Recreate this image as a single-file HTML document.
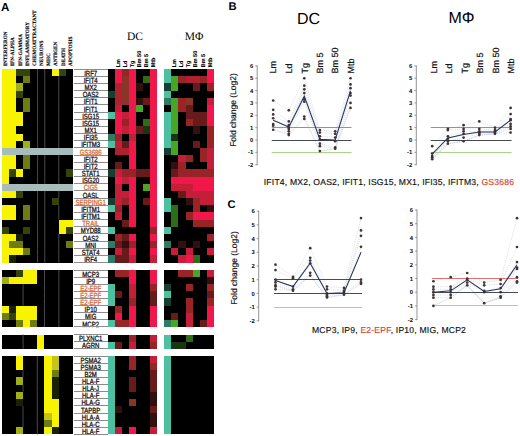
<!DOCTYPE html>
<html><head><meta charset="utf-8"><title>Figure</title>
<style>
html,body{margin:0;padding:0;background:#fff;}
body{width:520px;height:436px;overflow:hidden;font-family:"Liberation Sans",sans-serif;}
svg{display:block;}
</style></head>
<body>
<svg width="520" height="436" viewBox="0 0 520 436" text-rendering="geometricPrecision">
<rect x="0" y="0" width="520" height="436" fill="#fff"/>
<rect x="1.50" y="69.00" width="7.21" height="7.22" fill="#f8f300" shape-rendering="crispEdges"/>
<rect x="8.66" y="69.00" width="7.21" height="7.22" fill="#f8f300" shape-rendering="crispEdges"/>
<rect x="15.82" y="69.00" width="7.21" height="7.22" fill="#37430c" shape-rendering="crispEdges"/>
<rect x="22.98" y="69.00" width="7.21" height="7.22" fill="#37430c" shape-rendering="crispEdges"/>
<rect x="30.14" y="69.00" width="7.21" height="7.22" fill="#000000" shape-rendering="crispEdges"/>
<rect x="37.30" y="69.00" width="7.21" height="7.22" fill="#000000" shape-rendering="crispEdges"/>
<rect x="44.46" y="69.00" width="7.21" height="7.22" fill="#000000" shape-rendering="crispEdges"/>
<rect x="51.62" y="69.00" width="7.21" height="7.22" fill="#f8f300" shape-rendering="crispEdges"/>
<rect x="58.78" y="69.00" width="7.21" height="7.22" fill="#37430c" shape-rendering="crispEdges"/>
<rect x="65.94" y="69.00" width="7.21" height="7.22" fill="#000000" shape-rendering="crispEdges"/>
<rect x="108.00" y="69.00" width="6.85" height="7.22" fill="#000000" shape-rendering="crispEdges"/>
<rect x="114.80" y="69.00" width="7.15" height="7.22" fill="#f0184a" shape-rendering="crispEdges"/>
<rect x="121.90" y="69.00" width="7.15" height="7.22" fill="#982428" shape-rendering="crispEdges"/>
<rect x="129.00" y="69.00" width="7.15" height="7.22" fill="#f0184a" shape-rendering="crispEdges"/>
<rect x="136.10" y="69.00" width="7.15" height="7.22" fill="#000000" shape-rendering="crispEdges"/>
<rect x="143.20" y="69.00" width="7.15" height="7.22" fill="#000000" shape-rendering="crispEdges"/>
<rect x="150.30" y="69.00" width="7.15" height="7.22" fill="#f0184a" shape-rendering="crispEdges"/>
<rect x="164.20" y="69.00" width="7.25" height="7.22" fill="#4cc0a0" shape-rendering="crispEdges"/>
<rect x="171.40" y="69.00" width="7.10" height="7.22" fill="#000000" shape-rendering="crispEdges"/>
<rect x="178.45" y="69.00" width="7.10" height="7.22" fill="#000000" shape-rendering="crispEdges"/>
<rect x="185.50" y="69.00" width="7.10" height="7.22" fill="#000000" shape-rendering="crispEdges"/>
<rect x="192.55" y="69.00" width="7.10" height="7.22" fill="#000000" shape-rendering="crispEdges"/>
<rect x="199.60" y="69.00" width="7.10" height="7.22" fill="#000000" shape-rendering="crispEdges"/>
<rect x="206.65" y="69.00" width="7.10" height="7.22" fill="#f0184a" shape-rendering="crispEdges"/>
<rect x="1.50" y="76.17" width="7.21" height="7.22" fill="#f8f300" shape-rendering="crispEdges"/>
<rect x="8.66" y="76.17" width="7.21" height="7.22" fill="#f8f300" shape-rendering="crispEdges"/>
<rect x="15.82" y="76.17" width="7.21" height="7.22" fill="#000000" shape-rendering="crispEdges"/>
<rect x="22.98" y="76.17" width="7.21" height="7.22" fill="#6f7c12" shape-rendering="crispEdges"/>
<rect x="30.14" y="76.17" width="7.21" height="7.22" fill="#000000" shape-rendering="crispEdges"/>
<rect x="37.30" y="76.17" width="7.21" height="7.22" fill="#000000" shape-rendering="crispEdges"/>
<rect x="44.46" y="76.17" width="7.21" height="7.22" fill="#000000" shape-rendering="crispEdges"/>
<rect x="51.62" y="76.17" width="7.21" height="7.22" fill="#000000" shape-rendering="crispEdges"/>
<rect x="58.78" y="76.17" width="7.21" height="7.22" fill="#000000" shape-rendering="crispEdges"/>
<rect x="65.94" y="76.17" width="7.21" height="7.22" fill="#000000" shape-rendering="crispEdges"/>
<rect x="108.00" y="76.17" width="6.85" height="7.22" fill="#000000" shape-rendering="crispEdges"/>
<rect x="114.80" y="76.17" width="7.15" height="7.22" fill="#f0184a" shape-rendering="crispEdges"/>
<rect x="121.90" y="76.17" width="7.15" height="7.22" fill="#8a3527" shape-rendering="crispEdges"/>
<rect x="129.00" y="76.17" width="7.15" height="7.22" fill="#f0184a" shape-rendering="crispEdges"/>
<rect x="136.10" y="76.17" width="7.15" height="7.22" fill="#000000" shape-rendering="crispEdges"/>
<rect x="143.20" y="76.17" width="7.15" height="7.22" fill="#2d6c18" shape-rendering="crispEdges"/>
<rect x="150.30" y="76.17" width="7.15" height="7.22" fill="#f0184a" shape-rendering="crispEdges"/>
<rect x="164.20" y="76.17" width="7.25" height="7.22" fill="#4cc0a0" shape-rendering="crispEdges"/>
<rect x="171.40" y="76.17" width="7.10" height="7.22" fill="#46a626" shape-rendering="crispEdges"/>
<rect x="178.45" y="76.17" width="7.10" height="7.22" fill="#982428" shape-rendering="crispEdges"/>
<rect x="185.50" y="76.17" width="7.10" height="7.22" fill="#ae2230" shape-rendering="crispEdges"/>
<rect x="192.55" y="76.17" width="7.10" height="7.22" fill="#ae2230" shape-rendering="crispEdges"/>
<rect x="199.60" y="76.17" width="7.10" height="7.22" fill="#982428" shape-rendering="crispEdges"/>
<rect x="206.65" y="76.17" width="7.10" height="7.22" fill="#f0184a" shape-rendering="crispEdges"/>
<rect x="1.50" y="83.34" width="7.21" height="7.22" fill="#f8f300" shape-rendering="crispEdges"/>
<rect x="8.66" y="83.34" width="7.21" height="7.22" fill="#f8f300" shape-rendering="crispEdges"/>
<rect x="15.82" y="83.34" width="7.21" height="7.22" fill="#a2ae16" shape-rendering="crispEdges"/>
<rect x="22.98" y="83.34" width="7.21" height="7.22" fill="#000000" shape-rendering="crispEdges"/>
<rect x="30.14" y="83.34" width="7.21" height="7.22" fill="#000000" shape-rendering="crispEdges"/>
<rect x="37.30" y="83.34" width="7.21" height="7.22" fill="#000000" shape-rendering="crispEdges"/>
<rect x="44.46" y="83.34" width="7.21" height="7.22" fill="#000000" shape-rendering="crispEdges"/>
<rect x="51.62" y="83.34" width="7.21" height="7.22" fill="#000000" shape-rendering="crispEdges"/>
<rect x="58.78" y="83.34" width="7.21" height="7.22" fill="#000000" shape-rendering="crispEdges"/>
<rect x="65.94" y="83.34" width="7.21" height="7.22" fill="#000000" shape-rendering="crispEdges"/>
<rect x="108.00" y="83.34" width="6.85" height="7.22" fill="#000000" shape-rendering="crispEdges"/>
<rect x="114.80" y="83.34" width="7.15" height="7.22" fill="#ae2230" shape-rendering="crispEdges"/>
<rect x="121.90" y="83.34" width="7.15" height="7.22" fill="#8a3527" shape-rendering="crispEdges"/>
<rect x="129.00" y="83.34" width="7.15" height="7.22" fill="#f0184a" shape-rendering="crispEdges"/>
<rect x="136.10" y="83.34" width="7.15" height="7.22" fill="#331010" shape-rendering="crispEdges"/>
<rect x="143.20" y="83.34" width="7.15" height="7.22" fill="#000000" shape-rendering="crispEdges"/>
<rect x="150.30" y="83.34" width="7.15" height="7.22" fill="#f0184a" shape-rendering="crispEdges"/>
<rect x="164.20" y="83.34" width="7.25" height="7.22" fill="#173f30" shape-rendering="crispEdges"/>
<rect x="171.40" y="83.34" width="7.10" height="7.22" fill="#46a626" shape-rendering="crispEdges"/>
<rect x="178.45" y="83.34" width="7.10" height="7.22" fill="#000000" shape-rendering="crispEdges"/>
<rect x="185.50" y="83.34" width="7.10" height="7.22" fill="#000000" shape-rendering="crispEdges"/>
<rect x="192.55" y="83.34" width="7.10" height="7.22" fill="#671c1b" shape-rendering="crispEdges"/>
<rect x="199.60" y="83.34" width="7.10" height="7.22" fill="#000000" shape-rendering="crispEdges"/>
<rect x="206.65" y="83.34" width="7.10" height="7.22" fill="#982428" shape-rendering="crispEdges"/>
<rect x="1.50" y="90.51" width="7.21" height="7.22" fill="#f8f300" shape-rendering="crispEdges"/>
<rect x="8.66" y="90.51" width="7.21" height="7.22" fill="#f8f300" shape-rendering="crispEdges"/>
<rect x="15.82" y="90.51" width="7.21" height="7.22" fill="#37430c" shape-rendering="crispEdges"/>
<rect x="22.98" y="90.51" width="7.21" height="7.22" fill="#000000" shape-rendering="crispEdges"/>
<rect x="30.14" y="90.51" width="7.21" height="7.22" fill="#000000" shape-rendering="crispEdges"/>
<rect x="37.30" y="90.51" width="7.21" height="7.22" fill="#000000" shape-rendering="crispEdges"/>
<rect x="44.46" y="90.51" width="7.21" height="7.22" fill="#000000" shape-rendering="crispEdges"/>
<rect x="51.62" y="90.51" width="7.21" height="7.22" fill="#000000" shape-rendering="crispEdges"/>
<rect x="58.78" y="90.51" width="7.21" height="7.22" fill="#000000" shape-rendering="crispEdges"/>
<rect x="65.94" y="90.51" width="7.21" height="7.22" fill="#000000" shape-rendering="crispEdges"/>
<rect x="108.00" y="90.51" width="6.85" height="7.22" fill="#173f30" shape-rendering="crispEdges"/>
<rect x="114.80" y="90.51" width="7.15" height="7.22" fill="#ae2230" shape-rendering="crispEdges"/>
<rect x="121.90" y="90.51" width="7.15" height="7.22" fill="#8a3527" shape-rendering="crispEdges"/>
<rect x="129.00" y="90.51" width="7.15" height="7.22" fill="#f0184a" shape-rendering="crispEdges"/>
<rect x="136.10" y="90.51" width="7.15" height="7.22" fill="#000000" shape-rendering="crispEdges"/>
<rect x="143.20" y="90.51" width="7.15" height="7.22" fill="#000000" shape-rendering="crispEdges"/>
<rect x="150.30" y="90.51" width="7.15" height="7.22" fill="#f0184a" shape-rendering="crispEdges"/>
<rect x="164.20" y="90.51" width="7.25" height="7.22" fill="#4cc0a0" shape-rendering="crispEdges"/>
<rect x="171.40" y="90.51" width="7.10" height="7.22" fill="#000000" shape-rendering="crispEdges"/>
<rect x="178.45" y="90.51" width="7.10" height="7.22" fill="#000000" shape-rendering="crispEdges"/>
<rect x="185.50" y="90.51" width="7.10" height="7.22" fill="#000000" shape-rendering="crispEdges"/>
<rect x="192.55" y="90.51" width="7.10" height="7.22" fill="#000000" shape-rendering="crispEdges"/>
<rect x="199.60" y="90.51" width="7.10" height="7.22" fill="#000000" shape-rendering="crispEdges"/>
<rect x="206.65" y="90.51" width="7.10" height="7.22" fill="#000000" shape-rendering="crispEdges"/>
<rect x="1.50" y="97.68" width="7.21" height="7.22" fill="#f8f300" shape-rendering="crispEdges"/>
<rect x="8.66" y="97.68" width="7.21" height="7.22" fill="#f8f300" shape-rendering="crispEdges"/>
<rect x="15.82" y="97.68" width="7.21" height="7.22" fill="#000000" shape-rendering="crispEdges"/>
<rect x="22.98" y="97.68" width="7.21" height="7.22" fill="#6f7c12" shape-rendering="crispEdges"/>
<rect x="30.14" y="97.68" width="7.21" height="7.22" fill="#000000" shape-rendering="crispEdges"/>
<rect x="37.30" y="97.68" width="7.21" height="7.22" fill="#000000" shape-rendering="crispEdges"/>
<rect x="44.46" y="97.68" width="7.21" height="7.22" fill="#000000" shape-rendering="crispEdges"/>
<rect x="51.62" y="97.68" width="7.21" height="7.22" fill="#000000" shape-rendering="crispEdges"/>
<rect x="58.78" y="97.68" width="7.21" height="7.22" fill="#000000" shape-rendering="crispEdges"/>
<rect x="65.94" y="97.68" width="7.21" height="7.22" fill="#000000" shape-rendering="crispEdges"/>
<rect x="108.00" y="97.68" width="6.85" height="7.22" fill="#000000" shape-rendering="crispEdges"/>
<rect x="114.80" y="97.68" width="7.15" height="7.22" fill="#ae2230" shape-rendering="crispEdges"/>
<rect x="121.90" y="97.68" width="7.15" height="7.22" fill="#8a3527" shape-rendering="crispEdges"/>
<rect x="129.00" y="97.68" width="7.15" height="7.22" fill="#f0184a" shape-rendering="crispEdges"/>
<rect x="136.10" y="97.68" width="7.15" height="7.22" fill="#331010" shape-rendering="crispEdges"/>
<rect x="143.20" y="97.68" width="7.15" height="7.22" fill="#671c1b" shape-rendering="crispEdges"/>
<rect x="150.30" y="97.68" width="7.15" height="7.22" fill="#f0184a" shape-rendering="crispEdges"/>
<rect x="164.20" y="97.68" width="7.25" height="7.22" fill="#2e7a62" shape-rendering="crispEdges"/>
<rect x="171.40" y="97.68" width="7.10" height="7.22" fill="#46a626" shape-rendering="crispEdges"/>
<rect x="178.45" y="97.68" width="7.10" height="7.22" fill="#982428" shape-rendering="crispEdges"/>
<rect x="185.50" y="97.68" width="7.10" height="7.22" fill="#8a3527" shape-rendering="crispEdges"/>
<rect x="192.55" y="97.68" width="7.10" height="7.22" fill="#000000" shape-rendering="crispEdges"/>
<rect x="199.60" y="97.68" width="7.10" height="7.22" fill="#000000" shape-rendering="crispEdges"/>
<rect x="206.65" y="97.68" width="7.10" height="7.22" fill="#c41e39" shape-rendering="crispEdges"/>
<rect x="1.50" y="104.85" width="7.21" height="7.22" fill="#f8f300" shape-rendering="crispEdges"/>
<rect x="8.66" y="104.85" width="7.21" height="7.22" fill="#f8f300" shape-rendering="crispEdges"/>
<rect x="15.82" y="104.85" width="7.21" height="7.22" fill="#000000" shape-rendering="crispEdges"/>
<rect x="22.98" y="104.85" width="7.21" height="7.22" fill="#6f7c12" shape-rendering="crispEdges"/>
<rect x="30.14" y="104.85" width="7.21" height="7.22" fill="#000000" shape-rendering="crispEdges"/>
<rect x="37.30" y="104.85" width="7.21" height="7.22" fill="#000000" shape-rendering="crispEdges"/>
<rect x="44.46" y="104.85" width="7.21" height="7.22" fill="#000000" shape-rendering="crispEdges"/>
<rect x="51.62" y="104.85" width="7.21" height="7.22" fill="#000000" shape-rendering="crispEdges"/>
<rect x="58.78" y="104.85" width="7.21" height="7.22" fill="#000000" shape-rendering="crispEdges"/>
<rect x="65.94" y="104.85" width="7.21" height="7.22" fill="#000000" shape-rendering="crispEdges"/>
<rect x="108.00" y="104.85" width="6.85" height="7.22" fill="#000000" shape-rendering="crispEdges"/>
<rect x="114.80" y="104.85" width="7.15" height="7.22" fill="#c41e39" shape-rendering="crispEdges"/>
<rect x="121.90" y="104.85" width="7.15" height="7.22" fill="#000000" shape-rendering="crispEdges"/>
<rect x="129.00" y="104.85" width="7.15" height="7.22" fill="#f0184a" shape-rendering="crispEdges"/>
<rect x="136.10" y="104.85" width="7.15" height="7.22" fill="#46a626" shape-rendering="crispEdges"/>
<rect x="143.20" y="104.85" width="7.15" height="7.22" fill="#000000" shape-rendering="crispEdges"/>
<rect x="150.30" y="104.85" width="7.15" height="7.22" fill="#f0184a" shape-rendering="crispEdges"/>
<rect x="164.20" y="104.85" width="7.25" height="7.22" fill="#000000" shape-rendering="crispEdges"/>
<rect x="171.40" y="104.85" width="7.10" height="7.22" fill="#46a626" shape-rendering="crispEdges"/>
<rect x="178.45" y="104.85" width="7.10" height="7.22" fill="#982428" shape-rendering="crispEdges"/>
<rect x="185.50" y="104.85" width="7.10" height="7.22" fill="#671c1b" shape-rendering="crispEdges"/>
<rect x="192.55" y="104.85" width="7.10" height="7.22" fill="#000000" shape-rendering="crispEdges"/>
<rect x="199.60" y="104.85" width="7.10" height="7.22" fill="#000000" shape-rendering="crispEdges"/>
<rect x="206.65" y="104.85" width="7.10" height="7.22" fill="#f0184a" shape-rendering="crispEdges"/>
<rect x="1.50" y="112.02" width="7.21" height="7.22" fill="#f8f300" shape-rendering="crispEdges"/>
<rect x="8.66" y="112.02" width="7.21" height="7.22" fill="#f8f300" shape-rendering="crispEdges"/>
<rect x="15.82" y="112.02" width="7.21" height="7.22" fill="#f8f300" shape-rendering="crispEdges"/>
<rect x="22.98" y="112.02" width="7.21" height="7.22" fill="#000000" shape-rendering="crispEdges"/>
<rect x="30.14" y="112.02" width="7.21" height="7.22" fill="#000000" shape-rendering="crispEdges"/>
<rect x="37.30" y="112.02" width="7.21" height="7.22" fill="#000000" shape-rendering="crispEdges"/>
<rect x="44.46" y="112.02" width="7.21" height="7.22" fill="#000000" shape-rendering="crispEdges"/>
<rect x="51.62" y="112.02" width="7.21" height="7.22" fill="#000000" shape-rendering="crispEdges"/>
<rect x="58.78" y="112.02" width="7.21" height="7.22" fill="#000000" shape-rendering="crispEdges"/>
<rect x="65.94" y="112.02" width="7.21" height="7.22" fill="#000000" shape-rendering="crispEdges"/>
<rect x="108.00" y="112.02" width="6.85" height="7.22" fill="#4cc0a0" shape-rendering="crispEdges"/>
<rect x="114.80" y="112.02" width="7.15" height="7.22" fill="#f0184a" shape-rendering="crispEdges"/>
<rect x="121.90" y="112.02" width="7.15" height="7.22" fill="#c41e39" shape-rendering="crispEdges"/>
<rect x="129.00" y="112.02" width="7.15" height="7.22" fill="#f0184a" shape-rendering="crispEdges"/>
<rect x="136.10" y="112.02" width="7.15" height="7.22" fill="#000000" shape-rendering="crispEdges"/>
<rect x="143.20" y="112.02" width="7.15" height="7.22" fill="#000000" shape-rendering="crispEdges"/>
<rect x="150.30" y="112.02" width="7.15" height="7.22" fill="#f0184a" shape-rendering="crispEdges"/>
<rect x="164.20" y="112.02" width="7.25" height="7.22" fill="#4cc0a0" shape-rendering="crispEdges"/>
<rect x="171.40" y="112.02" width="7.10" height="7.22" fill="#46a626" shape-rendering="crispEdges"/>
<rect x="178.45" y="112.02" width="7.10" height="7.22" fill="#000000" shape-rendering="crispEdges"/>
<rect x="185.50" y="112.02" width="7.10" height="7.22" fill="#671c1b" shape-rendering="crispEdges"/>
<rect x="192.55" y="112.02" width="7.10" height="7.22" fill="#671c1b" shape-rendering="crispEdges"/>
<rect x="199.60" y="112.02" width="7.10" height="7.22" fill="#671c1b" shape-rendering="crispEdges"/>
<rect x="206.65" y="112.02" width="7.10" height="7.22" fill="#f0184a" shape-rendering="crispEdges"/>
<rect x="1.50" y="119.19" width="7.21" height="7.22" fill="#f8f300" shape-rendering="crispEdges"/>
<rect x="8.66" y="119.19" width="7.21" height="7.22" fill="#f8f300" shape-rendering="crispEdges"/>
<rect x="15.82" y="119.19" width="7.21" height="7.22" fill="#f8f300" shape-rendering="crispEdges"/>
<rect x="22.98" y="119.19" width="7.21" height="7.22" fill="#000000" shape-rendering="crispEdges"/>
<rect x="30.14" y="119.19" width="7.21" height="7.22" fill="#000000" shape-rendering="crispEdges"/>
<rect x="37.30" y="119.19" width="7.21" height="7.22" fill="#000000" shape-rendering="crispEdges"/>
<rect x="44.46" y="119.19" width="7.21" height="7.22" fill="#000000" shape-rendering="crispEdges"/>
<rect x="51.62" y="119.19" width="7.21" height="7.22" fill="#000000" shape-rendering="crispEdges"/>
<rect x="58.78" y="119.19" width="7.21" height="7.22" fill="#000000" shape-rendering="crispEdges"/>
<rect x="65.94" y="119.19" width="7.21" height="7.22" fill="#000000" shape-rendering="crispEdges"/>
<rect x="108.00" y="119.19" width="6.85" height="7.22" fill="#000000" shape-rendering="crispEdges"/>
<rect x="114.80" y="119.19" width="7.15" height="7.22" fill="#f0184a" shape-rendering="crispEdges"/>
<rect x="121.90" y="119.19" width="7.15" height="7.22" fill="#982428" shape-rendering="crispEdges"/>
<rect x="129.00" y="119.19" width="7.15" height="7.22" fill="#f0184a" shape-rendering="crispEdges"/>
<rect x="136.10" y="119.19" width="7.15" height="7.22" fill="#000000" shape-rendering="crispEdges"/>
<rect x="143.20" y="119.19" width="7.15" height="7.22" fill="#2d6c18" shape-rendering="crispEdges"/>
<rect x="150.30" y="119.19" width="7.15" height="7.22" fill="#f0184a" shape-rendering="crispEdges"/>
<rect x="164.20" y="119.19" width="7.25" height="7.22" fill="#4cc0a0" shape-rendering="crispEdges"/>
<rect x="171.40" y="119.19" width="7.10" height="7.22" fill="#46a626" shape-rendering="crispEdges"/>
<rect x="178.45" y="119.19" width="7.10" height="7.22" fill="#000000" shape-rendering="crispEdges"/>
<rect x="185.50" y="119.19" width="7.10" height="7.22" fill="#982428" shape-rendering="crispEdges"/>
<rect x="192.55" y="119.19" width="7.10" height="7.22" fill="#671c1b" shape-rendering="crispEdges"/>
<rect x="199.60" y="119.19" width="7.10" height="7.22" fill="#671c1b" shape-rendering="crispEdges"/>
<rect x="206.65" y="119.19" width="7.10" height="7.22" fill="#f0184a" shape-rendering="crispEdges"/>
<rect x="1.50" y="126.36" width="7.21" height="7.22" fill="#f8f300" shape-rendering="crispEdges"/>
<rect x="8.66" y="126.36" width="7.21" height="7.22" fill="#f8f300" shape-rendering="crispEdges"/>
<rect x="15.82" y="126.36" width="7.21" height="7.22" fill="#000000" shape-rendering="crispEdges"/>
<rect x="22.98" y="126.36" width="7.21" height="7.22" fill="#000000" shape-rendering="crispEdges"/>
<rect x="30.14" y="126.36" width="7.21" height="7.22" fill="#000000" shape-rendering="crispEdges"/>
<rect x="37.30" y="126.36" width="7.21" height="7.22" fill="#000000" shape-rendering="crispEdges"/>
<rect x="44.46" y="126.36" width="7.21" height="7.22" fill="#000000" shape-rendering="crispEdges"/>
<rect x="51.62" y="126.36" width="7.21" height="7.22" fill="#000000" shape-rendering="crispEdges"/>
<rect x="58.78" y="126.36" width="7.21" height="7.22" fill="#000000" shape-rendering="crispEdges"/>
<rect x="65.94" y="126.36" width="7.21" height="7.22" fill="#000000" shape-rendering="crispEdges"/>
<rect x="108.00" y="126.36" width="6.85" height="7.22" fill="#000000" shape-rendering="crispEdges"/>
<rect x="114.80" y="126.36" width="7.15" height="7.22" fill="#f0184a" shape-rendering="crispEdges"/>
<rect x="121.90" y="126.36" width="7.15" height="7.22" fill="#c41e39" shape-rendering="crispEdges"/>
<rect x="129.00" y="126.36" width="7.15" height="7.22" fill="#f0184a" shape-rendering="crispEdges"/>
<rect x="136.10" y="126.36" width="7.15" height="7.22" fill="#671c1b" shape-rendering="crispEdges"/>
<rect x="143.20" y="126.36" width="7.15" height="7.22" fill="#183610" shape-rendering="crispEdges"/>
<rect x="150.30" y="126.36" width="7.15" height="7.22" fill="#f0184a" shape-rendering="crispEdges"/>
<rect x="164.20" y="126.36" width="7.25" height="7.22" fill="#4cc0a0" shape-rendering="crispEdges"/>
<rect x="171.40" y="126.36" width="7.10" height="7.22" fill="#46a626" shape-rendering="crispEdges"/>
<rect x="178.45" y="126.36" width="7.10" height="7.22" fill="#000000" shape-rendering="crispEdges"/>
<rect x="185.50" y="126.36" width="7.10" height="7.22" fill="#000000" shape-rendering="crispEdges"/>
<rect x="192.55" y="126.36" width="7.10" height="7.22" fill="#331010" shape-rendering="crispEdges"/>
<rect x="199.60" y="126.36" width="7.10" height="7.22" fill="#000000" shape-rendering="crispEdges"/>
<rect x="206.65" y="126.36" width="7.10" height="7.22" fill="#982428" shape-rendering="crispEdges"/>
<rect x="1.50" y="133.53" width="7.21" height="7.22" fill="#f8f300" shape-rendering="crispEdges"/>
<rect x="8.66" y="133.53" width="7.21" height="7.22" fill="#f8f300" shape-rendering="crispEdges"/>
<rect x="15.82" y="133.53" width="7.21" height="7.22" fill="#f8f300" shape-rendering="crispEdges"/>
<rect x="22.98" y="133.53" width="7.21" height="7.22" fill="#000000" shape-rendering="crispEdges"/>
<rect x="30.14" y="133.53" width="7.21" height="7.22" fill="#000000" shape-rendering="crispEdges"/>
<rect x="37.30" y="133.53" width="7.21" height="7.22" fill="#000000" shape-rendering="crispEdges"/>
<rect x="44.46" y="133.53" width="7.21" height="7.22" fill="#000000" shape-rendering="crispEdges"/>
<rect x="51.62" y="133.53" width="7.21" height="7.22" fill="#000000" shape-rendering="crispEdges"/>
<rect x="58.78" y="133.53" width="7.21" height="7.22" fill="#000000" shape-rendering="crispEdges"/>
<rect x="65.94" y="133.53" width="7.21" height="7.22" fill="#000000" shape-rendering="crispEdges"/>
<rect x="108.00" y="133.53" width="6.85" height="7.22" fill="#2e7a62" shape-rendering="crispEdges"/>
<rect x="114.80" y="133.53" width="7.15" height="7.22" fill="#982428" shape-rendering="crispEdges"/>
<rect x="121.90" y="133.53" width="7.15" height="7.22" fill="#000000" shape-rendering="crispEdges"/>
<rect x="129.00" y="133.53" width="7.15" height="7.22" fill="#c41e39" shape-rendering="crispEdges"/>
<rect x="136.10" y="133.53" width="7.15" height="7.22" fill="#000000" shape-rendering="crispEdges"/>
<rect x="143.20" y="133.53" width="7.15" height="7.22" fill="#000000" shape-rendering="crispEdges"/>
<rect x="150.30" y="133.53" width="7.15" height="7.22" fill="#f0184a" shape-rendering="crispEdges"/>
<rect x="164.20" y="133.53" width="7.25" height="7.22" fill="#4cc0a0" shape-rendering="crispEdges"/>
<rect x="171.40" y="133.53" width="7.10" height="7.22" fill="#183610" shape-rendering="crispEdges"/>
<rect x="178.45" y="133.53" width="7.10" height="7.22" fill="#000000" shape-rendering="crispEdges"/>
<rect x="185.50" y="133.53" width="7.10" height="7.22" fill="#000000" shape-rendering="crispEdges"/>
<rect x="192.55" y="133.53" width="7.10" height="7.22" fill="#000000" shape-rendering="crispEdges"/>
<rect x="199.60" y="133.53" width="7.10" height="7.22" fill="#000000" shape-rendering="crispEdges"/>
<rect x="206.65" y="133.53" width="7.10" height="7.22" fill="#982428" shape-rendering="crispEdges"/>
<rect x="1.50" y="140.70" width="7.21" height="7.22" fill="#f8f300" shape-rendering="crispEdges"/>
<rect x="8.66" y="140.70" width="7.21" height="7.22" fill="#f8f300" shape-rendering="crispEdges"/>
<rect x="15.82" y="140.70" width="7.21" height="7.22" fill="#000000" shape-rendering="crispEdges"/>
<rect x="22.98" y="140.70" width="7.21" height="7.22" fill="#a2ae16" shape-rendering="crispEdges"/>
<rect x="30.14" y="140.70" width="7.21" height="7.22" fill="#000000" shape-rendering="crispEdges"/>
<rect x="37.30" y="140.70" width="7.21" height="7.22" fill="#000000" shape-rendering="crispEdges"/>
<rect x="44.46" y="140.70" width="7.21" height="7.22" fill="#000000" shape-rendering="crispEdges"/>
<rect x="51.62" y="140.70" width="7.21" height="7.22" fill="#000000" shape-rendering="crispEdges"/>
<rect x="58.78" y="140.70" width="7.21" height="7.22" fill="#000000" shape-rendering="crispEdges"/>
<rect x="65.94" y="140.70" width="7.21" height="7.22" fill="#000000" shape-rendering="crispEdges"/>
<rect x="108.00" y="140.70" width="6.85" height="7.22" fill="#4cc0a0" shape-rendering="crispEdges"/>
<rect x="114.80" y="140.70" width="7.15" height="7.22" fill="#c41e39" shape-rendering="crispEdges"/>
<rect x="121.90" y="140.70" width="7.15" height="7.22" fill="#671c1b" shape-rendering="crispEdges"/>
<rect x="129.00" y="140.70" width="7.15" height="7.22" fill="#f0184a" shape-rendering="crispEdges"/>
<rect x="136.10" y="140.70" width="7.15" height="7.22" fill="#000000" shape-rendering="crispEdges"/>
<rect x="143.20" y="140.70" width="7.15" height="7.22" fill="#000000" shape-rendering="crispEdges"/>
<rect x="150.30" y="140.70" width="7.15" height="7.22" fill="#f0184a" shape-rendering="crispEdges"/>
<rect x="164.20" y="140.70" width="7.25" height="7.22" fill="#4cc0a0" shape-rendering="crispEdges"/>
<rect x="171.40" y="140.70" width="7.10" height="7.22" fill="#46a626" shape-rendering="crispEdges"/>
<rect x="178.45" y="140.70" width="7.10" height="7.22" fill="#000000" shape-rendering="crispEdges"/>
<rect x="185.50" y="140.70" width="7.10" height="7.22" fill="#000000" shape-rendering="crispEdges"/>
<rect x="192.55" y="140.70" width="7.10" height="7.22" fill="#671c1b" shape-rendering="crispEdges"/>
<rect x="199.60" y="140.70" width="7.10" height="7.22" fill="#000000" shape-rendering="crispEdges"/>
<rect x="206.65" y="140.70" width="7.10" height="7.22" fill="#982428" shape-rendering="crispEdges"/>
<rect x="1.50" y="147.87" width="7.21" height="7.22" fill="#a9bcbc" shape-rendering="crispEdges"/>
<rect x="8.66" y="147.87" width="7.21" height="7.22" fill="#a9bcbc" shape-rendering="crispEdges"/>
<rect x="15.82" y="147.87" width="7.21" height="7.22" fill="#a9bcbc" shape-rendering="crispEdges"/>
<rect x="22.98" y="147.87" width="7.21" height="7.22" fill="#a9bcbc" shape-rendering="crispEdges"/>
<rect x="30.14" y="147.87" width="7.21" height="7.22" fill="#a9bcbc" shape-rendering="crispEdges"/>
<rect x="37.30" y="147.87" width="7.21" height="7.22" fill="#a9bcbc" shape-rendering="crispEdges"/>
<rect x="44.46" y="147.87" width="7.21" height="7.22" fill="#a9bcbc" shape-rendering="crispEdges"/>
<rect x="51.62" y="147.87" width="7.21" height="7.22" fill="#a9bcbc" shape-rendering="crispEdges"/>
<rect x="58.78" y="147.87" width="7.21" height="7.22" fill="#a9bcbc" shape-rendering="crispEdges"/>
<rect x="65.94" y="147.87" width="7.21" height="7.22" fill="#a9bcbc" shape-rendering="crispEdges"/>
<rect x="108.00" y="147.87" width="6.85" height="7.22" fill="#000000" shape-rendering="crispEdges"/>
<rect x="114.80" y="147.87" width="7.15" height="7.22" fill="#ae2230" shape-rendering="crispEdges"/>
<rect x="121.90" y="147.87" width="7.15" height="7.22" fill="#ae2230" shape-rendering="crispEdges"/>
<rect x="129.00" y="147.87" width="7.15" height="7.22" fill="#f0184a" shape-rendering="crispEdges"/>
<rect x="136.10" y="147.87" width="7.15" height="7.22" fill="#000000" shape-rendering="crispEdges"/>
<rect x="143.20" y="147.87" width="7.15" height="7.22" fill="#000000" shape-rendering="crispEdges"/>
<rect x="150.30" y="147.87" width="7.15" height="7.22" fill="#f0184a" shape-rendering="crispEdges"/>
<rect x="164.20" y="147.87" width="7.25" height="7.22" fill="#173f30" shape-rendering="crispEdges"/>
<rect x="171.40" y="147.87" width="7.10" height="7.22" fill="#46a626" shape-rendering="crispEdges"/>
<rect x="178.45" y="147.87" width="7.10" height="7.22" fill="#000000" shape-rendering="crispEdges"/>
<rect x="185.50" y="147.87" width="7.10" height="7.22" fill="#000000" shape-rendering="crispEdges"/>
<rect x="192.55" y="147.87" width="7.10" height="7.22" fill="#000000" shape-rendering="crispEdges"/>
<rect x="199.60" y="147.87" width="7.10" height="7.22" fill="#982428" shape-rendering="crispEdges"/>
<rect x="206.65" y="147.87" width="7.10" height="7.22" fill="#c41e39" shape-rendering="crispEdges"/>
<rect x="1.50" y="155.04" width="7.21" height="7.22" fill="#f8f300" shape-rendering="crispEdges"/>
<rect x="8.66" y="155.04" width="7.21" height="7.22" fill="#f8f300" shape-rendering="crispEdges"/>
<rect x="15.82" y="155.04" width="7.21" height="7.22" fill="#000000" shape-rendering="crispEdges"/>
<rect x="22.98" y="155.04" width="7.21" height="7.22" fill="#6f7c12" shape-rendering="crispEdges"/>
<rect x="30.14" y="155.04" width="7.21" height="7.22" fill="#000000" shape-rendering="crispEdges"/>
<rect x="37.30" y="155.04" width="7.21" height="7.22" fill="#000000" shape-rendering="crispEdges"/>
<rect x="44.46" y="155.04" width="7.21" height="7.22" fill="#000000" shape-rendering="crispEdges"/>
<rect x="51.62" y="155.04" width="7.21" height="7.22" fill="#000000" shape-rendering="crispEdges"/>
<rect x="58.78" y="155.04" width="7.21" height="7.22" fill="#000000" shape-rendering="crispEdges"/>
<rect x="65.94" y="155.04" width="7.21" height="7.22" fill="#000000" shape-rendering="crispEdges"/>
<rect x="108.00" y="155.04" width="6.85" height="7.22" fill="#000000" shape-rendering="crispEdges"/>
<rect x="114.80" y="155.04" width="7.15" height="7.22" fill="#000000" shape-rendering="crispEdges"/>
<rect x="121.90" y="155.04" width="7.15" height="7.22" fill="#000000" shape-rendering="crispEdges"/>
<rect x="129.00" y="155.04" width="7.15" height="7.22" fill="#f0184a" shape-rendering="crispEdges"/>
<rect x="136.10" y="155.04" width="7.15" height="7.22" fill="#000000" shape-rendering="crispEdges"/>
<rect x="143.20" y="155.04" width="7.15" height="7.22" fill="#000000" shape-rendering="crispEdges"/>
<rect x="150.30" y="155.04" width="7.15" height="7.22" fill="#f0184a" shape-rendering="crispEdges"/>
<rect x="164.20" y="155.04" width="7.25" height="7.22" fill="#000000" shape-rendering="crispEdges"/>
<rect x="171.40" y="155.04" width="7.10" height="7.22" fill="#000000" shape-rendering="crispEdges"/>
<rect x="178.45" y="155.04" width="7.10" height="7.22" fill="#c41e39" shape-rendering="crispEdges"/>
<rect x="185.50" y="155.04" width="7.10" height="7.22" fill="#982428" shape-rendering="crispEdges"/>
<rect x="192.55" y="155.04" width="7.10" height="7.22" fill="#000000" shape-rendering="crispEdges"/>
<rect x="199.60" y="155.04" width="7.10" height="7.22" fill="#982428" shape-rendering="crispEdges"/>
<rect x="206.65" y="155.04" width="7.10" height="7.22" fill="#c41e39" shape-rendering="crispEdges"/>
<rect x="1.50" y="162.21" width="7.21" height="7.22" fill="#f8f300" shape-rendering="crispEdges"/>
<rect x="8.66" y="162.21" width="7.21" height="7.22" fill="#f8f300" shape-rendering="crispEdges"/>
<rect x="15.82" y="162.21" width="7.21" height="7.22" fill="#000000" shape-rendering="crispEdges"/>
<rect x="22.98" y="162.21" width="7.21" height="7.22" fill="#6f7c12" shape-rendering="crispEdges"/>
<rect x="30.14" y="162.21" width="7.21" height="7.22" fill="#000000" shape-rendering="crispEdges"/>
<rect x="37.30" y="162.21" width="7.21" height="7.22" fill="#000000" shape-rendering="crispEdges"/>
<rect x="44.46" y="162.21" width="7.21" height="7.22" fill="#000000" shape-rendering="crispEdges"/>
<rect x="51.62" y="162.21" width="7.21" height="7.22" fill="#000000" shape-rendering="crispEdges"/>
<rect x="58.78" y="162.21" width="7.21" height="7.22" fill="#000000" shape-rendering="crispEdges"/>
<rect x="65.94" y="162.21" width="7.21" height="7.22" fill="#000000" shape-rendering="crispEdges"/>
<rect x="108.00" y="162.21" width="6.85" height="7.22" fill="#000000" shape-rendering="crispEdges"/>
<rect x="114.80" y="162.21" width="7.15" height="7.22" fill="#671c1b" shape-rendering="crispEdges"/>
<rect x="121.90" y="162.21" width="7.15" height="7.22" fill="#000000" shape-rendering="crispEdges"/>
<rect x="129.00" y="162.21" width="7.15" height="7.22" fill="#f0184a" shape-rendering="crispEdges"/>
<rect x="136.10" y="162.21" width="7.15" height="7.22" fill="#000000" shape-rendering="crispEdges"/>
<rect x="143.20" y="162.21" width="7.15" height="7.22" fill="#000000" shape-rendering="crispEdges"/>
<rect x="150.30" y="162.21" width="7.15" height="7.22" fill="#f0184a" shape-rendering="crispEdges"/>
<rect x="164.20" y="162.21" width="7.25" height="7.22" fill="#000000" shape-rendering="crispEdges"/>
<rect x="171.40" y="162.21" width="7.10" height="7.22" fill="#331010" shape-rendering="crispEdges"/>
<rect x="178.45" y="162.21" width="7.10" height="7.22" fill="#982428" shape-rendering="crispEdges"/>
<rect x="185.50" y="162.21" width="7.10" height="7.22" fill="#000000" shape-rendering="crispEdges"/>
<rect x="192.55" y="162.21" width="7.10" height="7.22" fill="#000000" shape-rendering="crispEdges"/>
<rect x="199.60" y="162.21" width="7.10" height="7.22" fill="#000000" shape-rendering="crispEdges"/>
<rect x="206.65" y="162.21" width="7.10" height="7.22" fill="#c41e39" shape-rendering="crispEdges"/>
<rect x="1.50" y="169.38" width="7.21" height="7.22" fill="#f8f300" shape-rendering="crispEdges"/>
<rect x="8.66" y="169.38" width="7.21" height="7.22" fill="#37430c" shape-rendering="crispEdges"/>
<rect x="15.82" y="169.38" width="7.21" height="7.22" fill="#f8f300" shape-rendering="crispEdges"/>
<rect x="22.98" y="169.38" width="7.21" height="7.22" fill="#000000" shape-rendering="crispEdges"/>
<rect x="30.14" y="169.38" width="7.21" height="7.22" fill="#000000" shape-rendering="crispEdges"/>
<rect x="37.30" y="169.38" width="7.21" height="7.22" fill="#000000" shape-rendering="crispEdges"/>
<rect x="44.46" y="169.38" width="7.21" height="7.22" fill="#000000" shape-rendering="crispEdges"/>
<rect x="51.62" y="169.38" width="7.21" height="7.22" fill="#000000" shape-rendering="crispEdges"/>
<rect x="58.78" y="169.38" width="7.21" height="7.22" fill="#000000" shape-rendering="crispEdges"/>
<rect x="65.94" y="169.38" width="7.21" height="7.22" fill="#37430c" shape-rendering="crispEdges"/>
<rect x="108.00" y="169.38" width="6.85" height="7.22" fill="#173f30" shape-rendering="crispEdges"/>
<rect x="114.80" y="169.38" width="7.15" height="7.22" fill="#c41e39" shape-rendering="crispEdges"/>
<rect x="121.90" y="169.38" width="7.15" height="7.22" fill="#982428" shape-rendering="crispEdges"/>
<rect x="129.00" y="169.38" width="7.15" height="7.22" fill="#982428" shape-rendering="crispEdges"/>
<rect x="136.10" y="169.38" width="7.15" height="7.22" fill="#671c1b" shape-rendering="crispEdges"/>
<rect x="143.20" y="169.38" width="7.15" height="7.22" fill="#671c1b" shape-rendering="crispEdges"/>
<rect x="150.30" y="169.38" width="7.15" height="7.22" fill="#f0184a" shape-rendering="crispEdges"/>
<rect x="164.20" y="169.38" width="7.25" height="7.22" fill="#000000" shape-rendering="crispEdges"/>
<rect x="171.40" y="169.38" width="7.10" height="7.22" fill="#671c1b" shape-rendering="crispEdges"/>
<rect x="178.45" y="169.38" width="7.10" height="7.22" fill="#982428" shape-rendering="crispEdges"/>
<rect x="185.50" y="169.38" width="7.10" height="7.22" fill="#982428" shape-rendering="crispEdges"/>
<rect x="192.55" y="169.38" width="7.10" height="7.22" fill="#982428" shape-rendering="crispEdges"/>
<rect x="199.60" y="169.38" width="7.10" height="7.22" fill="#982428" shape-rendering="crispEdges"/>
<rect x="206.65" y="169.38" width="7.10" height="7.22" fill="#982428" shape-rendering="crispEdges"/>
<rect x="1.50" y="176.55" width="7.21" height="7.22" fill="#f8f300" shape-rendering="crispEdges"/>
<rect x="8.66" y="176.55" width="7.21" height="7.22" fill="#000000" shape-rendering="crispEdges"/>
<rect x="15.82" y="176.55" width="7.21" height="7.22" fill="#000000" shape-rendering="crispEdges"/>
<rect x="22.98" y="176.55" width="7.21" height="7.22" fill="#000000" shape-rendering="crispEdges"/>
<rect x="30.14" y="176.55" width="7.21" height="7.22" fill="#000000" shape-rendering="crispEdges"/>
<rect x="37.30" y="176.55" width="7.21" height="7.22" fill="#000000" shape-rendering="crispEdges"/>
<rect x="44.46" y="176.55" width="7.21" height="7.22" fill="#000000" shape-rendering="crispEdges"/>
<rect x="51.62" y="176.55" width="7.21" height="7.22" fill="#000000" shape-rendering="crispEdges"/>
<rect x="58.78" y="176.55" width="7.21" height="7.22" fill="#000000" shape-rendering="crispEdges"/>
<rect x="65.94" y="176.55" width="7.21" height="7.22" fill="#000000" shape-rendering="crispEdges"/>
<rect x="108.00" y="176.55" width="6.85" height="7.22" fill="#000000" shape-rendering="crispEdges"/>
<rect x="114.80" y="176.55" width="7.15" height="7.22" fill="#f0184a" shape-rendering="crispEdges"/>
<rect x="121.90" y="176.55" width="7.15" height="7.22" fill="#c41e39" shape-rendering="crispEdges"/>
<rect x="129.00" y="176.55" width="7.15" height="7.22" fill="#f0184a" shape-rendering="crispEdges"/>
<rect x="136.10" y="176.55" width="7.15" height="7.22" fill="#000000" shape-rendering="crispEdges"/>
<rect x="143.20" y="176.55" width="7.15" height="7.22" fill="#000000" shape-rendering="crispEdges"/>
<rect x="150.30" y="176.55" width="7.15" height="7.22" fill="#f0184a" shape-rendering="crispEdges"/>
<rect x="164.20" y="176.55" width="7.25" height="7.22" fill="#000000" shape-rendering="crispEdges"/>
<rect x="171.40" y="176.55" width="7.10" height="7.22" fill="#f0184a" shape-rendering="crispEdges"/>
<rect x="178.45" y="176.55" width="7.10" height="7.22" fill="#f0184a" shape-rendering="crispEdges"/>
<rect x="185.50" y="176.55" width="7.10" height="7.22" fill="#f0184a" shape-rendering="crispEdges"/>
<rect x="192.55" y="176.55" width="7.10" height="7.22" fill="#f0184a" shape-rendering="crispEdges"/>
<rect x="199.60" y="176.55" width="7.10" height="7.22" fill="#f0184a" shape-rendering="crispEdges"/>
<rect x="206.65" y="176.55" width="7.10" height="7.22" fill="#f0184a" shape-rendering="crispEdges"/>
<rect x="1.50" y="183.72" width="7.21" height="7.22" fill="#a9bcbc" shape-rendering="crispEdges"/>
<rect x="8.66" y="183.72" width="7.21" height="7.22" fill="#a9bcbc" shape-rendering="crispEdges"/>
<rect x="15.82" y="183.72" width="7.21" height="7.22" fill="#a9bcbc" shape-rendering="crispEdges"/>
<rect x="22.98" y="183.72" width="7.21" height="7.22" fill="#a9bcbc" shape-rendering="crispEdges"/>
<rect x="30.14" y="183.72" width="7.21" height="7.22" fill="#a9bcbc" shape-rendering="crispEdges"/>
<rect x="37.30" y="183.72" width="7.21" height="7.22" fill="#a9bcbc" shape-rendering="crispEdges"/>
<rect x="44.46" y="183.72" width="7.21" height="7.22" fill="#a9bcbc" shape-rendering="crispEdges"/>
<rect x="51.62" y="183.72" width="7.21" height="7.22" fill="#a9bcbc" shape-rendering="crispEdges"/>
<rect x="58.78" y="183.72" width="7.21" height="7.22" fill="#a9bcbc" shape-rendering="crispEdges"/>
<rect x="65.94" y="183.72" width="7.21" height="7.22" fill="#a9bcbc" shape-rendering="crispEdges"/>
<rect x="108.00" y="183.72" width="6.85" height="7.22" fill="#000000" shape-rendering="crispEdges"/>
<rect x="114.80" y="183.72" width="7.15" height="7.22" fill="#c41e39" shape-rendering="crispEdges"/>
<rect x="121.90" y="183.72" width="7.15" height="7.22" fill="#000000" shape-rendering="crispEdges"/>
<rect x="129.00" y="183.72" width="7.15" height="7.22" fill="#f0184a" shape-rendering="crispEdges"/>
<rect x="136.10" y="183.72" width="7.15" height="7.22" fill="#000000" shape-rendering="crispEdges"/>
<rect x="143.20" y="183.72" width="7.15" height="7.22" fill="#46a626" shape-rendering="crispEdges"/>
<rect x="150.30" y="183.72" width="7.15" height="7.22" fill="#f0184a" shape-rendering="crispEdges"/>
<rect x="164.20" y="183.72" width="7.25" height="7.22" fill="#000000" shape-rendering="crispEdges"/>
<rect x="171.40" y="183.72" width="7.10" height="7.22" fill="#c41e39" shape-rendering="crispEdges"/>
<rect x="178.45" y="183.72" width="7.10" height="7.22" fill="#c41e39" shape-rendering="crispEdges"/>
<rect x="185.50" y="183.72" width="7.10" height="7.22" fill="#c41e39" shape-rendering="crispEdges"/>
<rect x="192.55" y="183.72" width="7.10" height="7.22" fill="#f0184a" shape-rendering="crispEdges"/>
<rect x="199.60" y="183.72" width="7.10" height="7.22" fill="#f0184a" shape-rendering="crispEdges"/>
<rect x="206.65" y="183.72" width="7.10" height="7.22" fill="#f0184a" shape-rendering="crispEdges"/>
<rect x="1.50" y="190.89" width="7.21" height="7.22" fill="#f8f300" shape-rendering="crispEdges"/>
<rect x="8.66" y="190.89" width="7.21" height="7.22" fill="#f8f300" shape-rendering="crispEdges"/>
<rect x="15.82" y="190.89" width="7.21" height="7.22" fill="#37430c" shape-rendering="crispEdges"/>
<rect x="22.98" y="190.89" width="7.21" height="7.22" fill="#000000" shape-rendering="crispEdges"/>
<rect x="30.14" y="190.89" width="7.21" height="7.22" fill="#000000" shape-rendering="crispEdges"/>
<rect x="37.30" y="190.89" width="7.21" height="7.22" fill="#000000" shape-rendering="crispEdges"/>
<rect x="44.46" y="190.89" width="7.21" height="7.22" fill="#000000" shape-rendering="crispEdges"/>
<rect x="51.62" y="190.89" width="7.21" height="7.22" fill="#000000" shape-rendering="crispEdges"/>
<rect x="58.78" y="190.89" width="7.21" height="7.22" fill="#000000" shape-rendering="crispEdges"/>
<rect x="65.94" y="190.89" width="7.21" height="7.22" fill="#000000" shape-rendering="crispEdges"/>
<rect x="108.00" y="190.89" width="6.85" height="7.22" fill="#000000" shape-rendering="crispEdges"/>
<rect x="114.80" y="190.89" width="7.15" height="7.22" fill="#c41e39" shape-rendering="crispEdges"/>
<rect x="121.90" y="190.89" width="7.15" height="7.22" fill="#c41e39" shape-rendering="crispEdges"/>
<rect x="129.00" y="190.89" width="7.15" height="7.22" fill="#f0184a" shape-rendering="crispEdges"/>
<rect x="136.10" y="190.89" width="7.15" height="7.22" fill="#000000" shape-rendering="crispEdges"/>
<rect x="143.20" y="190.89" width="7.15" height="7.22" fill="#000000" shape-rendering="crispEdges"/>
<rect x="150.30" y="190.89" width="7.15" height="7.22" fill="#f0184a" shape-rendering="crispEdges"/>
<rect x="164.20" y="190.89" width="7.25" height="7.22" fill="#000000" shape-rendering="crispEdges"/>
<rect x="171.40" y="190.89" width="7.10" height="7.22" fill="#000000" shape-rendering="crispEdges"/>
<rect x="178.45" y="190.89" width="7.10" height="7.22" fill="#671c1b" shape-rendering="crispEdges"/>
<rect x="185.50" y="190.89" width="7.10" height="7.22" fill="#c41e39" shape-rendering="crispEdges"/>
<rect x="192.55" y="190.89" width="7.10" height="7.22" fill="#c41e39" shape-rendering="crispEdges"/>
<rect x="199.60" y="190.89" width="7.10" height="7.22" fill="#c41e39" shape-rendering="crispEdges"/>
<rect x="206.65" y="190.89" width="7.10" height="7.22" fill="#c41e39" shape-rendering="crispEdges"/>
<rect x="1.50" y="198.06" width="7.21" height="7.22" fill="#000000" shape-rendering="crispEdges"/>
<rect x="8.66" y="198.06" width="7.21" height="7.22" fill="#000000" shape-rendering="crispEdges"/>
<rect x="15.82" y="198.06" width="7.21" height="7.22" fill="#000000" shape-rendering="crispEdges"/>
<rect x="22.98" y="198.06" width="7.21" height="7.22" fill="#000000" shape-rendering="crispEdges"/>
<rect x="30.14" y="198.06" width="7.21" height="7.22" fill="#000000" shape-rendering="crispEdges"/>
<rect x="37.30" y="198.06" width="7.21" height="7.22" fill="#000000" shape-rendering="crispEdges"/>
<rect x="44.46" y="198.06" width="7.21" height="7.22" fill="#000000" shape-rendering="crispEdges"/>
<rect x="51.62" y="198.06" width="7.21" height="7.22" fill="#37430c" shape-rendering="crispEdges"/>
<rect x="58.78" y="198.06" width="7.21" height="7.22" fill="#000000" shape-rendering="crispEdges"/>
<rect x="65.94" y="198.06" width="7.21" height="7.22" fill="#000000" shape-rendering="crispEdges"/>
<rect x="108.00" y="198.06" width="6.85" height="7.22" fill="#173f30" shape-rendering="crispEdges"/>
<rect x="114.80" y="198.06" width="7.15" height="7.22" fill="#c41e39" shape-rendering="crispEdges"/>
<rect x="121.90" y="198.06" width="7.15" height="7.22" fill="#982428" shape-rendering="crispEdges"/>
<rect x="129.00" y="198.06" width="7.15" height="7.22" fill="#f0184a" shape-rendering="crispEdges"/>
<rect x="136.10" y="198.06" width="7.15" height="7.22" fill="#000000" shape-rendering="crispEdges"/>
<rect x="143.20" y="198.06" width="7.15" height="7.22" fill="#671c1b" shape-rendering="crispEdges"/>
<rect x="150.30" y="198.06" width="7.15" height="7.22" fill="#f0184a" shape-rendering="crispEdges"/>
<rect x="164.20" y="198.06" width="7.25" height="7.22" fill="#4cc0a0" shape-rendering="crispEdges"/>
<rect x="171.40" y="198.06" width="7.10" height="7.22" fill="#000000" shape-rendering="crispEdges"/>
<rect x="178.45" y="198.06" width="7.10" height="7.22" fill="#000000" shape-rendering="crispEdges"/>
<rect x="185.50" y="198.06" width="7.10" height="7.22" fill="#331010" shape-rendering="crispEdges"/>
<rect x="192.55" y="198.06" width="7.10" height="7.22" fill="#982428" shape-rendering="crispEdges"/>
<rect x="199.60" y="198.06" width="7.10" height="7.22" fill="#c41e39" shape-rendering="crispEdges"/>
<rect x="206.65" y="198.06" width="7.10" height="7.22" fill="#c41e39" shape-rendering="crispEdges"/>
<rect x="1.50" y="205.23" width="7.21" height="7.22" fill="#f8f300" shape-rendering="crispEdges"/>
<rect x="8.66" y="205.23" width="7.21" height="7.22" fill="#f8f300" shape-rendering="crispEdges"/>
<rect x="15.82" y="205.23" width="7.21" height="7.22" fill="#000000" shape-rendering="crispEdges"/>
<rect x="22.98" y="205.23" width="7.21" height="7.22" fill="#6f7c12" shape-rendering="crispEdges"/>
<rect x="30.14" y="205.23" width="7.21" height="7.22" fill="#000000" shape-rendering="crispEdges"/>
<rect x="37.30" y="205.23" width="7.21" height="7.22" fill="#000000" shape-rendering="crispEdges"/>
<rect x="44.46" y="205.23" width="7.21" height="7.22" fill="#000000" shape-rendering="crispEdges"/>
<rect x="51.62" y="205.23" width="7.21" height="7.22" fill="#000000" shape-rendering="crispEdges"/>
<rect x="58.78" y="205.23" width="7.21" height="7.22" fill="#000000" shape-rendering="crispEdges"/>
<rect x="65.94" y="205.23" width="7.21" height="7.22" fill="#000000" shape-rendering="crispEdges"/>
<rect x="108.00" y="205.23" width="6.85" height="7.22" fill="#4cc0a0" shape-rendering="crispEdges"/>
<rect x="114.80" y="205.23" width="7.15" height="7.22" fill="#982428" shape-rendering="crispEdges"/>
<rect x="121.90" y="205.23" width="7.15" height="7.22" fill="#000000" shape-rendering="crispEdges"/>
<rect x="129.00" y="205.23" width="7.15" height="7.22" fill="#f0184a" shape-rendering="crispEdges"/>
<rect x="136.10" y="205.23" width="7.15" height="7.22" fill="#000000" shape-rendering="crispEdges"/>
<rect x="143.20" y="205.23" width="7.15" height="7.22" fill="#000000" shape-rendering="crispEdges"/>
<rect x="150.30" y="205.23" width="7.15" height="7.22" fill="#f0184a" shape-rendering="crispEdges"/>
<rect x="164.20" y="205.23" width="7.25" height="7.22" fill="#4cc0a0" shape-rendering="crispEdges"/>
<rect x="171.40" y="205.23" width="7.10" height="7.22" fill="#2d6c18" shape-rendering="crispEdges"/>
<rect x="178.45" y="205.23" width="7.10" height="7.22" fill="#000000" shape-rendering="crispEdges"/>
<rect x="185.50" y="205.23" width="7.10" height="7.22" fill="#000000" shape-rendering="crispEdges"/>
<rect x="192.55" y="205.23" width="7.10" height="7.22" fill="#982428" shape-rendering="crispEdges"/>
<rect x="199.60" y="205.23" width="7.10" height="7.22" fill="#000000" shape-rendering="crispEdges"/>
<rect x="206.65" y="205.23" width="7.10" height="7.22" fill="#331010" shape-rendering="crispEdges"/>
<rect x="1.50" y="212.40" width="7.21" height="7.22" fill="#f8f300" shape-rendering="crispEdges"/>
<rect x="8.66" y="212.40" width="7.21" height="7.22" fill="#f8f300" shape-rendering="crispEdges"/>
<rect x="15.82" y="212.40" width="7.21" height="7.22" fill="#000000" shape-rendering="crispEdges"/>
<rect x="22.98" y="212.40" width="7.21" height="7.22" fill="#6f7c12" shape-rendering="crispEdges"/>
<rect x="30.14" y="212.40" width="7.21" height="7.22" fill="#000000" shape-rendering="crispEdges"/>
<rect x="37.30" y="212.40" width="7.21" height="7.22" fill="#000000" shape-rendering="crispEdges"/>
<rect x="44.46" y="212.40" width="7.21" height="7.22" fill="#000000" shape-rendering="crispEdges"/>
<rect x="51.62" y="212.40" width="7.21" height="7.22" fill="#000000" shape-rendering="crispEdges"/>
<rect x="58.78" y="212.40" width="7.21" height="7.22" fill="#000000" shape-rendering="crispEdges"/>
<rect x="65.94" y="212.40" width="7.21" height="7.22" fill="#000000" shape-rendering="crispEdges"/>
<rect x="108.00" y="212.40" width="6.85" height="7.22" fill="#000000" shape-rendering="crispEdges"/>
<rect x="114.80" y="212.40" width="7.15" height="7.22" fill="#c41e39" shape-rendering="crispEdges"/>
<rect x="121.90" y="212.40" width="7.15" height="7.22" fill="#000000" shape-rendering="crispEdges"/>
<rect x="129.00" y="212.40" width="7.15" height="7.22" fill="#f0184a" shape-rendering="crispEdges"/>
<rect x="136.10" y="212.40" width="7.15" height="7.22" fill="#000000" shape-rendering="crispEdges"/>
<rect x="143.20" y="212.40" width="7.15" height="7.22" fill="#000000" shape-rendering="crispEdges"/>
<rect x="150.30" y="212.40" width="7.15" height="7.22" fill="#f0184a" shape-rendering="crispEdges"/>
<rect x="164.20" y="212.40" width="7.25" height="7.22" fill="#000000" shape-rendering="crispEdges"/>
<rect x="171.40" y="212.40" width="7.10" height="7.22" fill="#2d6c18" shape-rendering="crispEdges"/>
<rect x="178.45" y="212.40" width="7.10" height="7.22" fill="#000000" shape-rendering="crispEdges"/>
<rect x="185.50" y="212.40" width="7.10" height="7.22" fill="#982428" shape-rendering="crispEdges"/>
<rect x="192.55" y="212.40" width="7.10" height="7.22" fill="#f0184a" shape-rendering="crispEdges"/>
<rect x="199.60" y="212.40" width="7.10" height="7.22" fill="#f0184a" shape-rendering="crispEdges"/>
<rect x="206.65" y="212.40" width="7.10" height="7.22" fill="#f0184a" shape-rendering="crispEdges"/>
<rect x="1.50" y="219.57" width="7.21" height="7.22" fill="#000000" shape-rendering="crispEdges"/>
<rect x="8.66" y="219.57" width="7.21" height="7.22" fill="#000000" shape-rendering="crispEdges"/>
<rect x="15.82" y="219.57" width="7.21" height="7.22" fill="#000000" shape-rendering="crispEdges"/>
<rect x="22.98" y="219.57" width="7.21" height="7.22" fill="#000000" shape-rendering="crispEdges"/>
<rect x="30.14" y="219.57" width="7.21" height="7.22" fill="#000000" shape-rendering="crispEdges"/>
<rect x="37.30" y="219.57" width="7.21" height="7.22" fill="#000000" shape-rendering="crispEdges"/>
<rect x="44.46" y="219.57" width="7.21" height="7.22" fill="#000000" shape-rendering="crispEdges"/>
<rect x="51.62" y="219.57" width="7.21" height="7.22" fill="#000000" shape-rendering="crispEdges"/>
<rect x="58.78" y="219.57" width="7.21" height="7.22" fill="#f8f300" shape-rendering="crispEdges"/>
<rect x="65.94" y="219.57" width="7.21" height="7.22" fill="#f8f300" shape-rendering="crispEdges"/>
<rect x="108.00" y="219.57" width="6.85" height="7.22" fill="#000000" shape-rendering="crispEdges"/>
<rect x="114.80" y="219.57" width="7.15" height="7.22" fill="#000000" shape-rendering="crispEdges"/>
<rect x="121.90" y="219.57" width="7.15" height="7.22" fill="#671c1b" shape-rendering="crispEdges"/>
<rect x="129.00" y="219.57" width="7.15" height="7.22" fill="#f0184a" shape-rendering="crispEdges"/>
<rect x="136.10" y="219.57" width="7.15" height="7.22" fill="#000000" shape-rendering="crispEdges"/>
<rect x="143.20" y="219.57" width="7.15" height="7.22" fill="#000000" shape-rendering="crispEdges"/>
<rect x="150.30" y="219.57" width="7.15" height="7.22" fill="#f0184a" shape-rendering="crispEdges"/>
<rect x="164.20" y="219.57" width="7.25" height="7.22" fill="#000000" shape-rendering="crispEdges"/>
<rect x="171.40" y="219.57" width="7.10" height="7.22" fill="#2d6c18" shape-rendering="crispEdges"/>
<rect x="178.45" y="219.57" width="7.10" height="7.22" fill="#000000" shape-rendering="crispEdges"/>
<rect x="185.50" y="219.57" width="7.10" height="7.22" fill="#000000" shape-rendering="crispEdges"/>
<rect x="192.55" y="219.57" width="7.10" height="7.22" fill="#982428" shape-rendering="crispEdges"/>
<rect x="199.60" y="219.57" width="7.10" height="7.22" fill="#982428" shape-rendering="crispEdges"/>
<rect x="206.65" y="219.57" width="7.10" height="7.22" fill="#982428" shape-rendering="crispEdges"/>
<rect x="1.50" y="226.74" width="7.21" height="7.22" fill="#37430c" shape-rendering="crispEdges"/>
<rect x="8.66" y="226.74" width="7.21" height="7.22" fill="#000000" shape-rendering="crispEdges"/>
<rect x="15.82" y="226.74" width="7.21" height="7.22" fill="#000000" shape-rendering="crispEdges"/>
<rect x="22.98" y="226.74" width="7.21" height="7.22" fill="#37430c" shape-rendering="crispEdges"/>
<rect x="30.14" y="226.74" width="7.21" height="7.22" fill="#000000" shape-rendering="crispEdges"/>
<rect x="37.30" y="226.74" width="7.21" height="7.22" fill="#000000" shape-rendering="crispEdges"/>
<rect x="44.46" y="226.74" width="7.21" height="7.22" fill="#000000" shape-rendering="crispEdges"/>
<rect x="51.62" y="226.74" width="7.21" height="7.22" fill="#000000" shape-rendering="crispEdges"/>
<rect x="58.78" y="226.74" width="7.21" height="7.22" fill="#f8f300" shape-rendering="crispEdges"/>
<rect x="65.94" y="226.74" width="7.21" height="7.22" fill="#37430c" shape-rendering="crispEdges"/>
<rect x="108.00" y="226.74" width="6.85" height="7.22" fill="#4cc0a0" shape-rendering="crispEdges"/>
<rect x="114.80" y="226.74" width="7.15" height="7.22" fill="#000000" shape-rendering="crispEdges"/>
<rect x="121.90" y="226.74" width="7.15" height="7.22" fill="#000000" shape-rendering="crispEdges"/>
<rect x="129.00" y="226.74" width="7.15" height="7.22" fill="#000000" shape-rendering="crispEdges"/>
<rect x="136.10" y="226.74" width="7.15" height="7.22" fill="#000000" shape-rendering="crispEdges"/>
<rect x="143.20" y="226.74" width="7.15" height="7.22" fill="#000000" shape-rendering="crispEdges"/>
<rect x="150.30" y="226.74" width="7.15" height="7.22" fill="#982428" shape-rendering="crispEdges"/>
<rect x="164.20" y="226.74" width="7.25" height="7.22" fill="#4cc0a0" shape-rendering="crispEdges"/>
<rect x="171.40" y="226.74" width="7.10" height="7.22" fill="#000000" shape-rendering="crispEdges"/>
<rect x="178.45" y="226.74" width="7.10" height="7.22" fill="#000000" shape-rendering="crispEdges"/>
<rect x="185.50" y="226.74" width="7.10" height="7.22" fill="#000000" shape-rendering="crispEdges"/>
<rect x="192.55" y="226.74" width="7.10" height="7.22" fill="#000000" shape-rendering="crispEdges"/>
<rect x="199.60" y="226.74" width="7.10" height="7.22" fill="#000000" shape-rendering="crispEdges"/>
<rect x="206.65" y="226.74" width="7.10" height="7.22" fill="#000000" shape-rendering="crispEdges"/>
<rect x="1.50" y="233.91" width="7.21" height="7.22" fill="#f8f300" shape-rendering="crispEdges"/>
<rect x="8.66" y="233.91" width="7.21" height="7.22" fill="#f8f300" shape-rendering="crispEdges"/>
<rect x="15.82" y="233.91" width="7.21" height="7.22" fill="#1a2206" shape-rendering="crispEdges"/>
<rect x="22.98" y="233.91" width="7.21" height="7.22" fill="#000000" shape-rendering="crispEdges"/>
<rect x="30.14" y="233.91" width="7.21" height="7.22" fill="#000000" shape-rendering="crispEdges"/>
<rect x="37.30" y="233.91" width="7.21" height="7.22" fill="#000000" shape-rendering="crispEdges"/>
<rect x="44.46" y="233.91" width="7.21" height="7.22" fill="#000000" shape-rendering="crispEdges"/>
<rect x="51.62" y="233.91" width="7.21" height="7.22" fill="#000000" shape-rendering="crispEdges"/>
<rect x="58.78" y="233.91" width="7.21" height="7.22" fill="#000000" shape-rendering="crispEdges"/>
<rect x="65.94" y="233.91" width="7.21" height="7.22" fill="#000000" shape-rendering="crispEdges"/>
<rect x="108.00" y="233.91" width="6.85" height="7.22" fill="#000000" shape-rendering="crispEdges"/>
<rect x="114.80" y="233.91" width="7.15" height="7.22" fill="#982428" shape-rendering="crispEdges"/>
<rect x="121.90" y="233.91" width="7.15" height="7.22" fill="#671c1b" shape-rendering="crispEdges"/>
<rect x="129.00" y="233.91" width="7.15" height="7.22" fill="#f0184a" shape-rendering="crispEdges"/>
<rect x="136.10" y="233.91" width="7.15" height="7.22" fill="#000000" shape-rendering="crispEdges"/>
<rect x="143.20" y="233.91" width="7.15" height="7.22" fill="#000000" shape-rendering="crispEdges"/>
<rect x="150.30" y="233.91" width="7.15" height="7.22" fill="#f0184a" shape-rendering="crispEdges"/>
<rect x="164.20" y="233.91" width="7.25" height="7.22" fill="#000000" shape-rendering="crispEdges"/>
<rect x="171.40" y="233.91" width="7.10" height="7.22" fill="#000000" shape-rendering="crispEdges"/>
<rect x="178.45" y="233.91" width="7.10" height="7.22" fill="#000000" shape-rendering="crispEdges"/>
<rect x="185.50" y="233.91" width="7.10" height="7.22" fill="#000000" shape-rendering="crispEdges"/>
<rect x="192.55" y="233.91" width="7.10" height="7.22" fill="#000000" shape-rendering="crispEdges"/>
<rect x="199.60" y="233.91" width="7.10" height="7.22" fill="#000000" shape-rendering="crispEdges"/>
<rect x="206.65" y="233.91" width="7.10" height="7.22" fill="#982428" shape-rendering="crispEdges"/>
<rect x="1.50" y="241.08" width="7.21" height="7.22" fill="#f8f300" shape-rendering="crispEdges"/>
<rect x="8.66" y="241.08" width="7.21" height="7.22" fill="#6f7c12" shape-rendering="crispEdges"/>
<rect x="15.82" y="241.08" width="7.21" height="7.22" fill="#6f7c12" shape-rendering="crispEdges"/>
<rect x="22.98" y="241.08" width="7.21" height="7.22" fill="#000000" shape-rendering="crispEdges"/>
<rect x="30.14" y="241.08" width="7.21" height="7.22" fill="#000000" shape-rendering="crispEdges"/>
<rect x="37.30" y="241.08" width="7.21" height="7.22" fill="#000000" shape-rendering="crispEdges"/>
<rect x="44.46" y="241.08" width="7.21" height="7.22" fill="#000000" shape-rendering="crispEdges"/>
<rect x="51.62" y="241.08" width="7.21" height="7.22" fill="#000000" shape-rendering="crispEdges"/>
<rect x="58.78" y="241.08" width="7.21" height="7.22" fill="#000000" shape-rendering="crispEdges"/>
<rect x="65.94" y="241.08" width="7.21" height="7.22" fill="#6f7c12" shape-rendering="crispEdges"/>
<rect x="108.00" y="241.08" width="6.85" height="7.22" fill="#2e7a62" shape-rendering="crispEdges"/>
<rect x="114.80" y="241.08" width="7.15" height="7.22" fill="#671c1b" shape-rendering="crispEdges"/>
<rect x="121.90" y="241.08" width="7.15" height="7.22" fill="#331010" shape-rendering="crispEdges"/>
<rect x="129.00" y="241.08" width="7.15" height="7.22" fill="#982428" shape-rendering="crispEdges"/>
<rect x="136.10" y="241.08" width="7.15" height="7.22" fill="#000000" shape-rendering="crispEdges"/>
<rect x="143.20" y="241.08" width="7.15" height="7.22" fill="#000000" shape-rendering="crispEdges"/>
<rect x="150.30" y="241.08" width="7.15" height="7.22" fill="#982428" shape-rendering="crispEdges"/>
<rect x="164.20" y="241.08" width="7.25" height="7.22" fill="#2e7a62" shape-rendering="crispEdges"/>
<rect x="171.40" y="241.08" width="7.10" height="7.22" fill="#000000" shape-rendering="crispEdges"/>
<rect x="178.45" y="241.08" width="7.10" height="7.22" fill="#331010" shape-rendering="crispEdges"/>
<rect x="185.50" y="241.08" width="7.10" height="7.22" fill="#000000" shape-rendering="crispEdges"/>
<rect x="192.55" y="241.08" width="7.10" height="7.22" fill="#331010" shape-rendering="crispEdges"/>
<rect x="199.60" y="241.08" width="7.10" height="7.22" fill="#000000" shape-rendering="crispEdges"/>
<rect x="206.65" y="241.08" width="7.10" height="7.22" fill="#000000" shape-rendering="crispEdges"/>
<rect x="1.50" y="248.25" width="7.21" height="7.22" fill="#f8f300" shape-rendering="crispEdges"/>
<rect x="8.66" y="248.25" width="7.21" height="7.22" fill="#f8f300" shape-rendering="crispEdges"/>
<rect x="15.82" y="248.25" width="7.21" height="7.22" fill="#f8f300" shape-rendering="crispEdges"/>
<rect x="22.98" y="248.25" width="7.21" height="7.22" fill="#6f7c12" shape-rendering="crispEdges"/>
<rect x="30.14" y="248.25" width="7.21" height="7.22" fill="#000000" shape-rendering="crispEdges"/>
<rect x="37.30" y="248.25" width="7.21" height="7.22" fill="#000000" shape-rendering="crispEdges"/>
<rect x="44.46" y="248.25" width="7.21" height="7.22" fill="#000000" shape-rendering="crispEdges"/>
<rect x="51.62" y="248.25" width="7.21" height="7.22" fill="#000000" shape-rendering="crispEdges"/>
<rect x="58.78" y="248.25" width="7.21" height="7.22" fill="#000000" shape-rendering="crispEdges"/>
<rect x="65.94" y="248.25" width="7.21" height="7.22" fill="#000000" shape-rendering="crispEdges"/>
<rect x="108.00" y="248.25" width="6.85" height="7.22" fill="#000000" shape-rendering="crispEdges"/>
<rect x="114.80" y="248.25" width="7.15" height="7.22" fill="#c41e39" shape-rendering="crispEdges"/>
<rect x="121.90" y="248.25" width="7.15" height="7.22" fill="#671c1b" shape-rendering="crispEdges"/>
<rect x="129.00" y="248.25" width="7.15" height="7.22" fill="#f0184a" shape-rendering="crispEdges"/>
<rect x="136.10" y="248.25" width="7.15" height="7.22" fill="#000000" shape-rendering="crispEdges"/>
<rect x="143.20" y="248.25" width="7.15" height="7.22" fill="#000000" shape-rendering="crispEdges"/>
<rect x="150.30" y="248.25" width="7.15" height="7.22" fill="#f0184a" shape-rendering="crispEdges"/>
<rect x="164.20" y="248.25" width="7.25" height="7.22" fill="#000000" shape-rendering="crispEdges"/>
<rect x="171.40" y="248.25" width="7.10" height="7.22" fill="#c41e39" shape-rendering="crispEdges"/>
<rect x="178.45" y="248.25" width="7.10" height="7.22" fill="#000000" shape-rendering="crispEdges"/>
<rect x="185.50" y="248.25" width="7.10" height="7.22" fill="#c41e39" shape-rendering="crispEdges"/>
<rect x="192.55" y="248.25" width="7.10" height="7.22" fill="#000000" shape-rendering="crispEdges"/>
<rect x="199.60" y="248.25" width="7.10" height="7.22" fill="#000000" shape-rendering="crispEdges"/>
<rect x="206.65" y="248.25" width="7.10" height="7.22" fill="#c41e39" shape-rendering="crispEdges"/>
<rect x="1.50" y="255.42" width="7.21" height="7.22" fill="#f8f300" shape-rendering="crispEdges"/>
<rect x="8.66" y="255.42" width="7.21" height="7.22" fill="#1a2206" shape-rendering="crispEdges"/>
<rect x="15.82" y="255.42" width="7.21" height="7.22" fill="#000000" shape-rendering="crispEdges"/>
<rect x="22.98" y="255.42" width="7.21" height="7.22" fill="#000000" shape-rendering="crispEdges"/>
<rect x="30.14" y="255.42" width="7.21" height="7.22" fill="#000000" shape-rendering="crispEdges"/>
<rect x="37.30" y="255.42" width="7.21" height="7.22" fill="#000000" shape-rendering="crispEdges"/>
<rect x="44.46" y="255.42" width="7.21" height="7.22" fill="#000000" shape-rendering="crispEdges"/>
<rect x="51.62" y="255.42" width="7.21" height="7.22" fill="#000000" shape-rendering="crispEdges"/>
<rect x="58.78" y="255.42" width="7.21" height="7.22" fill="#000000" shape-rendering="crispEdges"/>
<rect x="65.94" y="255.42" width="7.21" height="7.22" fill="#000000" shape-rendering="crispEdges"/>
<rect x="108.00" y="255.42" width="6.85" height="7.22" fill="#2e7a62" shape-rendering="crispEdges"/>
<rect x="114.80" y="255.42" width="7.15" height="7.22" fill="#671c1b" shape-rendering="crispEdges"/>
<rect x="121.90" y="255.42" width="7.15" height="7.22" fill="#671c1b" shape-rendering="crispEdges"/>
<rect x="129.00" y="255.42" width="7.15" height="7.22" fill="#c41e39" shape-rendering="crispEdges"/>
<rect x="136.10" y="255.42" width="7.15" height="7.22" fill="#000000" shape-rendering="crispEdges"/>
<rect x="143.20" y="255.42" width="7.15" height="7.22" fill="#000000" shape-rendering="crispEdges"/>
<rect x="150.30" y="255.42" width="7.15" height="7.22" fill="#c41e39" shape-rendering="crispEdges"/>
<rect x="164.20" y="255.42" width="7.25" height="7.22" fill="#000000" shape-rendering="crispEdges"/>
<rect x="171.40" y="255.42" width="7.10" height="7.22" fill="#000000" shape-rendering="crispEdges"/>
<rect x="178.45" y="255.42" width="7.10" height="7.22" fill="#c41e39" shape-rendering="crispEdges"/>
<rect x="185.50" y="255.42" width="7.10" height="7.22" fill="#f0184a" shape-rendering="crispEdges"/>
<rect x="192.55" y="255.42" width="7.10" height="7.22" fill="#2d6c18" shape-rendering="crispEdges"/>
<rect x="199.60" y="255.42" width="7.10" height="7.22" fill="#000000" shape-rendering="crispEdges"/>
<rect x="206.65" y="255.42" width="7.10" height="7.22" fill="#000000" shape-rendering="crispEdges"/>
<rect x="37.10" y="69.00" width="1" height="7.22" fill="#4a4a4a"/>
<rect x="44.26" y="69.00" width="1" height="7.22" fill="#4a4a4a"/>
<rect x="37.10" y="76.17" width="1" height="7.22" fill="#4a4a4a"/>
<rect x="44.26" y="76.17" width="1" height="7.22" fill="#4a4a4a"/>
<rect x="58.28" y="76.17" width="1" height="7.22" fill="#4a4a4a"/>
<rect x="37.10" y="83.34" width="1" height="7.22" fill="#4a4a4a"/>
<rect x="44.26" y="83.34" width="1" height="7.22" fill="#4a4a4a"/>
<rect x="58.28" y="83.34" width="1" height="7.22" fill="#4a4a4a"/>
<rect x="37.10" y="90.51" width="1" height="7.22" fill="#4a4a4a"/>
<rect x="44.26" y="90.51" width="1" height="7.22" fill="#4a4a4a"/>
<rect x="58.28" y="90.51" width="1" height="7.22" fill="#4a4a4a"/>
<rect x="37.10" y="97.68" width="1" height="7.22" fill="#4a4a4a"/>
<rect x="44.26" y="97.68" width="1" height="7.22" fill="#4a4a4a"/>
<rect x="58.28" y="97.68" width="1" height="7.22" fill="#4a4a4a"/>
<rect x="37.10" y="104.85" width="1" height="7.22" fill="#4a4a4a"/>
<rect x="44.26" y="104.85" width="1" height="7.22" fill="#4a4a4a"/>
<rect x="58.28" y="104.85" width="1" height="7.22" fill="#4a4a4a"/>
<rect x="37.10" y="112.02" width="1" height="7.22" fill="#4a4a4a"/>
<rect x="44.26" y="112.02" width="1" height="7.22" fill="#4a4a4a"/>
<rect x="58.28" y="112.02" width="1" height="7.22" fill="#4a4a4a"/>
<rect x="37.10" y="119.19" width="1" height="7.22" fill="#4a4a4a"/>
<rect x="44.26" y="119.19" width="1" height="7.22" fill="#4a4a4a"/>
<rect x="58.28" y="119.19" width="1" height="7.22" fill="#4a4a4a"/>
<rect x="37.10" y="126.36" width="1" height="7.22" fill="#4a4a4a"/>
<rect x="44.26" y="126.36" width="1" height="7.22" fill="#4a4a4a"/>
<rect x="58.28" y="126.36" width="1" height="7.22" fill="#4a4a4a"/>
<rect x="37.10" y="133.53" width="1" height="7.22" fill="#4a4a4a"/>
<rect x="44.26" y="133.53" width="1" height="7.22" fill="#4a4a4a"/>
<rect x="58.28" y="133.53" width="1" height="7.22" fill="#4a4a4a"/>
<rect x="37.10" y="140.70" width="1" height="7.22" fill="#4a4a4a"/>
<rect x="44.26" y="140.70" width="1" height="7.22" fill="#4a4a4a"/>
<rect x="58.28" y="140.70" width="1" height="7.22" fill="#4a4a4a"/>
<rect x="37.10" y="155.04" width="1" height="7.22" fill="#4a4a4a"/>
<rect x="44.26" y="155.04" width="1" height="7.22" fill="#4a4a4a"/>
<rect x="58.28" y="155.04" width="1" height="7.22" fill="#4a4a4a"/>
<rect x="37.10" y="162.21" width="1" height="7.22" fill="#4a4a4a"/>
<rect x="44.26" y="162.21" width="1" height="7.22" fill="#4a4a4a"/>
<rect x="58.28" y="162.21" width="1" height="7.22" fill="#4a4a4a"/>
<rect x="37.10" y="169.38" width="1" height="7.22" fill="#4a4a4a"/>
<rect x="44.26" y="169.38" width="1" height="7.22" fill="#4a4a4a"/>
<rect x="58.28" y="169.38" width="1" height="7.22" fill="#4a4a4a"/>
<rect x="37.10" y="176.55" width="1" height="7.22" fill="#4a4a4a"/>
<rect x="44.26" y="176.55" width="1" height="7.22" fill="#4a4a4a"/>
<rect x="58.28" y="176.55" width="1" height="7.22" fill="#4a4a4a"/>
<rect x="37.10" y="190.89" width="1" height="7.22" fill="#4a4a4a"/>
<rect x="44.26" y="190.89" width="1" height="7.22" fill="#4a4a4a"/>
<rect x="58.28" y="190.89" width="1" height="7.22" fill="#4a4a4a"/>
<rect x="37.10" y="198.06" width="1" height="7.22" fill="#4a4a4a"/>
<rect x="44.26" y="198.06" width="1" height="7.22" fill="#4a4a4a"/>
<rect x="37.10" y="205.23" width="1" height="7.22" fill="#4a4a4a"/>
<rect x="44.26" y="205.23" width="1" height="7.22" fill="#4a4a4a"/>
<rect x="58.28" y="205.23" width="1" height="7.22" fill="#4a4a4a"/>
<rect x="37.10" y="212.40" width="1" height="7.22" fill="#4a4a4a"/>
<rect x="44.26" y="212.40" width="1" height="7.22" fill="#4a4a4a"/>
<rect x="58.28" y="212.40" width="1" height="7.22" fill="#4a4a4a"/>
<rect x="37.10" y="219.57" width="1" height="7.22" fill="#4a4a4a"/>
<rect x="44.26" y="219.57" width="1" height="7.22" fill="#4a4a4a"/>
<rect x="37.10" y="226.74" width="1" height="7.22" fill="#4a4a4a"/>
<rect x="44.26" y="226.74" width="1" height="7.22" fill="#4a4a4a"/>
<rect x="37.10" y="233.91" width="1" height="7.22" fill="#4a4a4a"/>
<rect x="44.26" y="233.91" width="1" height="7.22" fill="#4a4a4a"/>
<rect x="58.28" y="233.91" width="1" height="7.22" fill="#4a4a4a"/>
<rect x="37.10" y="241.08" width="1" height="7.22" fill="#4a4a4a"/>
<rect x="44.26" y="241.08" width="1" height="7.22" fill="#4a4a4a"/>
<rect x="58.28" y="241.08" width="1" height="7.22" fill="#4a4a4a"/>
<rect x="37.10" y="248.25" width="1" height="7.22" fill="#4a4a4a"/>
<rect x="44.26" y="248.25" width="1" height="7.22" fill="#4a4a4a"/>
<rect x="58.28" y="248.25" width="1" height="7.22" fill="#4a4a4a"/>
<rect x="37.10" y="255.42" width="1" height="7.22" fill="#4a4a4a"/>
<rect x="44.26" y="255.42" width="1" height="7.22" fill="#4a4a4a"/>
<rect x="58.28" y="255.42" width="1" height="7.22" fill="#4a4a4a"/>
<rect x="73.60" y="69.00" width="34.10" height="7.17" fill="#ffffff" shape-rendering="crispEdges"/>
<text transform="translate(90.65,75.72) scale(0.8,1)" font-family="Liberation Sans" font-size="7.5" fill="#111" text-anchor="middle" stroke="#111" stroke-width="0.3">IRF7</text>
<rect x="73.60" y="76.17" width="34.10" height="7.17" fill="#ffffff" shape-rendering="crispEdges"/>
<text transform="translate(90.65,82.89) scale(0.8,1)" font-family="Liberation Sans" font-size="7.5" fill="#111" text-anchor="middle" stroke="#111" stroke-width="0.3">IFIT4</text>
<rect x="73.60" y="83.34" width="34.10" height="7.17" fill="#ffffff" shape-rendering="crispEdges"/>
<text transform="translate(90.65,90.06) scale(0.8,1)" font-family="Liberation Sans" font-size="7.5" fill="#111" text-anchor="middle" stroke="#111" stroke-width="0.3">MX2</text>
<rect x="73.60" y="90.51" width="34.10" height="7.17" fill="#ffffff" shape-rendering="crispEdges"/>
<text transform="translate(90.65,97.23) scale(0.8,1)" font-family="Liberation Sans" font-size="7.5" fill="#111" text-anchor="middle" stroke="#111" stroke-width="0.3">OAS2</text>
<rect x="73.60" y="97.68" width="34.10" height="7.17" fill="#ffffff" shape-rendering="crispEdges"/>
<text transform="translate(90.65,104.40) scale(0.8,1)" font-family="Liberation Sans" font-size="7.5" fill="#111" text-anchor="middle" stroke="#111" stroke-width="0.3">IFIT1</text>
<rect x="73.60" y="104.85" width="34.10" height="7.17" fill="#ffffff" shape-rendering="crispEdges"/>
<text transform="translate(90.65,111.57) scale(0.8,1)" font-family="Liberation Sans" font-size="7.5" fill="#111" text-anchor="middle" stroke="#111" stroke-width="0.3">IFIT1</text>
<rect x="73.60" y="112.02" width="34.10" height="7.17" fill="#ffffff" shape-rendering="crispEdges"/>
<text transform="translate(90.65,118.74) scale(0.8,1)" font-family="Liberation Sans" font-size="7.5" fill="#111" text-anchor="middle" stroke="#111" stroke-width="0.3">ISG15</text>
<rect x="73.60" y="119.19" width="34.10" height="7.17" fill="#ffffff" shape-rendering="crispEdges"/>
<text transform="translate(90.65,125.91) scale(0.8,1)" font-family="Liberation Sans" font-size="7.5" fill="#111" text-anchor="middle" stroke="#111" stroke-width="0.3">ISG15</text>
<rect x="73.60" y="126.36" width="34.10" height="7.17" fill="#ffffff" shape-rendering="crispEdges"/>
<text transform="translate(90.65,133.08) scale(0.8,1)" font-family="Liberation Sans" font-size="7.5" fill="#111" text-anchor="middle" stroke="#111" stroke-width="0.3">MX1</text>
<rect x="73.60" y="133.53" width="34.10" height="7.17" fill="#ffffff" shape-rendering="crispEdges"/>
<text transform="translate(90.65,140.25) scale(0.8,1)" font-family="Liberation Sans" font-size="7.5" fill="#111" text-anchor="middle" stroke="#111" stroke-width="0.3">IFI35</text>
<rect x="73.60" y="140.70" width="34.10" height="7.17" fill="#ffffff" shape-rendering="crispEdges"/>
<text transform="translate(90.65,147.42) scale(0.8,1)" font-family="Liberation Sans" font-size="7.5" fill="#111" text-anchor="middle" stroke="#111" stroke-width="0.3">IFITM3</text>
<rect x="73.60" y="147.87" width="34.10" height="7.17" fill="#ffffff" shape-rendering="crispEdges"/>
<text transform="translate(90.65,154.59) scale(0.8,1)" font-family="Liberation Sans" font-size="7.5" fill="#d8683a" text-anchor="middle" stroke="#d8683a" stroke-width="0.3">GS3686</text>
<rect x="73.60" y="155.04" width="34.10" height="7.17" fill="#ffffff" shape-rendering="crispEdges"/>
<text transform="translate(90.65,161.76) scale(0.8,1)" font-family="Liberation Sans" font-size="7.5" fill="#111" text-anchor="middle" stroke="#111" stroke-width="0.3">IFIT2</text>
<rect x="73.60" y="162.21" width="34.10" height="7.17" fill="#ffffff" shape-rendering="crispEdges"/>
<text transform="translate(90.65,168.93) scale(0.8,1)" font-family="Liberation Sans" font-size="7.5" fill="#111" text-anchor="middle" stroke="#111" stroke-width="0.3">IFIT2</text>
<rect x="73.60" y="169.38" width="34.10" height="7.17" fill="#ffffff" shape-rendering="crispEdges"/>
<text transform="translate(90.65,176.10) scale(0.8,1)" font-family="Liberation Sans" font-size="7.5" fill="#111" text-anchor="middle" stroke="#111" stroke-width="0.3">STAT1</text>
<rect x="73.60" y="176.55" width="34.10" height="7.17" fill="#ffffff" shape-rendering="crispEdges"/>
<text transform="translate(90.65,183.27) scale(0.8,1)" font-family="Liberation Sans" font-size="7.5" fill="#111" text-anchor="middle" stroke="#111" stroke-width="0.3">ISG20</text>
<rect x="73.60" y="183.72" width="34.10" height="7.17" fill="#ffffff" shape-rendering="crispEdges"/>
<text transform="translate(90.65,190.44) scale(0.8,1)" font-family="Liberation Sans" font-size="7.5" fill="#d8683a" text-anchor="middle" stroke="#d8683a" stroke-width="0.3">CIG5</text>
<rect x="73.60" y="190.89" width="34.10" height="7.17" fill="#ffffff" shape-rendering="crispEdges"/>
<text transform="translate(90.65,197.61) scale(0.8,1)" font-family="Liberation Sans" font-size="7.5" fill="#111" text-anchor="middle" stroke="#111" stroke-width="0.3">OASL</text>
<rect x="73.60" y="198.06" width="34.10" height="7.17" fill="#ffffff" shape-rendering="crispEdges"/>
<text transform="translate(90.65,204.78) scale(0.8,1)" font-family="Liberation Sans" font-size="7.5" fill="#d8683a" text-anchor="middle" stroke="#d8683a" stroke-width="0.3">SERPING1</text>
<rect x="73.60" y="205.23" width="34.10" height="7.17" fill="#ffffff" shape-rendering="crispEdges"/>
<text transform="translate(90.65,211.95) scale(0.8,1)" font-family="Liberation Sans" font-size="7.5" fill="#111" text-anchor="middle" stroke="#111" stroke-width="0.3">IFITM1</text>
<rect x="73.60" y="212.40" width="34.10" height="7.17" fill="#ffffff" shape-rendering="crispEdges"/>
<text transform="translate(90.65,219.12) scale(0.8,1)" font-family="Liberation Sans" font-size="7.5" fill="#111" text-anchor="middle" stroke="#111" stroke-width="0.3">IFITM1</text>
<rect x="73.60" y="219.57" width="34.10" height="7.17" fill="#ffffff" shape-rendering="crispEdges"/>
<text transform="translate(90.65,226.29) scale(0.8,1)" font-family="Liberation Sans" font-size="7.5" fill="#d8683a" text-anchor="middle" stroke="#d8683a" stroke-width="0.3">TRAIL</text>
<rect x="73.60" y="226.74" width="34.10" height="7.17" fill="#ffffff" shape-rendering="crispEdges"/>
<text transform="translate(90.65,233.46) scale(0.8,1)" font-family="Liberation Sans" font-size="7.5" fill="#111" text-anchor="middle" stroke="#111" stroke-width="0.3">MYD88</text>
<rect x="73.60" y="233.91" width="34.10" height="7.17" fill="#ffffff" shape-rendering="crispEdges"/>
<text transform="translate(90.65,240.63) scale(0.8,1)" font-family="Liberation Sans" font-size="7.5" fill="#111" text-anchor="middle" stroke="#111" stroke-width="0.3">OAS2</text>
<rect x="73.60" y="241.08" width="34.10" height="7.17" fill="#ffffff" shape-rendering="crispEdges"/>
<text transform="translate(90.65,247.80) scale(0.8,1)" font-family="Liberation Sans" font-size="7.5" fill="#111" text-anchor="middle" stroke="#111" stroke-width="0.3">MNI</text>
<rect x="73.60" y="248.25" width="34.10" height="7.17" fill="#ffffff" shape-rendering="crispEdges"/>
<text transform="translate(90.65,254.97) scale(0.8,1)" font-family="Liberation Sans" font-size="7.5" fill="#111" text-anchor="middle" stroke="#111" stroke-width="0.3">STAT4</text>
<rect x="73.60" y="255.42" width="34.10" height="7.17" fill="#ffffff" shape-rendering="crispEdges"/>
<text transform="translate(90.65,262.14) scale(0.8,1)" font-family="Liberation Sans" font-size="7.5" fill="#111" text-anchor="middle" stroke="#111" stroke-width="0.3">IRF4</text>
<rect x="73.60" y="68.50" width="34.10" height="1.00" fill="#8c8c8c" shape-rendering="crispEdges"/>
<rect x="73.60" y="75.67" width="34.10" height="1.00" fill="#8c8c8c" shape-rendering="crispEdges"/>
<rect x="73.60" y="82.84" width="34.10" height="1.00" fill="#8c8c8c" shape-rendering="crispEdges"/>
<rect x="73.60" y="90.01" width="34.10" height="1.00" fill="#8c8c8c" shape-rendering="crispEdges"/>
<rect x="73.60" y="97.18" width="34.10" height="1.00" fill="#8c8c8c" shape-rendering="crispEdges"/>
<rect x="73.60" y="104.35" width="34.10" height="1.00" fill="#8c8c8c" shape-rendering="crispEdges"/>
<rect x="73.60" y="111.52" width="34.10" height="1.00" fill="#8c8c8c" shape-rendering="crispEdges"/>
<rect x="73.60" y="118.69" width="34.10" height="1.00" fill="#8c8c8c" shape-rendering="crispEdges"/>
<rect x="73.60" y="125.86" width="34.10" height="1.00" fill="#8c8c8c" shape-rendering="crispEdges"/>
<rect x="73.60" y="133.03" width="34.10" height="1.00" fill="#8c8c8c" shape-rendering="crispEdges"/>
<rect x="73.60" y="140.20" width="34.10" height="1.00" fill="#8c8c8c" shape-rendering="crispEdges"/>
<rect x="73.60" y="147.37" width="34.10" height="1.00" fill="#8c8c8c" shape-rendering="crispEdges"/>
<rect x="73.60" y="154.54" width="34.10" height="1.00" fill="#8c8c8c" shape-rendering="crispEdges"/>
<rect x="73.60" y="161.71" width="34.10" height="1.00" fill="#8c8c8c" shape-rendering="crispEdges"/>
<rect x="73.60" y="168.88" width="34.10" height="1.00" fill="#8c8c8c" shape-rendering="crispEdges"/>
<rect x="73.60" y="176.05" width="34.10" height="1.00" fill="#8c8c8c" shape-rendering="crispEdges"/>
<rect x="73.60" y="183.22" width="34.10" height="1.00" fill="#8c8c8c" shape-rendering="crispEdges"/>
<rect x="73.60" y="190.39" width="34.10" height="1.00" fill="#8c8c8c" shape-rendering="crispEdges"/>
<rect x="73.60" y="197.56" width="34.10" height="1.00" fill="#8c8c8c" shape-rendering="crispEdges"/>
<rect x="73.60" y="204.73" width="34.10" height="1.00" fill="#8c8c8c" shape-rendering="crispEdges"/>
<rect x="73.60" y="211.90" width="34.10" height="1.00" fill="#8c8c8c" shape-rendering="crispEdges"/>
<rect x="73.60" y="219.07" width="34.10" height="1.00" fill="#8c8c8c" shape-rendering="crispEdges"/>
<rect x="73.60" y="226.24" width="34.10" height="1.00" fill="#8c8c8c" shape-rendering="crispEdges"/>
<rect x="73.60" y="233.41" width="34.10" height="1.00" fill="#8c8c8c" shape-rendering="crispEdges"/>
<rect x="73.60" y="240.58" width="34.10" height="1.00" fill="#8c8c8c" shape-rendering="crispEdges"/>
<rect x="73.60" y="247.75" width="34.10" height="1.00" fill="#8c8c8c" shape-rendering="crispEdges"/>
<rect x="73.60" y="254.92" width="34.10" height="1.00" fill="#8c8c8c" shape-rendering="crispEdges"/>
<rect x="73.60" y="262.09" width="34.10" height="1.00" fill="#8c8c8c" shape-rendering="crispEdges"/>
<rect x="1.50" y="270.00" width="7.21" height="7.17" fill="#000000" shape-rendering="crispEdges"/>
<rect x="8.66" y="270.00" width="7.21" height="7.17" fill="#000000" shape-rendering="crispEdges"/>
<rect x="15.82" y="270.00" width="7.21" height="7.17" fill="#37430c" shape-rendering="crispEdges"/>
<rect x="22.98" y="270.00" width="7.21" height="7.17" fill="#f8f300" shape-rendering="crispEdges"/>
<rect x="30.14" y="270.00" width="7.21" height="7.17" fill="#f8f300" shape-rendering="crispEdges"/>
<rect x="37.30" y="270.00" width="7.21" height="7.17" fill="#000000" shape-rendering="crispEdges"/>
<rect x="44.46" y="270.00" width="7.21" height="7.17" fill="#000000" shape-rendering="crispEdges"/>
<rect x="51.62" y="270.00" width="7.21" height="7.17" fill="#000000" shape-rendering="crispEdges"/>
<rect x="58.78" y="270.00" width="7.21" height="7.17" fill="#000000" shape-rendering="crispEdges"/>
<rect x="65.94" y="270.00" width="7.21" height="7.17" fill="#000000" shape-rendering="crispEdges"/>
<rect x="108.00" y="270.00" width="6.85" height="7.17" fill="#000000" shape-rendering="crispEdges"/>
<rect x="114.80" y="270.00" width="7.15" height="7.17" fill="#982428" shape-rendering="crispEdges"/>
<rect x="121.90" y="270.00" width="7.15" height="7.17" fill="#982428" shape-rendering="crispEdges"/>
<rect x="129.00" y="270.00" width="7.15" height="7.17" fill="#f0184a" shape-rendering="crispEdges"/>
<rect x="136.10" y="270.00" width="7.15" height="7.17" fill="#000000" shape-rendering="crispEdges"/>
<rect x="143.20" y="270.00" width="7.15" height="7.17" fill="#000000" shape-rendering="crispEdges"/>
<rect x="150.30" y="270.00" width="7.15" height="7.17" fill="#f0184a" shape-rendering="crispEdges"/>
<rect x="164.20" y="270.00" width="7.25" height="7.17" fill="#000000" shape-rendering="crispEdges"/>
<rect x="171.40" y="270.00" width="7.10" height="7.17" fill="#000000" shape-rendering="crispEdges"/>
<rect x="178.45" y="270.00" width="7.10" height="7.17" fill="#982428" shape-rendering="crispEdges"/>
<rect x="185.50" y="270.00" width="7.10" height="7.17" fill="#982428" shape-rendering="crispEdges"/>
<rect x="192.55" y="270.00" width="7.10" height="7.17" fill="#46a626" shape-rendering="crispEdges"/>
<rect x="199.60" y="270.00" width="7.10" height="7.17" fill="#000000" shape-rendering="crispEdges"/>
<rect x="206.65" y="270.00" width="7.10" height="7.17" fill="#c41e39" shape-rendering="crispEdges"/>
<rect x="1.50" y="277.12" width="7.21" height="7.17" fill="#a2ae16" shape-rendering="crispEdges"/>
<rect x="8.66" y="277.12" width="7.21" height="7.17" fill="#f8f300" shape-rendering="crispEdges"/>
<rect x="15.82" y="277.12" width="7.21" height="7.17" fill="#f8f300" shape-rendering="crispEdges"/>
<rect x="22.98" y="277.12" width="7.21" height="7.17" fill="#f8f300" shape-rendering="crispEdges"/>
<rect x="30.14" y="277.12" width="7.21" height="7.17" fill="#f8f300" shape-rendering="crispEdges"/>
<rect x="37.30" y="277.12" width="7.21" height="7.17" fill="#000000" shape-rendering="crispEdges"/>
<rect x="44.46" y="277.12" width="7.21" height="7.17" fill="#000000" shape-rendering="crispEdges"/>
<rect x="51.62" y="277.12" width="7.21" height="7.17" fill="#000000" shape-rendering="crispEdges"/>
<rect x="58.78" y="277.12" width="7.21" height="7.17" fill="#000000" shape-rendering="crispEdges"/>
<rect x="65.94" y="277.12" width="7.21" height="7.17" fill="#000000" shape-rendering="crispEdges"/>
<rect x="108.00" y="277.12" width="6.85" height="7.17" fill="#000000" shape-rendering="crispEdges"/>
<rect x="114.80" y="277.12" width="7.15" height="7.17" fill="#000000" shape-rendering="crispEdges"/>
<rect x="121.90" y="277.12" width="7.15" height="7.17" fill="#000000" shape-rendering="crispEdges"/>
<rect x="129.00" y="277.12" width="7.15" height="7.17" fill="#f0184a" shape-rendering="crispEdges"/>
<rect x="136.10" y="277.12" width="7.15" height="7.17" fill="#000000" shape-rendering="crispEdges"/>
<rect x="143.20" y="277.12" width="7.15" height="7.17" fill="#000000" shape-rendering="crispEdges"/>
<rect x="150.30" y="277.12" width="7.15" height="7.17" fill="#f0184a" shape-rendering="crispEdges"/>
<rect x="164.20" y="277.12" width="7.25" height="7.17" fill="#000000" shape-rendering="crispEdges"/>
<rect x="171.40" y="277.12" width="7.10" height="7.17" fill="#000000" shape-rendering="crispEdges"/>
<rect x="178.45" y="277.12" width="7.10" height="7.17" fill="#000000" shape-rendering="crispEdges"/>
<rect x="185.50" y="277.12" width="7.10" height="7.17" fill="#000000" shape-rendering="crispEdges"/>
<rect x="192.55" y="277.12" width="7.10" height="7.17" fill="#000000" shape-rendering="crispEdges"/>
<rect x="199.60" y="277.12" width="7.10" height="7.17" fill="#000000" shape-rendering="crispEdges"/>
<rect x="206.65" y="277.12" width="7.10" height="7.17" fill="#331010" shape-rendering="crispEdges"/>
<rect x="1.50" y="284.24" width="7.21" height="7.17" fill="#000000" shape-rendering="crispEdges"/>
<rect x="8.66" y="284.24" width="7.21" height="7.17" fill="#000000" shape-rendering="crispEdges"/>
<rect x="15.82" y="284.24" width="7.21" height="7.17" fill="#000000" shape-rendering="crispEdges"/>
<rect x="22.98" y="284.24" width="7.21" height="7.17" fill="#000000" shape-rendering="crispEdges"/>
<rect x="30.14" y="284.24" width="7.21" height="7.17" fill="#000000" shape-rendering="crispEdges"/>
<rect x="37.30" y="284.24" width="7.21" height="7.17" fill="#000000" shape-rendering="crispEdges"/>
<rect x="44.46" y="284.24" width="7.21" height="7.17" fill="#000000" shape-rendering="crispEdges"/>
<rect x="51.62" y="284.24" width="7.21" height="7.17" fill="#000000" shape-rendering="crispEdges"/>
<rect x="58.78" y="284.24" width="7.21" height="7.17" fill="#000000" shape-rendering="crispEdges"/>
<rect x="65.94" y="284.24" width="7.21" height="7.17" fill="#000000" shape-rendering="crispEdges"/>
<rect x="108.00" y="284.24" width="6.85" height="7.17" fill="#4cc0a0" shape-rendering="crispEdges"/>
<rect x="114.80" y="284.24" width="7.15" height="7.17" fill="#000000" shape-rendering="crispEdges"/>
<rect x="121.90" y="284.24" width="7.15" height="7.17" fill="#000000" shape-rendering="crispEdges"/>
<rect x="129.00" y="284.24" width="7.15" height="7.17" fill="#c41e39" shape-rendering="crispEdges"/>
<rect x="136.10" y="284.24" width="7.15" height="7.17" fill="#000000" shape-rendering="crispEdges"/>
<rect x="143.20" y="284.24" width="7.15" height="7.17" fill="#000000" shape-rendering="crispEdges"/>
<rect x="150.30" y="284.24" width="7.15" height="7.17" fill="#982428" shape-rendering="crispEdges"/>
<rect x="164.20" y="284.24" width="7.25" height="7.17" fill="#173f30" shape-rendering="crispEdges"/>
<rect x="171.40" y="284.24" width="7.10" height="7.17" fill="#000000" shape-rendering="crispEdges"/>
<rect x="178.45" y="284.24" width="7.10" height="7.17" fill="#000000" shape-rendering="crispEdges"/>
<rect x="185.50" y="284.24" width="7.10" height="7.17" fill="#982428" shape-rendering="crispEdges"/>
<rect x="192.55" y="284.24" width="7.10" height="7.17" fill="#000000" shape-rendering="crispEdges"/>
<rect x="199.60" y="284.24" width="7.10" height="7.17" fill="#000000" shape-rendering="crispEdges"/>
<rect x="206.65" y="284.24" width="7.10" height="7.17" fill="#982428" shape-rendering="crispEdges"/>
<rect x="1.50" y="291.36" width="7.21" height="7.17" fill="#000000" shape-rendering="crispEdges"/>
<rect x="8.66" y="291.36" width="7.21" height="7.17" fill="#000000" shape-rendering="crispEdges"/>
<rect x="15.82" y="291.36" width="7.21" height="7.17" fill="#000000" shape-rendering="crispEdges"/>
<rect x="22.98" y="291.36" width="7.21" height="7.17" fill="#000000" shape-rendering="crispEdges"/>
<rect x="30.14" y="291.36" width="7.21" height="7.17" fill="#000000" shape-rendering="crispEdges"/>
<rect x="37.30" y="291.36" width="7.21" height="7.17" fill="#000000" shape-rendering="crispEdges"/>
<rect x="44.46" y="291.36" width="7.21" height="7.17" fill="#000000" shape-rendering="crispEdges"/>
<rect x="51.62" y="291.36" width="7.21" height="7.17" fill="#000000" shape-rendering="crispEdges"/>
<rect x="58.78" y="291.36" width="7.21" height="7.17" fill="#000000" shape-rendering="crispEdges"/>
<rect x="65.94" y="291.36" width="7.21" height="7.17" fill="#000000" shape-rendering="crispEdges"/>
<rect x="108.00" y="291.36" width="6.85" height="7.17" fill="#4cc0a0" shape-rendering="crispEdges"/>
<rect x="114.80" y="291.36" width="7.15" height="7.17" fill="#671c1b" shape-rendering="crispEdges"/>
<rect x="121.90" y="291.36" width="7.15" height="7.17" fill="#000000" shape-rendering="crispEdges"/>
<rect x="129.00" y="291.36" width="7.15" height="7.17" fill="#c41e39" shape-rendering="crispEdges"/>
<rect x="136.10" y="291.36" width="7.15" height="7.17" fill="#000000" shape-rendering="crispEdges"/>
<rect x="143.20" y="291.36" width="7.15" height="7.17" fill="#000000" shape-rendering="crispEdges"/>
<rect x="150.30" y="291.36" width="7.15" height="7.17" fill="#671c1b" shape-rendering="crispEdges"/>
<rect x="164.20" y="291.36" width="7.25" height="7.17" fill="#4cc0a0" shape-rendering="crispEdges"/>
<rect x="171.40" y="291.36" width="7.10" height="7.17" fill="#000000" shape-rendering="crispEdges"/>
<rect x="178.45" y="291.36" width="7.10" height="7.17" fill="#000000" shape-rendering="crispEdges"/>
<rect x="185.50" y="291.36" width="7.10" height="7.17" fill="#000000" shape-rendering="crispEdges"/>
<rect x="192.55" y="291.36" width="7.10" height="7.17" fill="#000000" shape-rendering="crispEdges"/>
<rect x="199.60" y="291.36" width="7.10" height="7.17" fill="#000000" shape-rendering="crispEdges"/>
<rect x="206.65" y="291.36" width="7.10" height="7.17" fill="#671c1b" shape-rendering="crispEdges"/>
<rect x="1.50" y="298.48" width="7.21" height="7.17" fill="#000000" shape-rendering="crispEdges"/>
<rect x="8.66" y="298.48" width="7.21" height="7.17" fill="#000000" shape-rendering="crispEdges"/>
<rect x="15.82" y="298.48" width="7.21" height="7.17" fill="#000000" shape-rendering="crispEdges"/>
<rect x="22.98" y="298.48" width="7.21" height="7.17" fill="#000000" shape-rendering="crispEdges"/>
<rect x="30.14" y="298.48" width="7.21" height="7.17" fill="#000000" shape-rendering="crispEdges"/>
<rect x="37.30" y="298.48" width="7.21" height="7.17" fill="#000000" shape-rendering="crispEdges"/>
<rect x="44.46" y="298.48" width="7.21" height="7.17" fill="#000000" shape-rendering="crispEdges"/>
<rect x="51.62" y="298.48" width="7.21" height="7.17" fill="#000000" shape-rendering="crispEdges"/>
<rect x="58.78" y="298.48" width="7.21" height="7.17" fill="#000000" shape-rendering="crispEdges"/>
<rect x="65.94" y="298.48" width="7.21" height="7.17" fill="#000000" shape-rendering="crispEdges"/>
<rect x="108.00" y="298.48" width="6.85" height="7.17" fill="#4cc0a0" shape-rendering="crispEdges"/>
<rect x="114.80" y="298.48" width="7.15" height="7.17" fill="#000000" shape-rendering="crispEdges"/>
<rect x="121.90" y="298.48" width="7.15" height="7.17" fill="#000000" shape-rendering="crispEdges"/>
<rect x="129.00" y="298.48" width="7.15" height="7.17" fill="#982428" shape-rendering="crispEdges"/>
<rect x="136.10" y="298.48" width="7.15" height="7.17" fill="#000000" shape-rendering="crispEdges"/>
<rect x="143.20" y="298.48" width="7.15" height="7.17" fill="#000000" shape-rendering="crispEdges"/>
<rect x="150.30" y="298.48" width="7.15" height="7.17" fill="#671c1b" shape-rendering="crispEdges"/>
<rect x="164.20" y="298.48" width="7.25" height="7.17" fill="#173f30" shape-rendering="crispEdges"/>
<rect x="171.40" y="298.48" width="7.10" height="7.17" fill="#000000" shape-rendering="crispEdges"/>
<rect x="178.45" y="298.48" width="7.10" height="7.17" fill="#000000" shape-rendering="crispEdges"/>
<rect x="185.50" y="298.48" width="7.10" height="7.17" fill="#982428" shape-rendering="crispEdges"/>
<rect x="192.55" y="298.48" width="7.10" height="7.17" fill="#000000" shape-rendering="crispEdges"/>
<rect x="199.60" y="298.48" width="7.10" height="7.17" fill="#000000" shape-rendering="crispEdges"/>
<rect x="206.65" y="298.48" width="7.10" height="7.17" fill="#982428" shape-rendering="crispEdges"/>
<rect x="1.50" y="305.60" width="7.21" height="7.17" fill="#f8f300" shape-rendering="crispEdges"/>
<rect x="8.66" y="305.60" width="7.21" height="7.17" fill="#1a2206" shape-rendering="crispEdges"/>
<rect x="15.82" y="305.60" width="7.21" height="7.17" fill="#f8f300" shape-rendering="crispEdges"/>
<rect x="22.98" y="305.60" width="7.21" height="7.17" fill="#f8f300" shape-rendering="crispEdges"/>
<rect x="30.14" y="305.60" width="7.21" height="7.17" fill="#f8f300" shape-rendering="crispEdges"/>
<rect x="37.30" y="305.60" width="7.21" height="7.17" fill="#000000" shape-rendering="crispEdges"/>
<rect x="44.46" y="305.60" width="7.21" height="7.17" fill="#000000" shape-rendering="crispEdges"/>
<rect x="51.62" y="305.60" width="7.21" height="7.17" fill="#000000" shape-rendering="crispEdges"/>
<rect x="58.78" y="305.60" width="7.21" height="7.17" fill="#000000" shape-rendering="crispEdges"/>
<rect x="65.94" y="305.60" width="7.21" height="7.17" fill="#000000" shape-rendering="crispEdges"/>
<rect x="108.00" y="305.60" width="6.85" height="7.17" fill="#000000" shape-rendering="crispEdges"/>
<rect x="114.80" y="305.60" width="7.15" height="7.17" fill="#982428" shape-rendering="crispEdges"/>
<rect x="121.90" y="305.60" width="7.15" height="7.17" fill="#000000" shape-rendering="crispEdges"/>
<rect x="129.00" y="305.60" width="7.15" height="7.17" fill="#f0184a" shape-rendering="crispEdges"/>
<rect x="136.10" y="305.60" width="7.15" height="7.17" fill="#000000" shape-rendering="crispEdges"/>
<rect x="143.20" y="305.60" width="7.15" height="7.17" fill="#000000" shape-rendering="crispEdges"/>
<rect x="150.30" y="305.60" width="7.15" height="7.17" fill="#f0184a" shape-rendering="crispEdges"/>
<rect x="164.20" y="305.60" width="7.25" height="7.17" fill="#000000" shape-rendering="crispEdges"/>
<rect x="171.40" y="305.60" width="7.10" height="7.17" fill="#000000" shape-rendering="crispEdges"/>
<rect x="178.45" y="305.60" width="7.10" height="7.17" fill="#000000" shape-rendering="crispEdges"/>
<rect x="185.50" y="305.60" width="7.10" height="7.17" fill="#982428" shape-rendering="crispEdges"/>
<rect x="192.55" y="305.60" width="7.10" height="7.17" fill="#000000" shape-rendering="crispEdges"/>
<rect x="199.60" y="305.60" width="7.10" height="7.17" fill="#000000" shape-rendering="crispEdges"/>
<rect x="206.65" y="305.60" width="7.10" height="7.17" fill="#f0184a" shape-rendering="crispEdges"/>
<rect x="1.50" y="312.72" width="7.21" height="7.17" fill="#6f7c12" shape-rendering="crispEdges"/>
<rect x="8.66" y="312.72" width="7.21" height="7.17" fill="#37430c" shape-rendering="crispEdges"/>
<rect x="15.82" y="312.72" width="7.21" height="7.17" fill="#f8f300" shape-rendering="crispEdges"/>
<rect x="22.98" y="312.72" width="7.21" height="7.17" fill="#f8f300" shape-rendering="crispEdges"/>
<rect x="30.14" y="312.72" width="7.21" height="7.17" fill="#f8f300" shape-rendering="crispEdges"/>
<rect x="37.30" y="312.72" width="7.21" height="7.17" fill="#000000" shape-rendering="crispEdges"/>
<rect x="44.46" y="312.72" width="7.21" height="7.17" fill="#000000" shape-rendering="crispEdges"/>
<rect x="51.62" y="312.72" width="7.21" height="7.17" fill="#000000" shape-rendering="crispEdges"/>
<rect x="58.78" y="312.72" width="7.21" height="7.17" fill="#000000" shape-rendering="crispEdges"/>
<rect x="65.94" y="312.72" width="7.21" height="7.17" fill="#000000" shape-rendering="crispEdges"/>
<rect x="108.00" y="312.72" width="6.85" height="7.17" fill="#000000" shape-rendering="crispEdges"/>
<rect x="114.80" y="312.72" width="7.15" height="7.17" fill="#f0184a" shape-rendering="crispEdges"/>
<rect x="121.90" y="312.72" width="7.15" height="7.17" fill="#000000" shape-rendering="crispEdges"/>
<rect x="129.00" y="312.72" width="7.15" height="7.17" fill="#f0184a" shape-rendering="crispEdges"/>
<rect x="136.10" y="312.72" width="7.15" height="7.17" fill="#000000" shape-rendering="crispEdges"/>
<rect x="143.20" y="312.72" width="7.15" height="7.17" fill="#000000" shape-rendering="crispEdges"/>
<rect x="150.30" y="312.72" width="7.15" height="7.17" fill="#f0184a" shape-rendering="crispEdges"/>
<rect x="164.20" y="312.72" width="7.25" height="7.17" fill="#000000" shape-rendering="crispEdges"/>
<rect x="171.40" y="312.72" width="7.10" height="7.17" fill="#671c1b" shape-rendering="crispEdges"/>
<rect x="178.45" y="312.72" width="7.10" height="7.17" fill="#000000" shape-rendering="crispEdges"/>
<rect x="185.50" y="312.72" width="7.10" height="7.17" fill="#c41e39" shape-rendering="crispEdges"/>
<rect x="192.55" y="312.72" width="7.10" height="7.17" fill="#000000" shape-rendering="crispEdges"/>
<rect x="199.60" y="312.72" width="7.10" height="7.17" fill="#000000" shape-rendering="crispEdges"/>
<rect x="206.65" y="312.72" width="7.10" height="7.17" fill="#f0184a" shape-rendering="crispEdges"/>
<rect x="1.50" y="319.84" width="7.21" height="7.17" fill="#000000" shape-rendering="crispEdges"/>
<rect x="8.66" y="319.84" width="7.21" height="7.17" fill="#000000" shape-rendering="crispEdges"/>
<rect x="15.82" y="319.84" width="7.21" height="7.17" fill="#6f7c12" shape-rendering="crispEdges"/>
<rect x="22.98" y="319.84" width="7.21" height="7.17" fill="#f8f300" shape-rendering="crispEdges"/>
<rect x="30.14" y="319.84" width="7.21" height="7.17" fill="#6f7c12" shape-rendering="crispEdges"/>
<rect x="37.30" y="319.84" width="7.21" height="7.17" fill="#000000" shape-rendering="crispEdges"/>
<rect x="44.46" y="319.84" width="7.21" height="7.17" fill="#000000" shape-rendering="crispEdges"/>
<rect x="51.62" y="319.84" width="7.21" height="7.17" fill="#000000" shape-rendering="crispEdges"/>
<rect x="58.78" y="319.84" width="7.21" height="7.17" fill="#000000" shape-rendering="crispEdges"/>
<rect x="65.94" y="319.84" width="7.21" height="7.17" fill="#000000" shape-rendering="crispEdges"/>
<rect x="108.00" y="319.84" width="6.85" height="7.17" fill="#4cc0a0" shape-rendering="crispEdges"/>
<rect x="114.80" y="319.84" width="7.15" height="7.17" fill="#982428" shape-rendering="crispEdges"/>
<rect x="121.90" y="319.84" width="7.15" height="7.17" fill="#982428" shape-rendering="crispEdges"/>
<rect x="129.00" y="319.84" width="7.15" height="7.17" fill="#f0184a" shape-rendering="crispEdges"/>
<rect x="136.10" y="319.84" width="7.15" height="7.17" fill="#000000" shape-rendering="crispEdges"/>
<rect x="143.20" y="319.84" width="7.15" height="7.17" fill="#000000" shape-rendering="crispEdges"/>
<rect x="150.30" y="319.84" width="7.15" height="7.17" fill="#f0184a" shape-rendering="crispEdges"/>
<rect x="164.20" y="319.84" width="7.25" height="7.17" fill="#2e7a62" shape-rendering="crispEdges"/>
<rect x="171.40" y="319.84" width="7.10" height="7.17" fill="#46a626" shape-rendering="crispEdges"/>
<rect x="178.45" y="319.84" width="7.10" height="7.17" fill="#000000" shape-rendering="crispEdges"/>
<rect x="185.50" y="319.84" width="7.10" height="7.17" fill="#c41e39" shape-rendering="crispEdges"/>
<rect x="192.55" y="319.84" width="7.10" height="7.17" fill="#000000" shape-rendering="crispEdges"/>
<rect x="199.60" y="319.84" width="7.10" height="7.17" fill="#671c1b" shape-rendering="crispEdges"/>
<rect x="206.65" y="319.84" width="7.10" height="7.17" fill="#f0184a" shape-rendering="crispEdges"/>
<rect x="43.96" y="270.00" width="1" height="7.17" fill="#4a4a4a"/>
<rect x="58.38" y="270.00" width="1" height="7.17" fill="#4a4a4a"/>
<rect x="43.96" y="277.12" width="1" height="7.17" fill="#4a4a4a"/>
<rect x="58.38" y="277.12" width="1" height="7.17" fill="#4a4a4a"/>
<rect x="22.58" y="284.24" width="1" height="7.17" fill="#4a4a4a"/>
<rect x="43.96" y="284.24" width="1" height="7.17" fill="#4a4a4a"/>
<rect x="58.38" y="284.24" width="1" height="7.17" fill="#4a4a4a"/>
<rect x="22.58" y="291.36" width="1" height="7.17" fill="#4a4a4a"/>
<rect x="43.96" y="291.36" width="1" height="7.17" fill="#4a4a4a"/>
<rect x="58.38" y="291.36" width="1" height="7.17" fill="#4a4a4a"/>
<rect x="22.58" y="298.48" width="1" height="7.17" fill="#4a4a4a"/>
<rect x="43.96" y="298.48" width="1" height="7.17" fill="#4a4a4a"/>
<rect x="58.38" y="298.48" width="1" height="7.17" fill="#4a4a4a"/>
<rect x="43.96" y="305.60" width="1" height="7.17" fill="#4a4a4a"/>
<rect x="58.38" y="305.60" width="1" height="7.17" fill="#4a4a4a"/>
<rect x="43.96" y="312.72" width="1" height="7.17" fill="#4a4a4a"/>
<rect x="58.38" y="312.72" width="1" height="7.17" fill="#4a4a4a"/>
<rect x="43.96" y="319.84" width="1" height="7.17" fill="#4a4a4a"/>
<rect x="58.38" y="319.84" width="1" height="7.17" fill="#4a4a4a"/>
<rect x="73.60" y="270.00" width="34.10" height="7.12" fill="#ffffff" shape-rendering="crispEdges"/>
<text transform="translate(90.65,276.67) scale(0.8,1)" font-family="Liberation Sans" font-size="7.5" fill="#111" text-anchor="middle" stroke="#111" stroke-width="0.3">MCP3</text>
<rect x="73.60" y="277.12" width="34.10" height="7.12" fill="#ffffff" shape-rendering="crispEdges"/>
<text transform="translate(90.65,283.79) scale(0.8,1)" font-family="Liberation Sans" font-size="7.5" fill="#111" text-anchor="middle" stroke="#111" stroke-width="0.3">IP9</text>
<rect x="73.60" y="284.24" width="34.10" height="7.12" fill="#ffffff" shape-rendering="crispEdges"/>
<text transform="translate(90.65,290.91) scale(0.8,1)" font-family="Liberation Sans" font-size="7.5" fill="#d8683a" text-anchor="middle" stroke="#d8683a" stroke-width="0.3">E2-EPF</text>
<rect x="73.60" y="291.36" width="34.10" height="7.12" fill="#ffffff" shape-rendering="crispEdges"/>
<text transform="translate(90.65,298.03) scale(0.8,1)" font-family="Liberation Sans" font-size="7.5" fill="#d8683a" text-anchor="middle" stroke="#d8683a" stroke-width="0.3">E2-EPF</text>
<rect x="73.60" y="298.48" width="34.10" height="7.12" fill="#ffffff" shape-rendering="crispEdges"/>
<text transform="translate(90.65,305.15) scale(0.8,1)" font-family="Liberation Sans" font-size="7.5" fill="#d8683a" text-anchor="middle" stroke="#d8683a" stroke-width="0.3">E2-EPF</text>
<rect x="73.60" y="305.60" width="34.10" height="7.12" fill="#ffffff" shape-rendering="crispEdges"/>
<text transform="translate(90.65,312.27) scale(0.8,1)" font-family="Liberation Sans" font-size="7.5" fill="#111" text-anchor="middle" stroke="#111" stroke-width="0.3">IP10</text>
<rect x="73.60" y="312.72" width="34.10" height="7.12" fill="#ffffff" shape-rendering="crispEdges"/>
<text transform="translate(90.65,319.39) scale(0.8,1)" font-family="Liberation Sans" font-size="7.5" fill="#111" text-anchor="middle" stroke="#111" stroke-width="0.3">MIG</text>
<rect x="73.60" y="319.84" width="34.10" height="7.12" fill="#ffffff" shape-rendering="crispEdges"/>
<text transform="translate(90.65,326.51) scale(0.8,1)" font-family="Liberation Sans" font-size="7.5" fill="#111" text-anchor="middle" stroke="#111" stroke-width="0.3">MCP2</text>
<rect x="73.60" y="269.50" width="34.10" height="1.00" fill="#8c8c8c" shape-rendering="crispEdges"/>
<rect x="73.60" y="276.62" width="34.10" height="1.00" fill="#8c8c8c" shape-rendering="crispEdges"/>
<rect x="73.60" y="283.74" width="34.10" height="1.00" fill="#8c8c8c" shape-rendering="crispEdges"/>
<rect x="73.60" y="290.86" width="34.10" height="1.00" fill="#8c8c8c" shape-rendering="crispEdges"/>
<rect x="73.60" y="297.98" width="34.10" height="1.00" fill="#8c8c8c" shape-rendering="crispEdges"/>
<rect x="73.60" y="305.10" width="34.10" height="1.00" fill="#8c8c8c" shape-rendering="crispEdges"/>
<rect x="73.60" y="312.22" width="34.10" height="1.00" fill="#8c8c8c" shape-rendering="crispEdges"/>
<rect x="73.60" y="319.34" width="34.10" height="1.00" fill="#8c8c8c" shape-rendering="crispEdges"/>
<rect x="73.60" y="326.46" width="34.10" height="1.00" fill="#8c8c8c" shape-rendering="crispEdges"/>
<rect x="1.50" y="334.50" width="7.21" height="7.10" fill="#000000" shape-rendering="crispEdges"/>
<rect x="8.66" y="334.50" width="7.21" height="7.10" fill="#000000" shape-rendering="crispEdges"/>
<rect x="15.82" y="334.50" width="7.21" height="7.10" fill="#000000" shape-rendering="crispEdges"/>
<rect x="22.98" y="334.50" width="7.21" height="7.10" fill="#000000" shape-rendering="crispEdges"/>
<rect x="30.14" y="334.50" width="7.21" height="7.10" fill="#000000" shape-rendering="crispEdges"/>
<rect x="37.30" y="334.50" width="7.21" height="7.10" fill="#f8f300" shape-rendering="crispEdges"/>
<rect x="44.46" y="334.50" width="7.21" height="7.10" fill="#000000" shape-rendering="crispEdges"/>
<rect x="51.62" y="334.50" width="7.21" height="7.10" fill="#000000" shape-rendering="crispEdges"/>
<rect x="58.78" y="334.50" width="7.21" height="7.10" fill="#000000" shape-rendering="crispEdges"/>
<rect x="65.94" y="334.50" width="7.21" height="7.10" fill="#000000" shape-rendering="crispEdges"/>
<rect x="108.00" y="334.50" width="6.85" height="7.10" fill="#000000" shape-rendering="crispEdges"/>
<rect x="114.80" y="334.50" width="7.15" height="7.10" fill="#000000" shape-rendering="crispEdges"/>
<rect x="121.90" y="334.50" width="7.15" height="7.10" fill="#000000" shape-rendering="crispEdges"/>
<rect x="129.00" y="334.50" width="7.15" height="7.10" fill="#982428" shape-rendering="crispEdges"/>
<rect x="136.10" y="334.50" width="7.15" height="7.10" fill="#000000" shape-rendering="crispEdges"/>
<rect x="143.20" y="334.50" width="7.15" height="7.10" fill="#000000" shape-rendering="crispEdges"/>
<rect x="150.30" y="334.50" width="7.15" height="7.10" fill="#c41e39" shape-rendering="crispEdges"/>
<rect x="164.20" y="334.50" width="7.25" height="7.10" fill="#4cc0a0" shape-rendering="crispEdges"/>
<rect x="171.40" y="334.50" width="7.10" height="7.10" fill="#000000" shape-rendering="crispEdges"/>
<rect x="178.45" y="334.50" width="7.10" height="7.10" fill="#000000" shape-rendering="crispEdges"/>
<rect x="185.50" y="334.50" width="7.10" height="7.10" fill="#2d6c18" shape-rendering="crispEdges"/>
<rect x="192.55" y="334.50" width="7.10" height="7.10" fill="#000000" shape-rendering="crispEdges"/>
<rect x="199.60" y="334.50" width="7.10" height="7.10" fill="#000000" shape-rendering="crispEdges"/>
<rect x="206.65" y="334.50" width="7.10" height="7.10" fill="#000000" shape-rendering="crispEdges"/>
<rect x="1.50" y="341.55" width="7.21" height="7.10" fill="#000000" shape-rendering="crispEdges"/>
<rect x="8.66" y="341.55" width="7.21" height="7.10" fill="#000000" shape-rendering="crispEdges"/>
<rect x="15.82" y="341.55" width="7.21" height="7.10" fill="#000000" shape-rendering="crispEdges"/>
<rect x="22.98" y="341.55" width="7.21" height="7.10" fill="#000000" shape-rendering="crispEdges"/>
<rect x="30.14" y="341.55" width="7.21" height="7.10" fill="#000000" shape-rendering="crispEdges"/>
<rect x="37.30" y="341.55" width="7.21" height="7.10" fill="#f8f300" shape-rendering="crispEdges"/>
<rect x="44.46" y="341.55" width="7.21" height="7.10" fill="#000000" shape-rendering="crispEdges"/>
<rect x="51.62" y="341.55" width="7.21" height="7.10" fill="#000000" shape-rendering="crispEdges"/>
<rect x="58.78" y="341.55" width="7.21" height="7.10" fill="#000000" shape-rendering="crispEdges"/>
<rect x="65.94" y="341.55" width="7.21" height="7.10" fill="#000000" shape-rendering="crispEdges"/>
<rect x="108.00" y="341.55" width="6.85" height="7.10" fill="#4cc0a0" shape-rendering="crispEdges"/>
<rect x="114.80" y="341.55" width="7.15" height="7.10" fill="#671c1b" shape-rendering="crispEdges"/>
<rect x="121.90" y="341.55" width="7.15" height="7.10" fill="#000000" shape-rendering="crispEdges"/>
<rect x="129.00" y="341.55" width="7.15" height="7.10" fill="#c41e39" shape-rendering="crispEdges"/>
<rect x="136.10" y="341.55" width="7.15" height="7.10" fill="#000000" shape-rendering="crispEdges"/>
<rect x="143.20" y="341.55" width="7.15" height="7.10" fill="#000000" shape-rendering="crispEdges"/>
<rect x="150.30" y="341.55" width="7.15" height="7.10" fill="#982428" shape-rendering="crispEdges"/>
<rect x="164.20" y="341.55" width="7.25" height="7.10" fill="#4cc0a0" shape-rendering="crispEdges"/>
<rect x="171.40" y="341.55" width="7.10" height="7.10" fill="#183610" shape-rendering="crispEdges"/>
<rect x="178.45" y="341.55" width="7.10" height="7.10" fill="#183610" shape-rendering="crispEdges"/>
<rect x="185.50" y="341.55" width="7.10" height="7.10" fill="#000000" shape-rendering="crispEdges"/>
<rect x="192.55" y="341.55" width="7.10" height="7.10" fill="#000000" shape-rendering="crispEdges"/>
<rect x="199.60" y="341.55" width="7.10" height="7.10" fill="#000000" shape-rendering="crispEdges"/>
<rect x="206.65" y="341.55" width="7.10" height="7.10" fill="#000000" shape-rendering="crispEdges"/>
<rect x="22.58" y="334.50" width="1" height="7.10" fill="#4a4a4a"/>
<rect x="22.58" y="341.55" width="1" height="7.10" fill="#4a4a4a"/>
<rect x="73.60" y="334.50" width="34.10" height="7.05" fill="#ffffff" shape-rendering="crispEdges"/>
<text transform="translate(90.65,341.10) scale(0.8,1)" font-family="Liberation Sans" font-size="7.5" fill="#111" text-anchor="middle" stroke="#111" stroke-width="0.3">PLXNC1</text>
<rect x="73.60" y="341.55" width="34.10" height="7.05" fill="#ffffff" shape-rendering="crispEdges"/>
<text transform="translate(90.65,348.15) scale(0.8,1)" font-family="Liberation Sans" font-size="7.5" fill="#111" text-anchor="middle" stroke="#111" stroke-width="0.3">AGRN</text>
<rect x="73.60" y="334.00" width="34.10" height="1.00" fill="#8c8c8c" shape-rendering="crispEdges"/>
<rect x="73.60" y="341.05" width="34.10" height="1.00" fill="#8c8c8c" shape-rendering="crispEdges"/>
<rect x="73.60" y="348.10" width="34.10" height="1.00" fill="#8c8c8c" shape-rendering="crispEdges"/>
<rect x="1.50" y="356.00" width="7.21" height="7.18" fill="#000000" shape-rendering="crispEdges"/>
<rect x="8.66" y="356.00" width="7.21" height="7.18" fill="#000000" shape-rendering="crispEdges"/>
<rect x="15.82" y="356.00" width="7.21" height="7.18" fill="#f8f300" shape-rendering="crispEdges"/>
<rect x="22.98" y="356.00" width="7.21" height="7.18" fill="#000000" shape-rendering="crispEdges"/>
<rect x="30.14" y="356.00" width="7.21" height="7.18" fill="#000000" shape-rendering="crispEdges"/>
<rect x="37.30" y="356.00" width="7.21" height="7.18" fill="#000000" shape-rendering="crispEdges"/>
<rect x="44.46" y="356.00" width="7.21" height="7.18" fill="#f8f300" shape-rendering="crispEdges"/>
<rect x="51.62" y="356.00" width="7.21" height="7.18" fill="#c6c41c" shape-rendering="crispEdges"/>
<rect x="58.78" y="356.00" width="7.21" height="7.18" fill="#000000" shape-rendering="crispEdges"/>
<rect x="65.94" y="356.00" width="7.21" height="7.18" fill="#000000" shape-rendering="crispEdges"/>
<rect x="108.00" y="356.00" width="6.85" height="7.18" fill="#4cc0a0" shape-rendering="crispEdges"/>
<rect x="114.80" y="356.00" width="7.15" height="7.18" fill="#000000" shape-rendering="crispEdges"/>
<rect x="121.90" y="356.00" width="7.15" height="7.18" fill="#000000" shape-rendering="crispEdges"/>
<rect x="129.00" y="356.00" width="7.15" height="7.18" fill="#982428" shape-rendering="crispEdges"/>
<rect x="136.10" y="356.00" width="7.15" height="7.18" fill="#000000" shape-rendering="crispEdges"/>
<rect x="143.20" y="356.00" width="7.15" height="7.18" fill="#000000" shape-rendering="crispEdges"/>
<rect x="150.30" y="356.00" width="7.15" height="7.18" fill="#c41e39" shape-rendering="crispEdges"/>
<rect x="164.20" y="356.00" width="7.25" height="7.18" fill="#4cc0a0" shape-rendering="crispEdges"/>
<rect x="171.40" y="356.00" width="7.10" height="7.18" fill="#000000" shape-rendering="crispEdges"/>
<rect x="178.45" y="356.00" width="7.10" height="7.18" fill="#000000" shape-rendering="crispEdges"/>
<rect x="185.50" y="356.00" width="7.10" height="7.18" fill="#000000" shape-rendering="crispEdges"/>
<rect x="192.55" y="356.00" width="7.10" height="7.18" fill="#000000" shape-rendering="crispEdges"/>
<rect x="199.60" y="356.00" width="7.10" height="7.18" fill="#000000" shape-rendering="crispEdges"/>
<rect x="206.65" y="356.00" width="7.10" height="7.18" fill="#000000" shape-rendering="crispEdges"/>
<rect x="1.50" y="363.13" width="7.21" height="7.18" fill="#000000" shape-rendering="crispEdges"/>
<rect x="8.66" y="363.13" width="7.21" height="7.18" fill="#000000" shape-rendering="crispEdges"/>
<rect x="15.82" y="363.13" width="7.21" height="7.18" fill="#f8f300" shape-rendering="crispEdges"/>
<rect x="22.98" y="363.13" width="7.21" height="7.18" fill="#000000" shape-rendering="crispEdges"/>
<rect x="30.14" y="363.13" width="7.21" height="7.18" fill="#000000" shape-rendering="crispEdges"/>
<rect x="37.30" y="363.13" width="7.21" height="7.18" fill="#000000" shape-rendering="crispEdges"/>
<rect x="44.46" y="363.13" width="7.21" height="7.18" fill="#f8f300" shape-rendering="crispEdges"/>
<rect x="51.62" y="363.13" width="7.21" height="7.18" fill="#c6c41c" shape-rendering="crispEdges"/>
<rect x="58.78" y="363.13" width="7.21" height="7.18" fill="#000000" shape-rendering="crispEdges"/>
<rect x="65.94" y="363.13" width="7.21" height="7.18" fill="#000000" shape-rendering="crispEdges"/>
<rect x="108.00" y="363.13" width="6.85" height="7.18" fill="#4cc0a0" shape-rendering="crispEdges"/>
<rect x="114.80" y="363.13" width="7.15" height="7.18" fill="#000000" shape-rendering="crispEdges"/>
<rect x="121.90" y="363.13" width="7.15" height="7.18" fill="#000000" shape-rendering="crispEdges"/>
<rect x="129.00" y="363.13" width="7.15" height="7.18" fill="#982428" shape-rendering="crispEdges"/>
<rect x="136.10" y="363.13" width="7.15" height="7.18" fill="#000000" shape-rendering="crispEdges"/>
<rect x="143.20" y="363.13" width="7.15" height="7.18" fill="#000000" shape-rendering="crispEdges"/>
<rect x="150.30" y="363.13" width="7.15" height="7.18" fill="#982428" shape-rendering="crispEdges"/>
<rect x="164.20" y="363.13" width="7.25" height="7.18" fill="#4cc0a0" shape-rendering="crispEdges"/>
<rect x="171.40" y="363.13" width="7.10" height="7.18" fill="#000000" shape-rendering="crispEdges"/>
<rect x="178.45" y="363.13" width="7.10" height="7.18" fill="#000000" shape-rendering="crispEdges"/>
<rect x="185.50" y="363.13" width="7.10" height="7.18" fill="#000000" shape-rendering="crispEdges"/>
<rect x="192.55" y="363.13" width="7.10" height="7.18" fill="#000000" shape-rendering="crispEdges"/>
<rect x="199.60" y="363.13" width="7.10" height="7.18" fill="#000000" shape-rendering="crispEdges"/>
<rect x="206.65" y="363.13" width="7.10" height="7.18" fill="#000000" shape-rendering="crispEdges"/>
<rect x="1.50" y="370.26" width="7.21" height="7.18" fill="#000000" shape-rendering="crispEdges"/>
<rect x="8.66" y="370.26" width="7.21" height="7.18" fill="#000000" shape-rendering="crispEdges"/>
<rect x="15.82" y="370.26" width="7.21" height="7.18" fill="#000000" shape-rendering="crispEdges"/>
<rect x="22.98" y="370.26" width="7.21" height="7.18" fill="#000000" shape-rendering="crispEdges"/>
<rect x="30.14" y="370.26" width="7.21" height="7.18" fill="#000000" shape-rendering="crispEdges"/>
<rect x="37.30" y="370.26" width="7.21" height="7.18" fill="#000000" shape-rendering="crispEdges"/>
<rect x="44.46" y="370.26" width="7.21" height="7.18" fill="#f8f300" shape-rendering="crispEdges"/>
<rect x="51.62" y="370.26" width="7.21" height="7.18" fill="#6f7c12" shape-rendering="crispEdges"/>
<rect x="58.78" y="370.26" width="7.21" height="7.18" fill="#000000" shape-rendering="crispEdges"/>
<rect x="65.94" y="370.26" width="7.21" height="7.18" fill="#000000" shape-rendering="crispEdges"/>
<rect x="108.00" y="370.26" width="6.85" height="7.18" fill="#4cc0a0" shape-rendering="crispEdges"/>
<rect x="114.80" y="370.26" width="7.15" height="7.18" fill="#000000" shape-rendering="crispEdges"/>
<rect x="121.90" y="370.26" width="7.15" height="7.18" fill="#000000" shape-rendering="crispEdges"/>
<rect x="129.00" y="370.26" width="7.15" height="7.18" fill="#000000" shape-rendering="crispEdges"/>
<rect x="136.10" y="370.26" width="7.15" height="7.18" fill="#000000" shape-rendering="crispEdges"/>
<rect x="143.20" y="370.26" width="7.15" height="7.18" fill="#000000" shape-rendering="crispEdges"/>
<rect x="150.30" y="370.26" width="7.15" height="7.18" fill="#671c1b" shape-rendering="crispEdges"/>
<rect x="164.20" y="370.26" width="7.25" height="7.18" fill="#4cc0a0" shape-rendering="crispEdges"/>
<rect x="171.40" y="370.26" width="7.10" height="7.18" fill="#000000" shape-rendering="crispEdges"/>
<rect x="178.45" y="370.26" width="7.10" height="7.18" fill="#000000" shape-rendering="crispEdges"/>
<rect x="185.50" y="370.26" width="7.10" height="7.18" fill="#000000" shape-rendering="crispEdges"/>
<rect x="192.55" y="370.26" width="7.10" height="7.18" fill="#000000" shape-rendering="crispEdges"/>
<rect x="199.60" y="370.26" width="7.10" height="7.18" fill="#000000" shape-rendering="crispEdges"/>
<rect x="206.65" y="370.26" width="7.10" height="7.18" fill="#000000" shape-rendering="crispEdges"/>
<rect x="1.50" y="377.39" width="7.21" height="7.18" fill="#000000" shape-rendering="crispEdges"/>
<rect x="8.66" y="377.39" width="7.21" height="7.18" fill="#000000" shape-rendering="crispEdges"/>
<rect x="15.82" y="377.39" width="7.21" height="7.18" fill="#a2ae16" shape-rendering="crispEdges"/>
<rect x="22.98" y="377.39" width="7.21" height="7.18" fill="#000000" shape-rendering="crispEdges"/>
<rect x="30.14" y="377.39" width="7.21" height="7.18" fill="#000000" shape-rendering="crispEdges"/>
<rect x="37.30" y="377.39" width="7.21" height="7.18" fill="#000000" shape-rendering="crispEdges"/>
<rect x="44.46" y="377.39" width="7.21" height="7.18" fill="#f8f300" shape-rendering="crispEdges"/>
<rect x="51.62" y="377.39" width="7.21" height="7.18" fill="#1a2206" shape-rendering="crispEdges"/>
<rect x="58.78" y="377.39" width="7.21" height="7.18" fill="#000000" shape-rendering="crispEdges"/>
<rect x="65.94" y="377.39" width="7.21" height="7.18" fill="#000000" shape-rendering="crispEdges"/>
<rect x="108.00" y="377.39" width="6.85" height="7.18" fill="#4cc0a0" shape-rendering="crispEdges"/>
<rect x="114.80" y="377.39" width="7.15" height="7.18" fill="#000000" shape-rendering="crispEdges"/>
<rect x="121.90" y="377.39" width="7.15" height="7.18" fill="#000000" shape-rendering="crispEdges"/>
<rect x="129.00" y="377.39" width="7.15" height="7.18" fill="#671c1b" shape-rendering="crispEdges"/>
<rect x="136.10" y="377.39" width="7.15" height="7.18" fill="#000000" shape-rendering="crispEdges"/>
<rect x="143.20" y="377.39" width="7.15" height="7.18" fill="#000000" shape-rendering="crispEdges"/>
<rect x="150.30" y="377.39" width="7.15" height="7.18" fill="#671c1b" shape-rendering="crispEdges"/>
<rect x="164.20" y="377.39" width="7.25" height="7.18" fill="#4cc0a0" shape-rendering="crispEdges"/>
<rect x="171.40" y="377.39" width="7.10" height="7.18" fill="#000000" shape-rendering="crispEdges"/>
<rect x="178.45" y="377.39" width="7.10" height="7.18" fill="#000000" shape-rendering="crispEdges"/>
<rect x="185.50" y="377.39" width="7.10" height="7.18" fill="#000000" shape-rendering="crispEdges"/>
<rect x="192.55" y="377.39" width="7.10" height="7.18" fill="#000000" shape-rendering="crispEdges"/>
<rect x="199.60" y="377.39" width="7.10" height="7.18" fill="#000000" shape-rendering="crispEdges"/>
<rect x="206.65" y="377.39" width="7.10" height="7.18" fill="#000000" shape-rendering="crispEdges"/>
<rect x="1.50" y="384.52" width="7.21" height="7.18" fill="#000000" shape-rendering="crispEdges"/>
<rect x="8.66" y="384.52" width="7.21" height="7.18" fill="#000000" shape-rendering="crispEdges"/>
<rect x="15.82" y="384.52" width="7.21" height="7.18" fill="#000000" shape-rendering="crispEdges"/>
<rect x="22.98" y="384.52" width="7.21" height="7.18" fill="#000000" shape-rendering="crispEdges"/>
<rect x="30.14" y="384.52" width="7.21" height="7.18" fill="#000000" shape-rendering="crispEdges"/>
<rect x="37.30" y="384.52" width="7.21" height="7.18" fill="#000000" shape-rendering="crispEdges"/>
<rect x="44.46" y="384.52" width="7.21" height="7.18" fill="#f8f300" shape-rendering="crispEdges"/>
<rect x="51.62" y="384.52" width="7.21" height="7.18" fill="#1a2206" shape-rendering="crispEdges"/>
<rect x="58.78" y="384.52" width="7.21" height="7.18" fill="#000000" shape-rendering="crispEdges"/>
<rect x="65.94" y="384.52" width="7.21" height="7.18" fill="#000000" shape-rendering="crispEdges"/>
<rect x="108.00" y="384.52" width="6.85" height="7.18" fill="#4cc0a0" shape-rendering="crispEdges"/>
<rect x="114.80" y="384.52" width="7.15" height="7.18" fill="#000000" shape-rendering="crispEdges"/>
<rect x="121.90" y="384.52" width="7.15" height="7.18" fill="#000000" shape-rendering="crispEdges"/>
<rect x="129.00" y="384.52" width="7.15" height="7.18" fill="#671c1b" shape-rendering="crispEdges"/>
<rect x="136.10" y="384.52" width="7.15" height="7.18" fill="#000000" shape-rendering="crispEdges"/>
<rect x="143.20" y="384.52" width="7.15" height="7.18" fill="#000000" shape-rendering="crispEdges"/>
<rect x="150.30" y="384.52" width="7.15" height="7.18" fill="#671c1b" shape-rendering="crispEdges"/>
<rect x="164.20" y="384.52" width="7.25" height="7.18" fill="#4cc0a0" shape-rendering="crispEdges"/>
<rect x="171.40" y="384.52" width="7.10" height="7.18" fill="#000000" shape-rendering="crispEdges"/>
<rect x="178.45" y="384.52" width="7.10" height="7.18" fill="#000000" shape-rendering="crispEdges"/>
<rect x="185.50" y="384.52" width="7.10" height="7.18" fill="#000000" shape-rendering="crispEdges"/>
<rect x="192.55" y="384.52" width="7.10" height="7.18" fill="#000000" shape-rendering="crispEdges"/>
<rect x="199.60" y="384.52" width="7.10" height="7.18" fill="#000000" shape-rendering="crispEdges"/>
<rect x="206.65" y="384.52" width="7.10" height="7.18" fill="#000000" shape-rendering="crispEdges"/>
<rect x="1.50" y="391.65" width="7.21" height="7.18" fill="#000000" shape-rendering="crispEdges"/>
<rect x="8.66" y="391.65" width="7.21" height="7.18" fill="#000000" shape-rendering="crispEdges"/>
<rect x="15.82" y="391.65" width="7.21" height="7.18" fill="#a2ae16" shape-rendering="crispEdges"/>
<rect x="22.98" y="391.65" width="7.21" height="7.18" fill="#000000" shape-rendering="crispEdges"/>
<rect x="30.14" y="391.65" width="7.21" height="7.18" fill="#000000" shape-rendering="crispEdges"/>
<rect x="37.30" y="391.65" width="7.21" height="7.18" fill="#000000" shape-rendering="crispEdges"/>
<rect x="44.46" y="391.65" width="7.21" height="7.18" fill="#f8f300" shape-rendering="crispEdges"/>
<rect x="51.62" y="391.65" width="7.21" height="7.18" fill="#1a2206" shape-rendering="crispEdges"/>
<rect x="58.78" y="391.65" width="7.21" height="7.18" fill="#000000" shape-rendering="crispEdges"/>
<rect x="65.94" y="391.65" width="7.21" height="7.18" fill="#000000" shape-rendering="crispEdges"/>
<rect x="108.00" y="391.65" width="6.85" height="7.18" fill="#4cc0a0" shape-rendering="crispEdges"/>
<rect x="114.80" y="391.65" width="7.15" height="7.18" fill="#000000" shape-rendering="crispEdges"/>
<rect x="121.90" y="391.65" width="7.15" height="7.18" fill="#000000" shape-rendering="crispEdges"/>
<rect x="129.00" y="391.65" width="7.15" height="7.18" fill="#000000" shape-rendering="crispEdges"/>
<rect x="136.10" y="391.65" width="7.15" height="7.18" fill="#000000" shape-rendering="crispEdges"/>
<rect x="143.20" y="391.65" width="7.15" height="7.18" fill="#000000" shape-rendering="crispEdges"/>
<rect x="150.30" y="391.65" width="7.15" height="7.18" fill="#331010" shape-rendering="crispEdges"/>
<rect x="164.20" y="391.65" width="7.25" height="7.18" fill="#4cc0a0" shape-rendering="crispEdges"/>
<rect x="171.40" y="391.65" width="7.10" height="7.18" fill="#000000" shape-rendering="crispEdges"/>
<rect x="178.45" y="391.65" width="7.10" height="7.18" fill="#000000" shape-rendering="crispEdges"/>
<rect x="185.50" y="391.65" width="7.10" height="7.18" fill="#000000" shape-rendering="crispEdges"/>
<rect x="192.55" y="391.65" width="7.10" height="7.18" fill="#000000" shape-rendering="crispEdges"/>
<rect x="199.60" y="391.65" width="7.10" height="7.18" fill="#000000" shape-rendering="crispEdges"/>
<rect x="206.65" y="391.65" width="7.10" height="7.18" fill="#000000" shape-rendering="crispEdges"/>
<rect x="1.50" y="398.78" width="7.21" height="7.18" fill="#000000" shape-rendering="crispEdges"/>
<rect x="8.66" y="398.78" width="7.21" height="7.18" fill="#000000" shape-rendering="crispEdges"/>
<rect x="15.82" y="398.78" width="7.21" height="7.18" fill="#1a2206" shape-rendering="crispEdges"/>
<rect x="22.98" y="398.78" width="7.21" height="7.18" fill="#000000" shape-rendering="crispEdges"/>
<rect x="30.14" y="398.78" width="7.21" height="7.18" fill="#000000" shape-rendering="crispEdges"/>
<rect x="37.30" y="398.78" width="7.21" height="7.18" fill="#000000" shape-rendering="crispEdges"/>
<rect x="44.46" y="398.78" width="7.21" height="7.18" fill="#f8f300" shape-rendering="crispEdges"/>
<rect x="51.62" y="398.78" width="7.21" height="7.18" fill="#f8f300" shape-rendering="crispEdges"/>
<rect x="58.78" y="398.78" width="7.21" height="7.18" fill="#000000" shape-rendering="crispEdges"/>
<rect x="65.94" y="398.78" width="7.21" height="7.18" fill="#000000" shape-rendering="crispEdges"/>
<rect x="108.00" y="398.78" width="6.85" height="7.18" fill="#4cc0a0" shape-rendering="crispEdges"/>
<rect x="114.80" y="398.78" width="7.15" height="7.18" fill="#000000" shape-rendering="crispEdges"/>
<rect x="121.90" y="398.78" width="7.15" height="7.18" fill="#000000" shape-rendering="crispEdges"/>
<rect x="129.00" y="398.78" width="7.15" height="7.18" fill="#8a3527" shape-rendering="crispEdges"/>
<rect x="136.10" y="398.78" width="7.15" height="7.18" fill="#000000" shape-rendering="crispEdges"/>
<rect x="143.20" y="398.78" width="7.15" height="7.18" fill="#000000" shape-rendering="crispEdges"/>
<rect x="150.30" y="398.78" width="7.15" height="7.18" fill="#331010" shape-rendering="crispEdges"/>
<rect x="164.20" y="398.78" width="7.25" height="7.18" fill="#4cc0a0" shape-rendering="crispEdges"/>
<rect x="171.40" y="398.78" width="7.10" height="7.18" fill="#000000" shape-rendering="crispEdges"/>
<rect x="178.45" y="398.78" width="7.10" height="7.18" fill="#000000" shape-rendering="crispEdges"/>
<rect x="185.50" y="398.78" width="7.10" height="7.18" fill="#000000" shape-rendering="crispEdges"/>
<rect x="192.55" y="398.78" width="7.10" height="7.18" fill="#000000" shape-rendering="crispEdges"/>
<rect x="199.60" y="398.78" width="7.10" height="7.18" fill="#000000" shape-rendering="crispEdges"/>
<rect x="206.65" y="398.78" width="7.10" height="7.18" fill="#000000" shape-rendering="crispEdges"/>
<rect x="1.50" y="405.91" width="7.21" height="7.18" fill="#000000" shape-rendering="crispEdges"/>
<rect x="8.66" y="405.91" width="7.21" height="7.18" fill="#000000" shape-rendering="crispEdges"/>
<rect x="15.82" y="405.91" width="7.21" height="7.18" fill="#000000" shape-rendering="crispEdges"/>
<rect x="22.98" y="405.91" width="7.21" height="7.18" fill="#000000" shape-rendering="crispEdges"/>
<rect x="30.14" y="405.91" width="7.21" height="7.18" fill="#000000" shape-rendering="crispEdges"/>
<rect x="37.30" y="405.91" width="7.21" height="7.18" fill="#000000" shape-rendering="crispEdges"/>
<rect x="44.46" y="405.91" width="7.21" height="7.18" fill="#f8f300" shape-rendering="crispEdges"/>
<rect x="51.62" y="405.91" width="7.21" height="7.18" fill="#f8f300" shape-rendering="crispEdges"/>
<rect x="58.78" y="405.91" width="7.21" height="7.18" fill="#000000" shape-rendering="crispEdges"/>
<rect x="65.94" y="405.91" width="7.21" height="7.18" fill="#000000" shape-rendering="crispEdges"/>
<rect x="108.00" y="405.91" width="6.85" height="7.18" fill="#4cc0a0" shape-rendering="crispEdges"/>
<rect x="114.80" y="405.91" width="7.15" height="7.18" fill="#331010" shape-rendering="crispEdges"/>
<rect x="121.90" y="405.91" width="7.15" height="7.18" fill="#000000" shape-rendering="crispEdges"/>
<rect x="129.00" y="405.91" width="7.15" height="7.18" fill="#000000" shape-rendering="crispEdges"/>
<rect x="136.10" y="405.91" width="7.15" height="7.18" fill="#000000" shape-rendering="crispEdges"/>
<rect x="143.20" y="405.91" width="7.15" height="7.18" fill="#000000" shape-rendering="crispEdges"/>
<rect x="150.30" y="405.91" width="7.15" height="7.18" fill="#671c1b" shape-rendering="crispEdges"/>
<rect x="164.20" y="405.91" width="7.25" height="7.18" fill="#4cc0a0" shape-rendering="crispEdges"/>
<rect x="171.40" y="405.91" width="7.10" height="7.18" fill="#000000" shape-rendering="crispEdges"/>
<rect x="178.45" y="405.91" width="7.10" height="7.18" fill="#000000" shape-rendering="crispEdges"/>
<rect x="185.50" y="405.91" width="7.10" height="7.18" fill="#000000" shape-rendering="crispEdges"/>
<rect x="192.55" y="405.91" width="7.10" height="7.18" fill="#000000" shape-rendering="crispEdges"/>
<rect x="199.60" y="405.91" width="7.10" height="7.18" fill="#000000" shape-rendering="crispEdges"/>
<rect x="206.65" y="405.91" width="7.10" height="7.18" fill="#000000" shape-rendering="crispEdges"/>
<rect x="1.50" y="413.04" width="7.21" height="7.18" fill="#000000" shape-rendering="crispEdges"/>
<rect x="8.66" y="413.04" width="7.21" height="7.18" fill="#000000" shape-rendering="crispEdges"/>
<rect x="15.82" y="413.04" width="7.21" height="7.18" fill="#000000" shape-rendering="crispEdges"/>
<rect x="22.98" y="413.04" width="7.21" height="7.18" fill="#000000" shape-rendering="crispEdges"/>
<rect x="30.14" y="413.04" width="7.21" height="7.18" fill="#000000" shape-rendering="crispEdges"/>
<rect x="37.30" y="413.04" width="7.21" height="7.18" fill="#000000" shape-rendering="crispEdges"/>
<rect x="44.46" y="413.04" width="7.21" height="7.18" fill="#c6c41c" shape-rendering="crispEdges"/>
<rect x="51.62" y="413.04" width="7.21" height="7.18" fill="#f8f300" shape-rendering="crispEdges"/>
<rect x="58.78" y="413.04" width="7.21" height="7.18" fill="#000000" shape-rendering="crispEdges"/>
<rect x="65.94" y="413.04" width="7.21" height="7.18" fill="#000000" shape-rendering="crispEdges"/>
<rect x="108.00" y="413.04" width="6.85" height="7.18" fill="#4cc0a0" shape-rendering="crispEdges"/>
<rect x="114.80" y="413.04" width="7.15" height="7.18" fill="#000000" shape-rendering="crispEdges"/>
<rect x="121.90" y="413.04" width="7.15" height="7.18" fill="#000000" shape-rendering="crispEdges"/>
<rect x="129.00" y="413.04" width="7.15" height="7.18" fill="#000000" shape-rendering="crispEdges"/>
<rect x="136.10" y="413.04" width="7.15" height="7.18" fill="#000000" shape-rendering="crispEdges"/>
<rect x="143.20" y="413.04" width="7.15" height="7.18" fill="#000000" shape-rendering="crispEdges"/>
<rect x="150.30" y="413.04" width="7.15" height="7.18" fill="#331010" shape-rendering="crispEdges"/>
<rect x="164.20" y="413.04" width="7.25" height="7.18" fill="#4cc0a0" shape-rendering="crispEdges"/>
<rect x="171.40" y="413.04" width="7.10" height="7.18" fill="#000000" shape-rendering="crispEdges"/>
<rect x="178.45" y="413.04" width="7.10" height="7.18" fill="#000000" shape-rendering="crispEdges"/>
<rect x="185.50" y="413.04" width="7.10" height="7.18" fill="#000000" shape-rendering="crispEdges"/>
<rect x="192.55" y="413.04" width="7.10" height="7.18" fill="#000000" shape-rendering="crispEdges"/>
<rect x="199.60" y="413.04" width="7.10" height="7.18" fill="#000000" shape-rendering="crispEdges"/>
<rect x="206.65" y="413.04" width="7.10" height="7.18" fill="#000000" shape-rendering="crispEdges"/>
<rect x="1.50" y="420.17" width="7.21" height="7.18" fill="#000000" shape-rendering="crispEdges"/>
<rect x="8.66" y="420.17" width="7.21" height="7.18" fill="#000000" shape-rendering="crispEdges"/>
<rect x="15.82" y="420.17" width="7.21" height="7.18" fill="#000000" shape-rendering="crispEdges"/>
<rect x="22.98" y="420.17" width="7.21" height="7.18" fill="#000000" shape-rendering="crispEdges"/>
<rect x="30.14" y="420.17" width="7.21" height="7.18" fill="#000000" shape-rendering="crispEdges"/>
<rect x="37.30" y="420.17" width="7.21" height="7.18" fill="#000000" shape-rendering="crispEdges"/>
<rect x="44.46" y="420.17" width="7.21" height="7.18" fill="#6f7c12" shape-rendering="crispEdges"/>
<rect x="51.62" y="420.17" width="7.21" height="7.18" fill="#f8f300" shape-rendering="crispEdges"/>
<rect x="58.78" y="420.17" width="7.21" height="7.18" fill="#000000" shape-rendering="crispEdges"/>
<rect x="65.94" y="420.17" width="7.21" height="7.18" fill="#000000" shape-rendering="crispEdges"/>
<rect x="108.00" y="420.17" width="6.85" height="7.18" fill="#4cc0a0" shape-rendering="crispEdges"/>
<rect x="114.80" y="420.17" width="7.15" height="7.18" fill="#000000" shape-rendering="crispEdges"/>
<rect x="121.90" y="420.17" width="7.15" height="7.18" fill="#000000" shape-rendering="crispEdges"/>
<rect x="129.00" y="420.17" width="7.15" height="7.18" fill="#000000" shape-rendering="crispEdges"/>
<rect x="136.10" y="420.17" width="7.15" height="7.18" fill="#000000" shape-rendering="crispEdges"/>
<rect x="143.20" y="420.17" width="7.15" height="7.18" fill="#000000" shape-rendering="crispEdges"/>
<rect x="150.30" y="420.17" width="7.15" height="7.18" fill="#331010" shape-rendering="crispEdges"/>
<rect x="164.20" y="420.17" width="7.25" height="7.18" fill="#4cc0a0" shape-rendering="crispEdges"/>
<rect x="171.40" y="420.17" width="7.10" height="7.18" fill="#000000" shape-rendering="crispEdges"/>
<rect x="178.45" y="420.17" width="7.10" height="7.18" fill="#000000" shape-rendering="crispEdges"/>
<rect x="185.50" y="420.17" width="7.10" height="7.18" fill="#000000" shape-rendering="crispEdges"/>
<rect x="192.55" y="420.17" width="7.10" height="7.18" fill="#000000" shape-rendering="crispEdges"/>
<rect x="199.60" y="420.17" width="7.10" height="7.18" fill="#000000" shape-rendering="crispEdges"/>
<rect x="206.65" y="420.17" width="7.10" height="7.18" fill="#000000" shape-rendering="crispEdges"/>
<rect x="1.50" y="427.30" width="7.21" height="7.18" fill="#000000" shape-rendering="crispEdges"/>
<rect x="8.66" y="427.30" width="7.21" height="7.18" fill="#000000" shape-rendering="crispEdges"/>
<rect x="15.82" y="427.30" width="7.21" height="7.18" fill="#a2ae16" shape-rendering="crispEdges"/>
<rect x="22.98" y="427.30" width="7.21" height="7.18" fill="#000000" shape-rendering="crispEdges"/>
<rect x="30.14" y="427.30" width="7.21" height="7.18" fill="#000000" shape-rendering="crispEdges"/>
<rect x="37.30" y="427.30" width="7.21" height="7.18" fill="#000000" shape-rendering="crispEdges"/>
<rect x="44.46" y="427.30" width="7.21" height="7.18" fill="#f8f300" shape-rendering="crispEdges"/>
<rect x="51.62" y="427.30" width="7.21" height="7.18" fill="#1a2206" shape-rendering="crispEdges"/>
<rect x="58.78" y="427.30" width="7.21" height="7.18" fill="#000000" shape-rendering="crispEdges"/>
<rect x="65.94" y="427.30" width="7.21" height="7.18" fill="#000000" shape-rendering="crispEdges"/>
<rect x="108.00" y="427.30" width="6.85" height="7.18" fill="#4cc0a0" shape-rendering="crispEdges"/>
<rect x="114.80" y="427.30" width="7.15" height="7.18" fill="#c41e39" shape-rendering="crispEdges"/>
<rect x="121.90" y="427.30" width="7.15" height="7.18" fill="#000000" shape-rendering="crispEdges"/>
<rect x="129.00" y="427.30" width="7.15" height="7.18" fill="#f0184a" shape-rendering="crispEdges"/>
<rect x="136.10" y="427.30" width="7.15" height="7.18" fill="#000000" shape-rendering="crispEdges"/>
<rect x="143.20" y="427.30" width="7.15" height="7.18" fill="#000000" shape-rendering="crispEdges"/>
<rect x="150.30" y="427.30" width="7.15" height="7.18" fill="#c41e39" shape-rendering="crispEdges"/>
<rect x="164.20" y="427.30" width="7.25" height="7.18" fill="#4cc0a0" shape-rendering="crispEdges"/>
<rect x="171.40" y="427.30" width="7.10" height="7.18" fill="#000000" shape-rendering="crispEdges"/>
<rect x="178.45" y="427.30" width="7.10" height="7.18" fill="#000000" shape-rendering="crispEdges"/>
<rect x="185.50" y="427.30" width="7.10" height="7.18" fill="#000000" shape-rendering="crispEdges"/>
<rect x="192.55" y="427.30" width="7.10" height="7.18" fill="#000000" shape-rendering="crispEdges"/>
<rect x="199.60" y="427.30" width="7.10" height="7.18" fill="#000000" shape-rendering="crispEdges"/>
<rect x="206.65" y="427.30" width="7.10" height="7.18" fill="#000000" shape-rendering="crispEdges"/>
<rect x="36.80" y="356.00" width="1" height="7.18" fill="#4a4a4a"/>
<rect x="36.80" y="363.13" width="1" height="7.18" fill="#4a4a4a"/>
<rect x="22.48" y="370.26" width="1" height="7.18" fill="#4a4a4a"/>
<rect x="36.80" y="370.26" width="1" height="7.18" fill="#4a4a4a"/>
<rect x="36.80" y="377.39" width="1" height="7.18" fill="#4a4a4a"/>
<rect x="22.48" y="384.52" width="1" height="7.18" fill="#4a4a4a"/>
<rect x="36.80" y="384.52" width="1" height="7.18" fill="#4a4a4a"/>
<rect x="36.80" y="391.65" width="1" height="7.18" fill="#4a4a4a"/>
<rect x="36.80" y="398.78" width="1" height="7.18" fill="#4a4a4a"/>
<rect x="22.48" y="405.91" width="1" height="7.18" fill="#4a4a4a"/>
<rect x="36.80" y="405.91" width="1" height="7.18" fill="#4a4a4a"/>
<rect x="22.48" y="413.04" width="1" height="7.18" fill="#4a4a4a"/>
<rect x="36.80" y="413.04" width="1" height="7.18" fill="#4a4a4a"/>
<rect x="22.48" y="420.17" width="1" height="7.18" fill="#4a4a4a"/>
<rect x="36.80" y="420.17" width="1" height="7.18" fill="#4a4a4a"/>
<rect x="36.80" y="427.30" width="1" height="7.18" fill="#4a4a4a"/>
<rect x="73.60" y="356.00" width="34.10" height="7.13" fill="#ffffff" shape-rendering="crispEdges"/>
<text transform="translate(90.65,362.68) scale(0.8,1)" font-family="Liberation Sans" font-size="7.5" fill="#111" text-anchor="middle" stroke="#111" stroke-width="0.3">PSMA2</text>
<rect x="73.60" y="363.13" width="34.10" height="7.13" fill="#ffffff" shape-rendering="crispEdges"/>
<text transform="translate(90.65,369.81) scale(0.8,1)" font-family="Liberation Sans" font-size="7.5" fill="#111" text-anchor="middle" stroke="#111" stroke-width="0.3">PSMA3</text>
<rect x="73.60" y="370.26" width="34.10" height="7.13" fill="#ffffff" shape-rendering="crispEdges"/>
<text transform="translate(90.65,376.94) scale(0.8,1)" font-family="Liberation Sans" font-size="7.5" fill="#111" text-anchor="middle" stroke="#111" stroke-width="0.3">B2M</text>
<rect x="73.60" y="377.39" width="34.10" height="7.13" fill="#ffffff" shape-rendering="crispEdges"/>
<text transform="translate(90.65,384.07) scale(0.8,1)" font-family="Liberation Sans" font-size="7.5" fill="#111" text-anchor="middle" stroke="#111" stroke-width="0.3">HLA-F</text>
<rect x="73.60" y="384.52" width="34.10" height="7.13" fill="#ffffff" shape-rendering="crispEdges"/>
<text transform="translate(90.65,391.20) scale(0.8,1)" font-family="Liberation Sans" font-size="7.5" fill="#111" text-anchor="middle" stroke="#111" stroke-width="0.3">HLA-J</text>
<rect x="73.60" y="391.65" width="34.10" height="7.13" fill="#ffffff" shape-rendering="crispEdges"/>
<text transform="translate(90.65,398.33) scale(0.8,1)" font-family="Liberation Sans" font-size="7.5" fill="#111" text-anchor="middle" stroke="#111" stroke-width="0.3">HLA-F</text>
<rect x="73.60" y="398.78" width="34.10" height="7.13" fill="#ffffff" shape-rendering="crispEdges"/>
<text transform="translate(90.65,405.46) scale(0.8,1)" font-family="Liberation Sans" font-size="7.5" fill="#111" text-anchor="middle" stroke="#111" stroke-width="0.3">HLA-G</text>
<rect x="73.60" y="405.91" width="34.10" height="7.13" fill="#ffffff" shape-rendering="crispEdges"/>
<text transform="translate(90.65,412.59) scale(0.8,1)" font-family="Liberation Sans" font-size="7.5" fill="#111" text-anchor="middle" stroke="#111" stroke-width="0.3">TAPBP</text>
<rect x="73.60" y="413.04" width="34.10" height="7.13" fill="#ffffff" shape-rendering="crispEdges"/>
<text transform="translate(90.65,419.72) scale(0.8,1)" font-family="Liberation Sans" font-size="7.5" fill="#111" text-anchor="middle" stroke="#111" stroke-width="0.3">HLA-A</text>
<rect x="73.60" y="420.17" width="34.10" height="7.13" fill="#ffffff" shape-rendering="crispEdges"/>
<text transform="translate(90.65,426.85) scale(0.8,1)" font-family="Liberation Sans" font-size="7.5" fill="#111" text-anchor="middle" stroke="#111" stroke-width="0.3">HLA-C</text>
<rect x="73.60" y="427.30" width="34.10" height="7.13" fill="#ffffff" shape-rendering="crispEdges"/>
<text transform="translate(90.65,433.98) scale(0.8,1)" font-family="Liberation Sans" font-size="7.5" fill="#111" text-anchor="middle" stroke="#111" stroke-width="0.3">HLA-F</text>
<rect x="73.60" y="355.50" width="34.10" height="1.00" fill="#8c8c8c" shape-rendering="crispEdges"/>
<rect x="73.60" y="362.63" width="34.10" height="1.00" fill="#8c8c8c" shape-rendering="crispEdges"/>
<rect x="73.60" y="369.76" width="34.10" height="1.00" fill="#8c8c8c" shape-rendering="crispEdges"/>
<rect x="73.60" y="376.89" width="34.10" height="1.00" fill="#8c8c8c" shape-rendering="crispEdges"/>
<rect x="73.60" y="384.02" width="34.10" height="1.00" fill="#8c8c8c" shape-rendering="crispEdges"/>
<rect x="73.60" y="391.15" width="34.10" height="1.00" fill="#8c8c8c" shape-rendering="crispEdges"/>
<rect x="73.60" y="398.28" width="34.10" height="1.00" fill="#8c8c8c" shape-rendering="crispEdges"/>
<rect x="73.60" y="405.41" width="34.10" height="1.00" fill="#8c8c8c" shape-rendering="crispEdges"/>
<rect x="73.60" y="412.54" width="34.10" height="1.00" fill="#8c8c8c" shape-rendering="crispEdges"/>
<rect x="73.60" y="419.67" width="34.10" height="1.00" fill="#8c8c8c" shape-rendering="crispEdges"/>
<rect x="73.60" y="426.80" width="34.10" height="1.00" fill="#8c8c8c" shape-rendering="crispEdges"/>
<rect x="73.60" y="433.93" width="34.10" height="1.00" fill="#8c8c8c" shape-rendering="crispEdges"/>
<text x="0.90" y="10.80" font-family="Liberation Sans" font-size="11.6" fill="#000" text-anchor="start" font-weight="bold">A</text>
<text x="135.00" y="40.00" font-family="Liberation Serif" font-size="11.5" fill="#000" text-anchor="middle" font-weight="normal">DC</text>
<text x="194.00" y="40.00" font-family="Liberation Serif" font-size="11.5" fill="#000" text-anchor="middle" font-weight="normal">M&#934;</text>
<text transform="translate(7.28,66.0) rotate(-90)" font-family="Liberation Serif" font-size="5.2" font-weight="bold" fill="#000" stroke="#000" stroke-width="0.15">INTERFERON</text>
<text transform="translate(14.44,66.0) rotate(-90)" font-family="Liberation Serif" font-size="5.2" font-weight="bold" fill="#000" stroke="#000" stroke-width="0.15">IFN-ALPHA</text>
<text transform="translate(21.60,66.0) rotate(-90)" font-family="Liberation Serif" font-size="5.2" font-weight="bold" fill="#000" stroke="#000" stroke-width="0.15">IFN-GAMMA</text>
<text transform="translate(28.76,66.0) rotate(-90)" font-family="Liberation Serif" font-size="5.2" font-weight="bold" fill="#000" stroke="#000" stroke-width="0.15">INFLAMMATORY</text>
<text transform="translate(35.92,66.0) rotate(-90)" font-family="Liberation Serif" font-size="5.2" font-weight="bold" fill="#000" stroke="#000" stroke-width="0.15">CHEMOATTRACTANT</text>
<text transform="translate(43.08,66.0) rotate(-90)" font-family="Liberation Serif" font-size="5.2" font-weight="bold" fill="#000" stroke="#000" stroke-width="0.15">NEURONS</text>
<text transform="translate(50.24,66.0) rotate(-90)" font-family="Liberation Serif" font-size="5.2" font-weight="bold" fill="#000" stroke="#000" stroke-width="0.15">MHC</text>
<text transform="translate(57.40,66.0) rotate(-90)" font-family="Liberation Serif" font-size="5.2" font-weight="bold" fill="#000" stroke="#000" stroke-width="0.15">ANTIGEN</text>
<text transform="translate(64.56,66.0) rotate(-90)" font-family="Liberation Serif" font-size="5.2" font-weight="bold" fill="#000" stroke="#000" stroke-width="0.15">DEATH</text>
<text transform="translate(71.72,66.0) rotate(-90)" font-family="Liberation Serif" font-size="5.2" font-weight="bold" fill="#000" stroke="#000" stroke-width="0.15">APOPTOSIS</text>
<text transform="translate(119.55,67.3) rotate(-90)" font-family="Liberation Sans" font-size="5.5" font-weight="bold" fill="#000" stroke="#000" stroke-width="0.12">Lm</text>
<text transform="translate(126.65,67.3) rotate(-90)" font-family="Liberation Sans" font-size="5.5" font-weight="bold" fill="#000" stroke="#000" stroke-width="0.12">Ld</text>
<text transform="translate(133.75,67.3) rotate(-90)" font-family="Liberation Sans" font-size="5.5" font-weight="bold" fill="#000" stroke="#000" stroke-width="0.12">Tg</text>
<text transform="translate(140.85,67.3) rotate(-90)" font-family="Liberation Sans" font-size="5.5" font-weight="bold" fill="#000" stroke="#000" stroke-width="0.12">Bm 50</text>
<text transform="translate(147.95,67.3) rotate(-90)" font-family="Liberation Sans" font-size="5.5" font-weight="bold" fill="#000" stroke="#000" stroke-width="0.12">Bm 5</text>
<text transform="translate(155.05,67.3) rotate(-90)" font-family="Liberation Sans" font-size="5.5" font-weight="bold" fill="#000" stroke="#000" stroke-width="0.12">Mtb</text>
<text transform="translate(176.15,67.3) rotate(-90)" font-family="Liberation Sans" font-size="5.5" font-weight="bold" fill="#000" stroke="#000" stroke-width="0.12">Lm</text>
<text transform="translate(183.25,67.3) rotate(-90)" font-family="Liberation Sans" font-size="5.5" font-weight="bold" fill="#000" stroke="#000" stroke-width="0.12">Ld</text>
<text transform="translate(190.35,67.3) rotate(-90)" font-family="Liberation Sans" font-size="5.5" font-weight="bold" fill="#000" stroke="#000" stroke-width="0.12">Tg</text>
<text transform="translate(197.45,67.3) rotate(-90)" font-family="Liberation Sans" font-size="5.5" font-weight="bold" fill="#000" stroke="#000" stroke-width="0.12">Bm 50</text>
<text transform="translate(204.55,67.3) rotate(-90)" font-family="Liberation Sans" font-size="5.5" font-weight="bold" fill="#000" stroke="#000" stroke-width="0.12">Bm 5</text>
<text transform="translate(211.65,67.3) rotate(-90)" font-family="Liberation Sans" font-size="5.5" font-weight="bold" fill="#000" stroke="#000" stroke-width="0.12">Mtb</text>
<text x="228.60" y="9.80" font-family="Liberation Sans" font-size="11.2" fill="#000" text-anchor="start" font-weight="bold">B</text>
<text x="227.60" y="207.90" font-family="Liberation Sans" font-size="11.2" fill="#000" text-anchor="start" font-weight="bold">C</text>
<text x="308.50" y="24.20" font-family="Liberation Sans" font-size="16" fill="#000" text-anchor="middle" font-weight="normal">DC</text>
<text x="461.50" y="22.70" font-family="Liberation Sans" font-size="16" fill="#000" text-anchor="middle" font-weight="normal">M&#934;</text>
<line x1="257.2" y1="65.40" x2="257.2" y2="165.20" stroke="#777" stroke-width="0.8"/>
<line x1="255.2" y1="164.70" x2="257.2" y2="164.70" stroke="#777" stroke-width="0.7"/>
<text x="253.20" y="166.80" font-family="Liberation Sans" font-size="5.9" fill="#111" text-anchor="end" font-weight="bold">-2</text>
<line x1="255.2" y1="152.35" x2="257.2" y2="152.35" stroke="#777" stroke-width="0.7"/>
<text x="253.20" y="154.45" font-family="Liberation Sans" font-size="5.9" fill="#111" text-anchor="end" font-weight="bold">-1</text>
<line x1="255.2" y1="140.00" x2="257.2" y2="140.00" stroke="#777" stroke-width="0.7"/>
<text x="253.20" y="142.10" font-family="Liberation Sans" font-size="5.9" fill="#111" text-anchor="end" font-weight="bold">0</text>
<line x1="255.2" y1="127.65" x2="257.2" y2="127.65" stroke="#777" stroke-width="0.7"/>
<text x="253.20" y="129.75" font-family="Liberation Sans" font-size="5.9" fill="#111" text-anchor="end" font-weight="bold">1</text>
<line x1="255.2" y1="115.30" x2="257.2" y2="115.30" stroke="#777" stroke-width="0.7"/>
<text x="253.20" y="117.40" font-family="Liberation Sans" font-size="5.9" fill="#111" text-anchor="end" font-weight="bold">2</text>
<line x1="255.2" y1="102.95" x2="257.2" y2="102.95" stroke="#777" stroke-width="0.7"/>
<text x="253.20" y="105.05" font-family="Liberation Sans" font-size="5.9" fill="#111" text-anchor="end" font-weight="bold">3</text>
<line x1="255.2" y1="90.60" x2="257.2" y2="90.60" stroke="#777" stroke-width="0.7"/>
<text x="253.20" y="92.70" font-family="Liberation Sans" font-size="5.9" fill="#111" text-anchor="end" font-weight="bold">4</text>
<line x1="255.2" y1="78.25" x2="257.2" y2="78.25" stroke="#777" stroke-width="0.7"/>
<text x="253.20" y="80.35" font-family="Liberation Sans" font-size="5.9" fill="#111" text-anchor="end" font-weight="bold">5</text>
<line x1="255.2" y1="65.90" x2="257.2" y2="65.90" stroke="#777" stroke-width="0.7"/>
<text x="253.20" y="68.00" font-family="Liberation Sans" font-size="5.9" fill="#111" text-anchor="end" font-weight="bold">6</text>
<polyline points="273.20,100.48 288.80,110.36 304.30,78.25 319.90,130.12 335.20,131.35 350.50,78.25" fill="none" stroke="#c9ccd6" stroke-width="0.6" stroke-dasharray="1.2,1"/>
<polyline points="273.20,109.87 288.80,121.47 304.30,85.66 319.90,132.59 335.20,133.82 350.50,84.43" fill="none" stroke="#c9ccd6" stroke-width="0.6" stroke-dasharray="1.2,1"/>
<polyline points="273.20,114.44 288.80,125.18 304.30,89.37 319.90,136.29 335.20,137.53 350.50,88.13" fill="none" stroke="#c9ccd6" stroke-width="0.6" stroke-dasharray="1.2,1"/>
<polyline points="273.20,118.26 288.80,127.65 304.30,93.07 319.90,139.38 335.20,141.24 350.50,93.07" fill="none" stroke="#c9ccd6" stroke-width="0.6" stroke-dasharray="1.2,1"/>
<polyline points="273.20,124.07 288.80,128.88 304.30,99.25 319.90,143.71 335.20,147.41 350.50,95.54" fill="none" stroke="#c9ccd6" stroke-width="0.6" stroke-dasharray="1.2,1"/>
<polyline points="273.20,125.67 288.80,131.35 304.30,101.72 319.90,146.18 335.20,148.65 350.50,102.95" fill="none" stroke="#c9ccd6" stroke-width="0.6" stroke-dasharray="1.2,1"/>
<polyline points="273.20,129.75 288.80,133.82 304.30,116.53 319.90,151.12 335.20,148.65 350.50,107.89" fill="none" stroke="#c9ccd6" stroke-width="0.6" stroke-dasharray="1.2,1"/>
<polyline points="273.20,129.75 288.80,135.06 304.30,119.00 319.90,151.12 335.20,148.65 350.50,107.89" fill="none" stroke="#c9ccd6" stroke-width="0.6" stroke-dasharray="1.2,1"/>
<line x1="271.7" y1="127.50" x2="351.5" y2="127.50" stroke="#e27272" stroke-width="1"/>
<line x1="271.7" y1="140.50" x2="351.5" y2="140.50" stroke="#454a58" stroke-width="1"/>
<line x1="271.7" y1="152.50" x2="351.5" y2="152.50" stroke="#a9d48a" stroke-width="1"/>
<circle cx="273.20" cy="100.48" r="1.35" fill="#3e3430"/>
<circle cx="273.20" cy="109.87" r="1.35" fill="#3e3430"/>
<circle cx="273.20" cy="114.44" r="1.35" fill="#3e3430"/>
<circle cx="273.20" cy="118.26" r="1.35" fill="#3e3430"/>
<circle cx="273.20" cy="124.07" r="1.35" fill="#3e3430"/>
<circle cx="273.20" cy="125.67" r="1.35" fill="#3e3430"/>
<circle cx="273.20" cy="129.75" r="1.35" fill="#3e3430"/>
<circle cx="288.80" cy="110.36" r="1.35" fill="#3e3430"/>
<circle cx="288.80" cy="121.47" r="1.35" fill="#3e3430"/>
<circle cx="288.80" cy="125.18" r="1.35" fill="#3e3430"/>
<circle cx="288.80" cy="127.65" r="1.35" fill="#3e3430"/>
<circle cx="288.80" cy="128.88" r="1.35" fill="#3e3430"/>
<circle cx="288.80" cy="131.35" r="1.35" fill="#3e3430"/>
<circle cx="288.80" cy="133.82" r="1.35" fill="#3e3430"/>
<circle cx="288.80" cy="135.06" r="1.35" fill="#3e3430"/>
<circle cx="304.30" cy="78.25" r="1.35" fill="#3e3430"/>
<circle cx="304.30" cy="85.66" r="1.35" fill="#3e3430"/>
<circle cx="304.30" cy="89.37" r="1.35" fill="#3e3430"/>
<circle cx="304.30" cy="93.07" r="1.35" fill="#3e3430"/>
<circle cx="304.30" cy="99.25" r="1.35" fill="#3e3430"/>
<circle cx="304.30" cy="101.72" r="1.35" fill="#3e3430"/>
<circle cx="304.30" cy="116.53" r="1.35" fill="#3e3430"/>
<circle cx="304.30" cy="119.00" r="1.35" fill="#3e3430"/>
<circle cx="319.90" cy="130.12" r="1.35" fill="#3e3430"/>
<circle cx="319.90" cy="132.59" r="1.35" fill="#3e3430"/>
<circle cx="319.90" cy="136.29" r="1.35" fill="#3e3430"/>
<circle cx="319.90" cy="139.38" r="1.35" fill="#3e3430"/>
<circle cx="319.90" cy="143.71" r="1.35" fill="#3e3430"/>
<circle cx="319.90" cy="146.18" r="1.35" fill="#3e3430"/>
<circle cx="319.90" cy="151.12" r="1.35" fill="#3e3430"/>
<circle cx="335.20" cy="131.35" r="1.35" fill="#3e3430"/>
<circle cx="335.20" cy="133.82" r="1.35" fill="#3e3430"/>
<circle cx="335.20" cy="137.53" r="1.35" fill="#3e3430"/>
<circle cx="335.20" cy="141.24" r="1.35" fill="#3e3430"/>
<circle cx="335.20" cy="147.41" r="1.35" fill="#3e3430"/>
<circle cx="335.20" cy="148.65" r="1.35" fill="#3e3430"/>
<circle cx="350.50" cy="78.25" r="1.35" fill="#3e3430"/>
<circle cx="350.50" cy="84.43" r="1.35" fill="#3e3430"/>
<circle cx="350.50" cy="88.13" r="1.35" fill="#3e3430"/>
<circle cx="350.50" cy="93.07" r="1.35" fill="#3e3430"/>
<circle cx="350.50" cy="95.54" r="1.35" fill="#3e3430"/>
<circle cx="350.50" cy="102.95" r="1.35" fill="#3e3430"/>
<circle cx="350.50" cy="107.89" r="1.35" fill="#3e3430"/>
<polyline points="273.20,120.24 288.80,127.03 304.30,96.16 319.90,139.38 335.20,140.00 350.50,90.60" fill="none" stroke="#28305e" stroke-width="1.05"/>
<text transform="translate(235.70,110.00) rotate(-90)" font-family="Liberation Sans" font-size="8.5" text-anchor="middle" fill="#111" stroke="#111" stroke-width="0.15">Fold change (Log2)</text>
<text transform="translate(276.40,73.5) rotate(-90)" font-family="Liberation Sans" font-size="9" fill="#111" stroke="#111" stroke-width="0.2">Lm</text>
<text transform="translate(292.00,73.5) rotate(-90)" font-family="Liberation Sans" font-size="9" fill="#111" stroke="#111" stroke-width="0.2">Ld</text>
<text transform="translate(307.50,73.5) rotate(-90)" font-family="Liberation Sans" font-size="9" fill="#111" stroke="#111" stroke-width="0.2">Tg</text>
<text transform="translate(323.10,73.5) rotate(-90)" font-family="Liberation Sans" font-size="9" fill="#111" stroke="#111" stroke-width="0.2">Bm 5</text>
<text transform="translate(338.40,73.5) rotate(-90)" font-family="Liberation Sans" font-size="9" fill="#111" stroke="#111" stroke-width="0.2">Bm 50</text>
<text transform="translate(353.70,73.5) rotate(-90)" font-family="Liberation Sans" font-size="9" fill="#111" stroke="#111" stroke-width="0.2">Mtb</text>
<line x1="416.3" y1="65.40" x2="416.3" y2="165.20" stroke="#777" stroke-width="0.8"/>
<line x1="414.3" y1="164.70" x2="416.3" y2="164.70" stroke="#777" stroke-width="0.7"/>
<text x="412.30" y="166.80" font-family="Liberation Sans" font-size="5.9" fill="#111" text-anchor="end" font-weight="bold">-2</text>
<line x1="414.3" y1="152.35" x2="416.3" y2="152.35" stroke="#777" stroke-width="0.7"/>
<text x="412.30" y="154.45" font-family="Liberation Sans" font-size="5.9" fill="#111" text-anchor="end" font-weight="bold">-1</text>
<line x1="414.3" y1="140.00" x2="416.3" y2="140.00" stroke="#777" stroke-width="0.7"/>
<text x="412.30" y="142.10" font-family="Liberation Sans" font-size="5.9" fill="#111" text-anchor="end" font-weight="bold">0</text>
<line x1="414.3" y1="127.65" x2="416.3" y2="127.65" stroke="#777" stroke-width="0.7"/>
<text x="412.30" y="129.75" font-family="Liberation Sans" font-size="5.9" fill="#111" text-anchor="end" font-weight="bold">1</text>
<line x1="414.3" y1="115.30" x2="416.3" y2="115.30" stroke="#777" stroke-width="0.7"/>
<text x="412.30" y="117.40" font-family="Liberation Sans" font-size="5.9" fill="#111" text-anchor="end" font-weight="bold">2</text>
<line x1="414.3" y1="102.95" x2="416.3" y2="102.95" stroke="#777" stroke-width="0.7"/>
<text x="412.30" y="105.05" font-family="Liberation Sans" font-size="5.9" fill="#111" text-anchor="end" font-weight="bold">3</text>
<line x1="414.3" y1="90.60" x2="416.3" y2="90.60" stroke="#777" stroke-width="0.7"/>
<text x="412.30" y="92.70" font-family="Liberation Sans" font-size="5.9" fill="#111" text-anchor="end" font-weight="bold">4</text>
<line x1="414.3" y1="78.25" x2="416.3" y2="78.25" stroke="#777" stroke-width="0.7"/>
<text x="412.30" y="80.35" font-family="Liberation Sans" font-size="5.9" fill="#111" text-anchor="end" font-weight="bold">5</text>
<line x1="414.3" y1="65.90" x2="416.3" y2="65.90" stroke="#777" stroke-width="0.7"/>
<text x="412.30" y="68.00" font-family="Liberation Sans" font-size="5.9" fill="#111" text-anchor="end" font-weight="bold">6</text>
<polyline points="432.20,146.18 447.90,128.88 463.60,125.18 479.30,121.47 495.00,127.65 510.60,107.89" fill="none" stroke="#c9ccd6" stroke-width="0.6" stroke-dasharray="1.2,1"/>
<polyline points="432.20,153.59 447.90,130.12 463.60,128.88 479.30,128.88 495.00,130.12 510.60,114.06" fill="none" stroke="#c9ccd6" stroke-width="0.6" stroke-dasharray="1.2,1"/>
<polyline points="432.20,156.06 447.90,136.29 463.60,131.35 479.30,131.35 495.00,131.35 510.60,119.00" fill="none" stroke="#c9ccd6" stroke-width="0.6" stroke-dasharray="1.2,1"/>
<polyline points="432.20,157.29 447.90,138.76 463.60,133.82 479.30,132.59 495.00,132.59 510.60,120.24" fill="none" stroke="#c9ccd6" stroke-width="0.6" stroke-dasharray="1.2,1"/>
<polyline points="432.20,159.14 447.90,141.24 463.60,137.53 479.30,133.82 495.00,133.82 510.60,123.94" fill="none" stroke="#c9ccd6" stroke-width="0.6" stroke-dasharray="1.2,1"/>
<polyline points="432.20,159.14 447.90,143.71 463.60,141.24 479.30,135.06 495.00,133.82 510.60,126.41" fill="none" stroke="#c9ccd6" stroke-width="0.6" stroke-dasharray="1.2,1"/>
<polyline points="432.20,159.14 447.90,143.71 463.60,141.24 479.30,135.06 495.00,133.82 510.60,128.88" fill="none" stroke="#c9ccd6" stroke-width="0.6" stroke-dasharray="1.2,1"/>
<polyline points="432.20,159.14 447.90,143.71 463.60,141.24 479.30,135.06 495.00,133.82 510.60,132.59" fill="none" stroke="#c9ccd6" stroke-width="0.6" stroke-dasharray="1.2,1"/>
<line x1="430.7" y1="127.50" x2="511.6" y2="127.50" stroke="#e27272" stroke-width="1"/>
<line x1="430.7" y1="140.50" x2="511.6" y2="140.50" stroke="#454a58" stroke-width="1"/>
<line x1="430.7" y1="152.50" x2="511.6" y2="152.50" stroke="#a9d48a" stroke-width="1"/>
<circle cx="432.20" cy="146.18" r="1.35" fill="#3e3430"/>
<circle cx="432.20" cy="153.59" r="1.35" fill="#3e3430"/>
<circle cx="432.20" cy="156.06" r="1.35" fill="#3e3430"/>
<circle cx="432.20" cy="157.29" r="1.35" fill="#3e3430"/>
<circle cx="432.20" cy="159.14" r="1.35" fill="#3e3430"/>
<circle cx="447.90" cy="128.88" r="1.35" fill="#3e3430"/>
<circle cx="447.90" cy="130.12" r="1.35" fill="#3e3430"/>
<circle cx="447.90" cy="136.29" r="1.35" fill="#3e3430"/>
<circle cx="447.90" cy="138.76" r="1.35" fill="#3e3430"/>
<circle cx="447.90" cy="141.24" r="1.35" fill="#3e3430"/>
<circle cx="447.90" cy="143.71" r="1.35" fill="#3e3430"/>
<circle cx="463.60" cy="125.18" r="1.35" fill="#3e3430"/>
<circle cx="463.60" cy="128.88" r="1.35" fill="#3e3430"/>
<circle cx="463.60" cy="131.35" r="1.35" fill="#3e3430"/>
<circle cx="463.60" cy="133.82" r="1.35" fill="#3e3430"/>
<circle cx="463.60" cy="137.53" r="1.35" fill="#3e3430"/>
<circle cx="463.60" cy="141.24" r="1.35" fill="#3e3430"/>
<circle cx="479.30" cy="121.47" r="1.35" fill="#3e3430"/>
<circle cx="479.30" cy="128.88" r="1.35" fill="#3e3430"/>
<circle cx="479.30" cy="131.35" r="1.35" fill="#3e3430"/>
<circle cx="479.30" cy="132.59" r="1.35" fill="#3e3430"/>
<circle cx="479.30" cy="133.82" r="1.35" fill="#3e3430"/>
<circle cx="479.30" cy="135.06" r="1.35" fill="#3e3430"/>
<circle cx="495.00" cy="127.65" r="1.35" fill="#3e3430"/>
<circle cx="495.00" cy="130.12" r="1.35" fill="#3e3430"/>
<circle cx="495.00" cy="131.35" r="1.35" fill="#3e3430"/>
<circle cx="495.00" cy="132.59" r="1.35" fill="#3e3430"/>
<circle cx="495.00" cy="133.82" r="1.35" fill="#3e3430"/>
<circle cx="510.60" cy="107.89" r="1.35" fill="#3e3430"/>
<circle cx="510.60" cy="114.06" r="1.35" fill="#3e3430"/>
<circle cx="510.60" cy="119.00" r="1.35" fill="#3e3430"/>
<circle cx="510.60" cy="120.24" r="1.35" fill="#3e3430"/>
<circle cx="510.60" cy="123.94" r="1.35" fill="#3e3430"/>
<circle cx="510.60" cy="126.41" r="1.35" fill="#3e3430"/>
<circle cx="510.60" cy="128.88" r="1.35" fill="#3e3430"/>
<circle cx="510.60" cy="132.59" r="1.35" fill="#3e3430"/>
<polyline points="432.20,154.20 447.90,137.90 463.60,134.44 479.30,131.97 495.00,131.97 510.60,120.24" fill="none" stroke="#28305e" stroke-width="1.05"/>
<text transform="translate(437.30,73.5) rotate(-90)" font-family="Liberation Sans" font-size="9" fill="#111" stroke="#111" stroke-width="0.2">Lm</text>
<text transform="translate(451.90,73.5) rotate(-90)" font-family="Liberation Sans" font-size="9" fill="#111" stroke="#111" stroke-width="0.2">Ld</text>
<text transform="translate(467.60,73.5) rotate(-90)" font-family="Liberation Sans" font-size="9" fill="#111" stroke="#111" stroke-width="0.2">Tg</text>
<text transform="translate(483.30,73.5) rotate(-90)" font-family="Liberation Sans" font-size="9" fill="#111" stroke="#111" stroke-width="0.2">Bm 5</text>
<text transform="translate(498.80,73.5) rotate(-90)" font-family="Liberation Sans" font-size="9" fill="#111" stroke="#111" stroke-width="0.2">Bm 50</text>
<text transform="translate(513.80,73.5) rotate(-90)" font-family="Liberation Sans" font-size="9" fill="#111" stroke="#111" stroke-width="0.2">Mtb</text>
<line x1="258.7" y1="210.70" x2="258.7" y2="321.30" stroke="#777" stroke-width="0.8"/>
<line x1="256.7" y1="320.80" x2="258.7" y2="320.80" stroke="#777" stroke-width="0.7"/>
<text x="254.70" y="322.90" font-family="Liberation Sans" font-size="5.9" fill="#111" text-anchor="end" font-weight="bold">-2</text>
<line x1="256.7" y1="307.10" x2="258.7" y2="307.10" stroke="#777" stroke-width="0.7"/>
<text x="254.70" y="309.20" font-family="Liberation Sans" font-size="5.9" fill="#111" text-anchor="end" font-weight="bold">-1</text>
<line x1="256.7" y1="293.40" x2="258.7" y2="293.40" stroke="#777" stroke-width="0.7"/>
<text x="254.70" y="295.50" font-family="Liberation Sans" font-size="5.9" fill="#111" text-anchor="end" font-weight="bold">0</text>
<line x1="256.7" y1="279.70" x2="258.7" y2="279.70" stroke="#777" stroke-width="0.7"/>
<text x="254.70" y="281.80" font-family="Liberation Sans" font-size="5.9" fill="#111" text-anchor="end" font-weight="bold">1</text>
<line x1="256.7" y1="266.00" x2="258.7" y2="266.00" stroke="#777" stroke-width="0.7"/>
<text x="254.70" y="268.10" font-family="Liberation Sans" font-size="5.9" fill="#111" text-anchor="end" font-weight="bold">2</text>
<line x1="256.7" y1="252.30" x2="258.7" y2="252.30" stroke="#777" stroke-width="0.7"/>
<text x="254.70" y="254.40" font-family="Liberation Sans" font-size="5.9" fill="#111" text-anchor="end" font-weight="bold">3</text>
<line x1="256.7" y1="238.60" x2="258.7" y2="238.60" stroke="#777" stroke-width="0.7"/>
<text x="254.70" y="240.70" font-family="Liberation Sans" font-size="5.9" fill="#111" text-anchor="end" font-weight="bold">4</text>
<line x1="256.7" y1="224.90" x2="258.7" y2="224.90" stroke="#777" stroke-width="0.7"/>
<text x="254.70" y="227.00" font-family="Liberation Sans" font-size="5.9" fill="#111" text-anchor="end" font-weight="bold">5</text>
<line x1="256.7" y1="211.20" x2="258.7" y2="211.20" stroke="#777" stroke-width="0.7"/>
<text x="254.70" y="213.30" font-family="Liberation Sans" font-size="5.9" fill="#111" text-anchor="end" font-weight="bold">6</text>
<polyline points="275.50,264.63 293.00,276.96 310.20,248.19 327.00,286.55 344.00,287.92 361.00,218.05" fill="none" stroke="#c9ccd6" stroke-width="0.6" stroke-dasharray="1.2,1"/>
<polyline points="275.50,270.11 293.00,278.33 310.20,257.78 327.00,289.29 344.00,290.66 361.00,230.38" fill="none" stroke="#c9ccd6" stroke-width="0.6" stroke-dasharray="1.2,1"/>
<polyline points="275.50,279.70 293.00,286.55 310.20,260.52 327.00,293.40 344.00,292.03 361.00,235.86" fill="none" stroke="#c9ccd6" stroke-width="0.6" stroke-dasharray="1.2,1"/>
<polyline points="275.50,282.44 293.00,289.29 310.20,263.26 327.00,294.77 344.00,293.40 361.00,246.82" fill="none" stroke="#c9ccd6" stroke-width="0.6" stroke-dasharray="1.2,1"/>
<polyline points="275.50,285.18 293.00,290.66 310.20,272.85 327.00,296.14 344.00,294.77 361.00,279.70" fill="none" stroke="#c9ccd6" stroke-width="0.6" stroke-dasharray="1.2,1"/>
<polyline points="275.50,286.55 293.00,290.66 310.20,275.59 327.00,297.51 344.00,294.77 361.00,282.44" fill="none" stroke="#c9ccd6" stroke-width="0.6" stroke-dasharray="1.2,1"/>
<polyline points="275.50,289.29 293.00,290.66 310.20,275.59 327.00,297.51 344.00,294.77 361.00,283.81" fill="none" stroke="#c9ccd6" stroke-width="0.6" stroke-dasharray="1.2,1"/>
<line x1="274.0" y1="279.50" x2="362.0" y2="279.50" stroke="#3f4f63" stroke-width="1"/>
<line x1="274.0" y1="293.50" x2="362.0" y2="293.50" stroke="#454a58" stroke-width="1"/>
<line x1="274.0" y1="307.50" x2="362.0" y2="307.50" stroke="#a9d48a" stroke-width="1"/>
<circle cx="275.50" cy="264.63" r="1.35" fill="#3e3430"/>
<circle cx="275.50" cy="270.11" r="1.35" fill="#3e3430"/>
<circle cx="275.50" cy="279.70" r="1.35" fill="#3e3430"/>
<circle cx="275.50" cy="282.44" r="1.35" fill="#3e3430"/>
<circle cx="275.50" cy="285.18" r="1.35" fill="#3e3430"/>
<circle cx="275.50" cy="286.55" r="1.35" fill="#3e3430"/>
<circle cx="275.50" cy="289.29" r="1.35" fill="#3e3430"/>
<circle cx="293.00" cy="276.96" r="1.35" fill="#3e3430"/>
<circle cx="293.00" cy="278.33" r="1.35" fill="#3e3430"/>
<circle cx="293.00" cy="286.55" r="1.35" fill="#3e3430"/>
<circle cx="293.00" cy="289.29" r="1.35" fill="#3e3430"/>
<circle cx="293.00" cy="290.66" r="1.35" fill="#3e3430"/>
<circle cx="310.20" cy="248.19" r="1.35" fill="#3e3430"/>
<circle cx="310.20" cy="257.78" r="1.35" fill="#3e3430"/>
<circle cx="310.20" cy="260.52" r="1.35" fill="#3e3430"/>
<circle cx="310.20" cy="263.26" r="1.35" fill="#3e3430"/>
<circle cx="310.20" cy="272.85" r="1.35" fill="#3e3430"/>
<circle cx="310.20" cy="275.59" r="1.35" fill="#3e3430"/>
<circle cx="327.00" cy="286.55" r="1.35" fill="#3e3430"/>
<circle cx="327.00" cy="289.29" r="1.35" fill="#3e3430"/>
<circle cx="327.00" cy="293.40" r="1.35" fill="#3e3430"/>
<circle cx="327.00" cy="294.77" r="1.35" fill="#3e3430"/>
<circle cx="327.00" cy="296.14" r="1.35" fill="#3e3430"/>
<circle cx="327.00" cy="297.51" r="1.35" fill="#3e3430"/>
<circle cx="344.00" cy="287.92" r="1.35" fill="#3e3430"/>
<circle cx="344.00" cy="290.66" r="1.35" fill="#3e3430"/>
<circle cx="344.00" cy="292.03" r="1.35" fill="#3e3430"/>
<circle cx="344.00" cy="293.40" r="1.35" fill="#3e3430"/>
<circle cx="344.00" cy="294.77" r="1.35" fill="#3e3430"/>
<circle cx="361.00" cy="218.05" r="1.35" fill="#3e3430"/>
<circle cx="361.00" cy="230.38" r="1.35" fill="#3e3430"/>
<circle cx="361.00" cy="235.86" r="1.35" fill="#3e3430"/>
<circle cx="361.00" cy="246.82" r="1.35" fill="#3e3430"/>
<circle cx="361.00" cy="279.70" r="1.35" fill="#3e3430"/>
<circle cx="361.00" cy="282.44" r="1.35" fill="#3e3430"/>
<circle cx="361.00" cy="283.81" r="1.35" fill="#3e3430"/>
<polyline points="275.50,280.38 293.00,286.55 310.20,263.26 327.00,293.40 344.00,292.71 361.00,252.30" fill="none" stroke="#28305e" stroke-width="1.05"/>
<text transform="translate(237.20,268.00) rotate(-90)" font-family="Liberation Sans" font-size="8.5" text-anchor="middle" fill="#111" stroke="#111" stroke-width="0.15">Fold change (Log2)</text>
<line x1="417.0" y1="209.50" x2="417.0" y2="320.10" stroke="#777" stroke-width="0.8"/>
<line x1="415.0" y1="319.60" x2="417.0" y2="319.60" stroke="#777" stroke-width="0.7"/>
<text x="413.00" y="321.70" font-family="Liberation Sans" font-size="5.9" fill="#111" text-anchor="end" font-weight="bold">-2</text>
<line x1="415.0" y1="305.90" x2="417.0" y2="305.90" stroke="#777" stroke-width="0.7"/>
<text x="413.00" y="308.00" font-family="Liberation Sans" font-size="5.9" fill="#111" text-anchor="end" font-weight="bold">-1</text>
<line x1="415.0" y1="292.20" x2="417.0" y2="292.20" stroke="#777" stroke-width="0.7"/>
<text x="413.00" y="294.30" font-family="Liberation Sans" font-size="5.9" fill="#111" text-anchor="end" font-weight="bold">0</text>
<line x1="415.0" y1="278.50" x2="417.0" y2="278.50" stroke="#777" stroke-width="0.7"/>
<text x="413.00" y="280.60" font-family="Liberation Sans" font-size="5.9" fill="#111" text-anchor="end" font-weight="bold">1</text>
<line x1="415.0" y1="264.80" x2="417.0" y2="264.80" stroke="#777" stroke-width="0.7"/>
<text x="413.00" y="266.90" font-family="Liberation Sans" font-size="5.9" fill="#111" text-anchor="end" font-weight="bold">2</text>
<line x1="415.0" y1="251.10" x2="417.0" y2="251.10" stroke="#777" stroke-width="0.7"/>
<text x="413.00" y="253.20" font-family="Liberation Sans" font-size="5.9" fill="#111" text-anchor="end" font-weight="bold">3</text>
<line x1="415.0" y1="237.40" x2="417.0" y2="237.40" stroke="#777" stroke-width="0.7"/>
<text x="413.00" y="239.50" font-family="Liberation Sans" font-size="5.9" fill="#111" text-anchor="end" font-weight="bold">4</text>
<line x1="415.0" y1="223.70" x2="417.0" y2="223.70" stroke="#777" stroke-width="0.7"/>
<text x="413.00" y="225.80" font-family="Liberation Sans" font-size="5.9" fill="#111" text-anchor="end" font-weight="bold">5</text>
<line x1="415.0" y1="210.00" x2="417.0" y2="210.00" stroke="#777" stroke-width="0.7"/>
<text x="413.00" y="212.10" font-family="Liberation Sans" font-size="5.9" fill="#111" text-anchor="end" font-weight="bold">6</text>
<polyline points="433.40,281.24 450.70,277.13 467.20,273.02 484.20,282.61 500.60,279.87 517.00,218.22" fill="none" stroke="#c9ccd6" stroke-width="0.6" stroke-dasharray="1.2,1"/>
<polyline points="433.40,286.72 450.70,286.72 467.20,278.50 484.20,285.35 500.60,283.98 517.00,246.99" fill="none" stroke="#c9ccd6" stroke-width="0.6" stroke-dasharray="1.2,1"/>
<polyline points="433.40,289.46 450.70,289.46 467.20,279.87 484.20,290.83 500.60,288.09 517.00,262.06" fill="none" stroke="#c9ccd6" stroke-width="0.6" stroke-dasharray="1.2,1"/>
<polyline points="433.40,292.20 450.70,292.20 467.20,282.61 484.20,292.20 500.60,292.20 517.00,267.54" fill="none" stroke="#c9ccd6" stroke-width="0.6" stroke-dasharray="1.2,1"/>
<polyline points="433.40,294.94 450.70,294.94 467.20,285.35 484.20,303.16 500.60,296.31 517.00,268.91" fill="none" stroke="#c9ccd6" stroke-width="0.6" stroke-dasharray="1.2,1"/>
<polyline points="433.40,297.68 450.70,297.68 467.20,285.35 484.20,303.16 500.60,297.68 517.00,277.13" fill="none" stroke="#c9ccd6" stroke-width="0.6" stroke-dasharray="1.2,1"/>
<polyline points="433.40,305.90 450.70,297.68 467.20,285.35 484.20,303.16 500.60,297.68 517.00,281.24" fill="none" stroke="#c9ccd6" stroke-width="0.6" stroke-dasharray="1.2,1"/>
<polyline points="433.40,305.90 450.70,297.68 467.20,285.35 484.20,303.16 500.60,297.68 517.00,282.61" fill="none" stroke="#c9ccd6" stroke-width="0.6" stroke-dasharray="1.2,1"/>
<line x1="431.9" y1="278.50" x2="518.0" y2="278.50" stroke="#e27272" stroke-width="1"/>
<line x1="431.9" y1="292.50" x2="518.0" y2="292.50" stroke="#454a58" stroke-width="1"/>
<line x1="431.9" y1="305.50" x2="518.0" y2="305.50" stroke="#a9d48a" stroke-width="1"/>
<circle cx="433.40" cy="281.24" r="1.35" fill="#3e3430"/>
<circle cx="433.40" cy="286.72" r="1.35" fill="#3e3430"/>
<circle cx="433.40" cy="289.46" r="1.35" fill="#3e3430"/>
<circle cx="433.40" cy="292.20" r="1.35" fill="#3e3430"/>
<circle cx="433.40" cy="294.94" r="1.35" fill="#3e3430"/>
<circle cx="433.40" cy="297.68" r="1.35" fill="#3e3430"/>
<circle cx="433.40" cy="305.90" r="1.35" fill="#3e3430"/>
<circle cx="450.70" cy="277.13" r="1.35" fill="#3e3430"/>
<circle cx="450.70" cy="286.72" r="1.35" fill="#3e3430"/>
<circle cx="450.70" cy="289.46" r="1.35" fill="#3e3430"/>
<circle cx="450.70" cy="292.20" r="1.35" fill="#3e3430"/>
<circle cx="450.70" cy="294.94" r="1.35" fill="#3e3430"/>
<circle cx="450.70" cy="297.68" r="1.35" fill="#3e3430"/>
<circle cx="467.20" cy="273.02" r="1.35" fill="#3e3430"/>
<circle cx="467.20" cy="278.50" r="1.35" fill="#3e3430"/>
<circle cx="467.20" cy="279.87" r="1.35" fill="#3e3430"/>
<circle cx="467.20" cy="282.61" r="1.35" fill="#3e3430"/>
<circle cx="467.20" cy="285.35" r="1.35" fill="#3e3430"/>
<circle cx="484.20" cy="282.61" r="1.35" fill="#3e3430"/>
<circle cx="484.20" cy="285.35" r="1.35" fill="#3e3430"/>
<circle cx="484.20" cy="290.83" r="1.35" fill="#3e3430"/>
<circle cx="484.20" cy="292.20" r="1.35" fill="#3e3430"/>
<circle cx="484.20" cy="303.16" r="1.35" fill="#3e3430"/>
<circle cx="500.60" cy="279.87" r="1.35" fill="#3e3430"/>
<circle cx="500.60" cy="283.98" r="1.35" fill="#3e3430"/>
<circle cx="500.60" cy="288.09" r="1.35" fill="#3e3430"/>
<circle cx="500.60" cy="292.20" r="1.35" fill="#3e3430"/>
<circle cx="500.60" cy="296.31" r="1.35" fill="#3e3430"/>
<circle cx="500.60" cy="297.68" r="1.35" fill="#3e3430"/>
<circle cx="517.00" cy="218.22" r="1.35" fill="#3e3430"/>
<circle cx="517.00" cy="246.99" r="1.35" fill="#3e3430"/>
<circle cx="517.00" cy="262.06" r="1.35" fill="#3e3430"/>
<circle cx="517.00" cy="267.54" r="1.35" fill="#3e3430"/>
<circle cx="517.00" cy="268.91" r="1.35" fill="#3e3430"/>
<circle cx="517.00" cy="277.13" r="1.35" fill="#3e3430"/>
<circle cx="517.00" cy="281.24" r="1.35" fill="#3e3430"/>
<circle cx="517.00" cy="282.61" r="1.35" fill="#3e3430"/>
<polyline points="433.40,292.20 450.70,290.83 467.20,279.87 484.20,291.51 500.60,288.77 517.00,264.80" fill="none" stroke="#28305e" stroke-width="1.05"/>
<text x="263.8" y="184.8" font-family="Liberation Sans" font-size="8.6" letter-spacing="0.19" fill="#111" stroke="#111" stroke-width="0.15">IFIT4, MX2, OAS2, IFIT1, ISG15, MX1, IFI35, IFITM3, <tspan fill="#d4452f" stroke="#d4452f">GS3686</tspan></text>
<text x="312" y="333.4" font-family="Liberation Sans" font-size="8.6" letter-spacing="0.19" fill="#111" stroke="#111" stroke-width="0.15">MCP3, IP9, <tspan fill="#d4452f" stroke="#d4452f">E2-EPF</tspan>, IP10, MIG, MCP2</text>
</svg>
</body></html>
